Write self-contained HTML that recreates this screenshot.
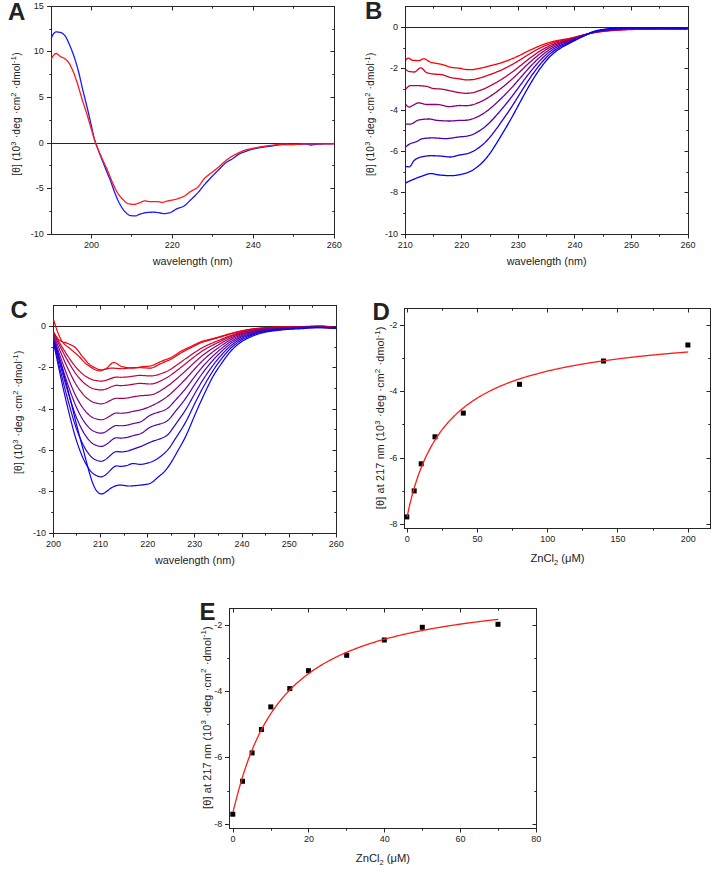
<!DOCTYPE html>
<html><head><meta charset="utf-8"><style>
html,body{margin:0;padding:0;background:#fff;}
svg{display:block;}
text{font-family:"Liberation Sans", sans-serif;fill:#222;}
</style></head><body>
<svg width="720" height="873" viewBox="0 0 720 873">
<rect x="51.5" y="6.5" width="283.0" height="228.0" fill="none" stroke="#262626" stroke-width="1"/>
<path d="M91.5,234.5 V238.5 M91.5,6.5 V10.5 M172.5,234.5 V238.5 M172.5,6.5 V10.5 M253.5,234.5 V238.5 M253.5,6.5 V10.5 M334.5,234.5 V238.5 M334.5,6.5 V10.5 M131.5,234.5 V236.7 M131.5,6.5 V8.7 M212.5,234.5 V236.7 M212.5,6.5 V8.7 M293.5,234.5 V236.7 M293.5,6.5 V8.7 M51.5,6.5 H47.0 M334.5,6.5 H330.5 M51.5,51.5 H47.0 M334.5,51.5 H330.5 M51.5,97.5 H47.0 M334.5,97.5 H330.5 M51.5,143.5 H47.0 M334.5,143.5 H330.5 M51.5,188.5 H47.0 M334.5,188.5 H330.5 M51.5,234.5 H47.0 M334.5,234.5 H330.5 M51.5,29.5 H49.3 M334.5,29.5 H332.3 M51.5,74.5 H49.3 M334.5,74.5 H332.3 M51.5,120.5 H49.3 M334.5,120.5 H332.3 M51.5,165.5 H49.3 M334.5,165.5 H332.3 M51.5,211.5 H49.3 M334.5,211.5 H332.3" stroke="#262626" stroke-width="1" fill="none"/>
<text x="91.46" y="247.90" text-anchor="middle" font-size="9">200</text>
<text x="172.37" y="247.90" text-anchor="middle" font-size="9">220</text>
<text x="253.29" y="247.90" text-anchor="middle" font-size="9">240</text>
<text x="334.20" y="247.90" text-anchor="middle" font-size="9">260</text>
<text x="43.70" y="8.90" text-anchor="end" font-size="9">15</text>
<text x="43.70" y="54.48" text-anchor="end" font-size="9">10</text>
<text x="43.70" y="100.06" text-anchor="end" font-size="9">5</text>
<text x="43.70" y="145.64" text-anchor="end" font-size="9">0</text>
<text x="43.70" y="191.22" text-anchor="end" font-size="9">-5</text>
<text x="43.70" y="236.80" text-anchor="end" font-size="9">-10</text>
<path d="M51.5,143.5 H334.5" stroke="#262626" stroke-width="1"/>
<path d="M51.20,38.50 L51.90,36.66 L52.60,35.13 L53.30,34.11 L54.00,33.25 L54.70,32.53 L55.40,32.05 L56.10,31.90 L56.80,31.92 L57.50,31.98 L58.20,32.06 L58.90,32.18 L59.60,32.31 L60.30,32.47 L61.00,32.65 L61.70,32.88 L62.40,33.27 L63.10,33.80 L63.80,34.44 L64.50,35.16 L65.20,35.96 L65.90,37.02 L66.60,38.32 L67.30,39.79 L68.00,41.37 L68.70,43.00 L69.40,44.60 L70.10,46.20 L70.80,47.86 L71.50,49.60 L72.20,51.40 L72.90,53.28 L73.60,55.23 L74.30,57.26 L75.00,59.39 L75.70,61.62 L76.40,63.94 L77.10,66.35 L77.80,68.85 L78.50,71.46 L79.20,74.26 L79.90,77.25 L80.60,80.35 L81.30,83.48 L82.00,86.59 L82.70,89.58 L83.40,92.45 L84.10,95.24 L84.80,97.99 L85.50,100.74 L86.20,103.51 L86.90,106.34 L87.60,109.26 L88.30,112.27 L89.00,115.34 L89.70,118.44 L90.40,121.56 L91.10,124.67 L91.80,127.74 L92.50,130.92 L93.20,134.13 L93.90,137.12 L94.60,139.68 L95.30,141.90 L96.00,143.91 L96.70,145.80 L97.40,147.62 L98.10,149.46 L98.80,151.35 L99.50,153.20 L100.20,155.03 L100.90,156.84 L101.60,158.64 L102.30,160.44 L103.00,162.22 L103.70,163.99 L104.40,165.75 L105.10,167.50 L105.80,169.25 L106.50,170.99 L107.20,172.70 L107.90,174.40 L108.60,176.09 L109.30,177.81 L110.00,179.56 L110.70,181.36 L111.40,183.26 L112.10,185.25 L112.80,187.26 L113.50,189.27 L114.20,191.21 L114.90,193.05 L115.60,194.80 L116.30,196.52 L117.00,198.20 L117.70,199.82 L118.40,201.34 L119.10,202.74 L119.80,204.03 L120.50,205.27 L121.20,206.48 L121.90,207.64 L122.60,208.72 L123.30,209.72 L124.00,210.62 L124.70,211.40 L125.40,212.08 L126.10,212.75 L126.80,213.39 L127.50,213.99 L128.20,214.53 L128.90,214.98 L129.60,215.33 L130.30,215.55 L131.00,215.65 L131.70,215.72 L132.40,215.79 L133.10,215.84 L133.80,215.87 L134.50,215.90 L135.20,215.89 L135.90,215.78 L136.60,215.56 L137.30,215.27 L138.00,214.96 L138.70,214.65 L139.40,214.40 L140.10,214.18 L140.80,213.95 L141.50,213.72 L142.20,213.50 L142.90,213.28 L143.60,213.08 L144.30,212.91 L145.00,212.76 L145.70,212.65 L146.40,212.57 L147.10,212.51 L147.80,212.44 L148.50,212.39 L149.20,212.33 L149.90,212.29 L150.60,212.25 L151.30,212.23 L152.00,212.21 L152.70,212.20 L153.40,212.21 L154.10,212.23 L154.80,212.27 L155.50,212.32 L156.20,212.39 L156.90,212.46 L157.60,212.53 L158.30,212.60 L159.00,212.70 L159.70,212.84 L160.40,213.00 L161.10,213.17 L161.80,213.33 L162.50,213.47 L163.20,213.56 L163.90,213.60 L164.60,213.58 L165.30,213.53 L166.00,213.45 L166.70,213.34 L167.40,213.22 L168.10,213.08 L168.80,212.93 L169.50,212.78 L170.20,212.56 L170.90,212.27 L171.60,211.92 L172.30,211.52 L173.00,211.09 L173.70,210.64 L174.40,210.18 L175.10,209.74 L175.80,209.32 L176.50,208.94 L177.20,208.62 L177.90,208.33 L178.60,208.07 L179.30,207.83 L180.00,207.59 L180.70,207.36 L181.40,207.11 L182.10,206.84 L182.80,206.55 L183.50,206.21 L184.20,205.83 L184.90,205.36 L185.60,204.81 L186.30,204.20 L187.00,203.54 L187.70,202.84 L188.40,202.12 L189.10,201.40 L189.80,200.68 L190.50,199.99 L191.20,199.32 L191.90,198.66 L192.60,198.00 L193.30,197.33 L194.00,196.66 L194.70,195.98 L195.40,195.29 L196.10,194.59 L196.80,193.87 L197.50,193.12 L198.20,192.36 L198.90,191.55 L199.60,190.71 L200.30,189.85 L201.00,188.97 L201.70,188.08 L202.40,187.19 L203.10,186.32 L203.80,185.46 L204.50,184.63 L205.20,183.83 L205.90,183.04 L206.60,182.26 L207.30,181.49 L208.00,180.72 L208.70,179.97 L209.40,179.22 L210.10,178.48 L210.80,177.74 L211.50,177.01 L212.20,176.28 L212.90,175.57 L213.60,174.86 L214.30,174.16 L215.00,173.46 L215.70,172.77 L216.40,172.08 L217.10,171.39 L217.80,170.70 L218.50,170.00 L219.20,169.29 L219.90,168.55 L220.60,167.80 L221.30,167.04 L222.00,166.29 L222.70,165.55 L223.40,164.84 L224.10,164.17 L224.80,163.54 L225.50,162.98 L226.20,162.47 L226.90,162.00 L227.60,161.57 L228.30,161.16 L229.00,160.76 L229.70,160.38 L230.40,159.99 L231.10,159.60 L231.80,159.19 L232.50,158.75 L233.20,158.28 L233.90,157.77 L234.60,157.24 L235.30,156.71 L236.00,156.17 L236.70,155.64 L237.40,155.13 L238.10,154.66 L238.80,154.23 L239.50,153.85 L240.20,153.51 L240.90,153.18 L241.60,152.88 L242.30,152.59 L243.00,152.32 L243.70,152.05 L244.40,151.80 L245.10,151.55 L245.80,151.31 L246.50,151.07 L247.20,150.83 L247.90,150.59 L248.60,150.36 L249.30,150.13 L250.00,149.91 L250.70,149.70 L251.40,149.50 L252.10,149.31 L252.80,149.12 L253.50,148.95 L254.20,148.79 L254.90,148.63 L255.60,148.48 L256.30,148.33 L257.00,148.19 L257.70,148.06 L258.40,147.93 L259.10,147.80 L259.80,147.68 L260.50,147.57 L261.20,147.45 L261.90,147.35 L262.60,147.24 L263.30,147.14 L264.00,147.04 L264.70,146.94 L265.40,146.85 L266.10,146.76 L266.80,146.66 L267.50,146.57 L268.20,146.48 L268.90,146.39 L269.60,146.30 L270.30,146.21 L271.00,146.11 L271.70,146.01 L272.40,145.91 L273.10,145.80 L273.80,145.69 L274.50,145.58 L275.20,145.47 L275.90,145.36 L276.60,145.26 L277.30,145.15 L278.00,145.06 L278.70,144.97 L279.40,144.88 L280.10,144.81 L280.80,144.74 L281.50,144.69 L282.20,144.65 L282.90,144.62 L283.60,144.60 L284.30,144.59 L285.00,144.58 L285.70,144.57 L286.40,144.56 L287.10,144.56 L287.80,144.55 L288.50,144.55 L289.20,144.54 L289.90,144.54 L290.60,144.54 L291.30,144.53 L292.00,144.52 L292.70,144.52 L293.40,144.51 L294.10,144.50 L294.80,144.49 L295.50,144.47 L296.20,144.45 L296.90,144.43 L297.60,144.40 L298.30,144.37 L299.00,144.34 L299.70,144.31 L300.40,144.27 L301.10,144.24 L301.80,144.21 L302.50,144.18 L303.20,144.16 L303.90,144.14 L304.60,144.12 L305.30,144.11 L306.00,144.10 L306.70,144.11 L307.40,144.21 L308.10,144.38 L308.80,144.58 L309.50,144.78 L310.20,144.93 L310.90,145.00 L311.60,144.98 L312.30,144.90 L313.00,144.79 L313.70,144.66 L314.40,144.53 L315.10,144.41 L315.80,144.32 L316.50,144.26 L317.20,144.21 L317.90,144.16 L318.60,144.12 L319.30,144.08 L320.00,144.05 L320.70,144.02 L321.40,144.01 L322.10,143.99 L322.80,143.98 L323.50,143.97 L324.20,143.96 L324.90,143.96 L325.60,143.95 L326.30,143.94 L327.00,143.93 L327.70,143.93 L328.40,143.92 L329.10,143.92 L329.80,143.91 L330.50,143.91 L331.20,143.91 L331.90,143.90 L332.60,143.90 L333.30,143.90 L333.90,143.90" stroke="#1a1aff" stroke-width="1.3" fill="none"/>
<path d="M51.20,59.50 L51.90,57.91 L52.60,56.57 L53.30,55.64 L54.00,54.82 L54.70,54.12 L55.40,53.64 L56.10,53.50 L56.80,53.69 L57.50,54.12 L58.20,54.69 L58.90,55.32 L59.60,55.93 L60.30,56.44 L61.00,56.82 L61.70,57.14 L62.40,57.44 L63.10,57.74 L63.80,58.06 L64.50,58.45 L65.20,58.91 L65.90,59.48 L66.60,60.14 L67.30,60.89 L68.00,61.72 L68.70,62.64 L69.40,63.70 L70.10,64.92 L70.80,66.29 L71.50,67.77 L72.20,69.33 L72.90,70.94 L73.60,72.60 L74.30,74.41 L75.00,76.33 L75.70,78.34 L76.40,80.43 L77.10,82.56 L77.80,84.72 L78.50,86.99 L79.20,89.37 L79.90,91.81 L80.60,94.26 L81.30,96.67 L82.00,99.00 L82.70,101.23 L83.40,103.40 L84.10,105.54 L84.80,107.65 L85.50,109.78 L86.20,111.92 L86.90,114.12 L87.60,116.38 L88.30,118.70 L89.00,121.06 L89.70,123.45 L90.40,125.85 L91.10,128.25 L91.80,130.64 L92.50,133.09 L93.20,135.55 L93.90,137.92 L94.60,140.10 L95.30,142.14 L96.00,144.09 L96.70,145.96 L97.40,147.76 L98.10,149.51 L98.80,151.20 L99.50,152.81 L100.20,154.36 L100.90,155.88 L101.60,157.39 L102.30,158.90 L103.00,160.44 L103.70,161.98 L104.40,163.51 L105.10,165.04 L105.80,166.57 L106.50,168.11 L107.20,169.67 L107.90,171.27 L108.60,172.91 L109.30,174.63 L110.00,176.41 L110.70,178.20 L111.40,179.97 L112.10,181.68 L112.80,183.30 L113.50,184.86 L114.20,186.39 L114.90,187.89 L115.60,189.32 L116.30,190.66 L117.00,191.88 L117.70,192.98 L118.40,194.03 L119.10,195.03 L119.80,195.97 L120.50,196.86 L121.20,197.70 L121.90,198.48 L122.60,199.20 L123.30,199.89 L124.00,200.59 L124.70,201.28 L125.40,201.94 L126.10,202.53 L126.80,203.03 L127.50,203.42 L128.20,203.68 L128.90,203.83 L129.60,203.96 L130.30,204.08 L131.00,204.19 L131.70,204.27 L132.40,204.34 L133.10,204.38 L133.80,204.40 L134.50,204.37 L135.20,204.25 L135.90,204.06 L136.60,203.83 L137.30,203.57 L138.00,203.30 L138.70,203.04 L139.40,202.80 L140.10,202.55 L140.80,202.26 L141.50,201.94 L142.20,201.63 L142.90,201.35 L143.60,201.11 L144.30,200.96 L145.00,200.90 L145.70,200.93 L146.40,201.03 L147.10,201.15 L147.80,201.30 L148.50,201.45 L149.20,201.58 L149.90,201.67 L150.60,201.70 L151.30,201.70 L152.00,201.70 L152.70,201.70 L153.40,201.70 L154.10,201.70 L154.80,201.70 L155.50,201.70 L156.20,201.70 L156.90,201.70 L157.60,201.70 L158.30,201.70 L159.00,201.78 L159.70,201.96 L160.40,202.17 L161.10,202.34 L161.80,202.40 L162.50,202.35 L163.20,202.23 L163.90,202.06 L164.60,201.86 L165.30,201.64 L166.00,201.43 L166.70,201.22 L167.40,201.05 L168.10,200.90 L168.80,200.76 L169.50,200.62 L170.20,200.48 L170.90,200.34 L171.60,200.21 L172.30,200.07 L173.00,199.93 L173.70,199.78 L174.40,199.63 L175.10,199.47 L175.80,199.29 L176.50,199.11 L177.20,198.91 L177.90,198.70 L178.60,198.47 L179.30,198.23 L180.00,197.97 L180.70,197.70 L181.40,197.41 L182.10,197.11 L182.80,196.79 L183.50,196.45 L184.20,196.09 L184.90,195.69 L185.60,195.23 L186.30,194.74 L187.00,194.22 L187.70,193.68 L188.40,193.14 L189.10,192.60 L189.80,192.09 L190.50,191.60 L191.20,191.15 L191.90,190.74 L192.60,190.35 L193.30,189.98 L194.00,189.61 L194.70,189.24 L195.40,188.85 L196.10,188.42 L196.80,187.96 L197.50,187.44 L198.20,186.84 L198.90,186.09 L199.60,185.22 L200.30,184.25 L201.00,183.22 L201.70,182.17 L202.40,181.13 L203.10,180.13 L203.80,179.21 L204.50,178.40 L205.20,177.72 L205.90,177.08 L206.60,176.49 L207.30,175.92 L208.00,175.38 L208.70,174.86 L209.40,174.34 L210.10,173.82 L210.80,173.30 L211.50,172.76 L212.20,172.20 L212.90,171.65 L213.60,171.10 L214.30,170.56 L215.00,170.01 L215.70,169.46 L216.40,168.90 L217.10,168.34 L217.80,167.77 L218.50,167.18 L219.20,166.58 L219.90,165.95 L220.60,165.31 L221.30,164.65 L222.00,163.99 L222.70,163.33 L223.40,162.69 L224.10,162.06 L224.80,161.45 L225.50,160.88 L226.20,160.33 L226.90,159.80 L227.60,159.27 L228.30,158.76 L229.00,158.26 L229.70,157.78 L230.40,157.31 L231.10,156.86 L231.80,156.42 L232.50,156.00 L233.20,155.60 L233.90,155.21 L234.60,154.83 L235.30,154.46 L236.00,154.10 L236.70,153.76 L237.40,153.42 L238.10,153.09 L238.80,152.77 L239.50,152.46 L240.20,152.14 L240.90,151.82 L241.60,151.51 L242.30,151.20 L243.00,150.90 L243.70,150.62 L244.40,150.35 L245.10,150.10 L245.80,149.87 L246.50,149.67 L247.20,149.50 L247.90,149.33 L248.60,149.19 L249.30,149.05 L250.00,148.91 L250.70,148.79 L251.40,148.66 L252.10,148.53 L252.80,148.40 L253.50,148.26 L254.20,148.12 L254.90,147.97 L255.60,147.82 L256.30,147.68 L257.00,147.53 L257.70,147.39 L258.40,147.25 L259.10,147.11 L259.80,146.99 L260.50,146.87 L261.20,146.75 L261.90,146.64 L262.60,146.52 L263.30,146.41 L264.00,146.31 L264.70,146.20 L265.40,146.10 L266.10,146.00 L266.80,145.90 L267.50,145.81 L268.20,145.72 L268.90,145.63 L269.60,145.55 L270.30,145.46 L271.00,145.38 L271.70,145.29 L272.40,145.20 L273.10,145.11 L273.80,145.02 L274.50,144.93 L275.20,144.84 L275.90,144.75 L276.60,144.67 L277.30,144.59 L278.00,144.52 L278.70,144.45 L279.40,144.39 L280.10,144.33 L280.80,144.28 L281.50,144.25 L282.20,144.22 L282.90,144.20 L283.60,144.20 L284.30,144.20 L285.00,144.21 L285.70,144.22 L286.40,144.24 L287.10,144.25 L287.80,144.27 L288.50,144.29 L289.20,144.31 L289.90,144.33 L290.60,144.35 L291.30,144.36 L292.00,144.38 L292.70,144.39 L293.40,144.40 L294.10,144.40 L294.80,144.40 L295.50,144.38 L296.20,144.36 L296.90,144.34 L297.60,144.31 L298.30,144.27 L299.00,144.23 L299.70,144.19 L300.40,144.14 L301.10,144.10 L301.80,144.06 L302.50,144.02 L303.20,143.99 L303.90,143.95 L304.60,143.93 L305.30,143.91 L306.00,143.90 L306.70,143.90 L307.40,143.90 L308.10,143.90 L308.80,143.90 L309.50,143.90 L310.20,143.90 L310.90,143.90 L311.60,143.90 L312.30,143.90 L313.00,143.90 L313.70,143.90 L314.40,143.90 L315.10,143.90 L315.80,143.90 L316.50,143.90 L317.20,143.90 L317.90,143.90 L318.60,143.90 L319.30,143.90 L320.00,143.90 L320.70,143.90 L321.40,143.90 L322.10,143.90 L322.80,143.90 L323.50,143.89 L324.20,143.89 L324.90,143.88 L325.60,143.87 L326.30,143.86 L327.00,143.85 L327.70,143.84 L328.40,143.82 L329.10,143.81 L329.80,143.80 L330.50,143.78 L331.20,143.76 L331.90,143.75 L332.60,143.73 L333.30,143.71 L333.90,143.70" stroke="#ff1a1a" stroke-width="1.3" fill="none"/>
<text transform="translate(20.2,114) rotate(-90)" text-anchor="middle" font-size="10.1" letter-spacing="0.22">[θ] (10<tspan font-size="7.47" dy="-4.24">3</tspan><tspan dy="4.24"> ·deg ·cm</tspan><tspan font-size="7.47" dy="-4.24">2</tspan><tspan dy="4.24"> ·dmol</tspan><tspan font-size="7.47" dy="-4.24">-1</tspan><tspan dy="4.24">)</tspan></text>
<text x="192.60" y="265.10" text-anchor="middle" font-size="10.8">wavelength (nm)</text>
<text x="8" y="19.5" font-size="24" font-weight="bold">A</text>
<rect x="405.5" y="6.5" width="283.0" height="228.0" fill="none" stroke="#262626" stroke-width="1"/>
<path d="M405.5,234.5 V238.5 M405.5,6.5 V10.5 M461.5,234.5 V238.5 M461.5,6.5 V10.5 M518.5,234.5 V238.5 M518.5,6.5 V10.5 M574.5,234.5 V238.5 M574.5,6.5 V10.5 M631.5,234.5 V238.5 M631.5,6.5 V10.5 M688.5,234.5 V238.5 M688.5,6.5 V10.5 M433.5,234.5 V236.7 M433.5,6.5 V8.7 M490.5,234.5 V236.7 M490.5,6.5 V8.7 M546.5,234.5 V236.7 M546.5,6.5 V8.7 M603.5,234.5 V236.7 M603.5,6.5 V8.7 M659.5,234.5 V236.7 M659.5,6.5 V8.7 M405.5,27.5 H401.0 M688.5,27.5 H684.5 M405.5,68.5 H401.0 M688.5,68.5 H684.5 M405.5,110.5 H401.0 M688.5,110.5 H684.5 M405.5,151.5 H401.0 M688.5,151.5 H684.5 M405.5,192.5 H401.0 M688.5,192.5 H684.5 M405.5,234.5 H401.0 M688.5,234.5 H684.5 M405.5,48.5 H403.3 M688.5,48.5 H686.3 M405.5,89.5 H403.3 M688.5,89.5 H686.3 M405.5,130.5 H403.3 M688.5,130.5 H686.3 M405.5,172.5 H403.3 M688.5,172.5 H686.3 M405.5,213.5 H403.3 M688.5,213.5 H686.3" stroke="#262626" stroke-width="1" fill="none"/>
<text x="405.30" y="247.60" text-anchor="middle" font-size="9">210</text>
<text x="461.84" y="247.60" text-anchor="middle" font-size="9">220</text>
<text x="518.38" y="247.60" text-anchor="middle" font-size="9">230</text>
<text x="574.92" y="247.60" text-anchor="middle" font-size="9">240</text>
<text x="631.46" y="247.60" text-anchor="middle" font-size="9">250</text>
<text x="688.00" y="247.60" text-anchor="middle" font-size="9">260</text>
<text x="398.00" y="29.86" text-anchor="end" font-size="9">0</text>
<text x="398.00" y="71.19" text-anchor="end" font-size="9">-2</text>
<text x="398.00" y="112.52" text-anchor="end" font-size="9">-4</text>
<text x="398.00" y="153.85" text-anchor="end" font-size="9">-6</text>
<text x="398.00" y="195.17" text-anchor="end" font-size="9">-8</text>
<text x="398.00" y="236.50" text-anchor="end" font-size="9">-10</text>
<path d="M405.5,27.5 H688.5" stroke="#262626" stroke-width="1"/>
<path d="M405.80,60.20 L406.50,59.29 L407.20,58.56 L407.90,58.15 L408.60,58.15 L409.30,58.43 L410.00,58.87 L410.70,59.37 L411.40,59.83 L412.10,60.14 L412.80,60.25 L413.50,60.32 L414.20,60.39 L414.90,60.45 L415.60,60.50 L416.30,60.54 L417.00,60.57 L417.70,60.59 L418.40,60.60 L419.10,60.55 L419.80,60.35 L420.50,60.04 L421.20,59.67 L421.90,59.31 L422.60,59.02 L423.30,58.83 L424.00,58.81 L424.70,58.95 L425.40,59.21 L426.10,59.56 L426.80,59.97 L427.50,60.43 L428.20,60.89 L428.90,61.34 L429.60,61.75 L430.30,62.09 L431.00,62.33 L431.70,62.51 L432.40,62.68 L433.10,62.83 L433.80,62.97 L434.50,63.10 L435.20,63.22 L435.90,63.34 L436.60,63.45 L437.30,63.56 L438.00,63.68 L438.70,63.80 L439.40,63.92 L440.10,64.06 L440.80,64.21 L441.50,64.37 L442.20,64.56 L442.90,64.77 L443.60,64.99 L444.30,65.23 L445.00,65.48 L445.70,65.72 L446.40,65.97 L447.10,66.22 L447.80,66.45 L448.50,66.68 L449.20,66.89 L449.90,67.07 L450.60,67.23 L451.30,67.37 L452.00,67.47 L452.70,67.56 L453.40,67.65 L454.10,67.72 L454.80,67.78 L455.50,67.84 L456.20,67.90 L456.90,67.96 L457.60,68.03 L458.30,68.10 L459.00,68.17 L459.70,68.26 L460.40,68.36 L461.10,68.50 L461.80,68.66 L462.50,68.84 L463.20,69.01 L463.90,69.18 L464.60,69.32 L465.30,69.42 L466.00,69.48 L466.70,69.50 L467.40,69.53 L468.10,69.55 L468.80,69.57 L469.50,69.59 L470.20,69.60 L470.90,69.61 L471.60,69.61 L472.30,69.61 L473.00,69.57 L473.70,69.49 L474.40,69.39 L475.10,69.26 L475.80,69.12 L476.50,68.97 L477.20,68.83 L477.90,68.69 L478.60,68.57 L479.30,68.43 L480.00,68.29 L480.70,68.15 L481.40,68.00 L482.10,67.84 L482.80,67.69 L483.50,67.52 L484.20,67.36 L484.90,67.18 L485.60,67.00 L486.30,66.81 L487.00,66.62 L487.70,66.42 L488.40,66.23 L489.10,66.04 L489.80,65.85 L490.50,65.67 L491.20,65.50 L491.90,65.33 L492.60,65.16 L493.30,64.99 L494.00,64.82 L494.70,64.65 L495.40,64.47 L496.10,64.28 L496.80,64.09 L497.50,63.90 L498.20,63.71 L498.90,63.51 L499.60,63.30 L500.30,63.09 L501.00,62.88 L501.70,62.66 L502.40,62.43 L503.10,62.20 L503.80,61.95 L504.50,61.70 L505.20,61.45 L505.90,61.19 L506.60,60.92 L507.30,60.65 L508.00,60.38 L508.70,60.11 L509.40,59.84 L510.10,59.56 L510.80,59.27 L511.50,58.98 L512.20,58.69 L512.90,58.40 L513.60,58.10 L514.30,57.79 L515.00,57.49 L515.70,57.17 L516.40,56.86 L517.10,56.54 L517.80,56.21 L518.50,55.88 L519.20,55.55 L519.90,55.22 L520.60,54.87 L521.30,54.53 L522.00,54.17 L522.70,53.81 L523.40,53.45 L524.10,53.09 L524.80,52.73 L525.50,52.38 L526.20,52.03 L526.90,51.69 L527.60,51.35 L528.30,51.02 L529.00,50.68 L529.70,50.35 L530.40,50.02 L531.10,49.70 L531.80,49.37 L532.50,49.05 L533.20,48.72 L533.90,48.40 L534.60,48.08 L535.30,47.76 L536.00,47.44 L536.70,47.14 L537.40,46.83 L538.10,46.54 L538.80,46.26 L539.50,45.97 L540.20,45.70 L540.90,45.43 L541.60,45.16 L542.30,44.90 L543.00,44.65 L543.70,44.39 L544.40,44.15 L545.10,43.90 L545.80,43.66 L546.50,43.43 L547.20,43.19 L547.90,42.97 L548.60,42.75 L549.30,42.53 L550.00,42.33 L550.70,42.13 L551.40,41.93 L552.10,41.74 L552.80,41.55 L553.50,41.37 L554.20,41.19 L554.90,41.02 L555.60,40.87 L556.30,40.72 L557.00,40.58 L557.70,40.44 L558.40,40.31 L559.10,40.19 L559.80,40.07 L560.50,39.95 L561.20,39.83 L561.90,39.71 L562.60,39.59 L563.30,39.48 L564.00,39.37 L564.70,39.26 L565.40,39.14 L566.10,39.03 L566.80,38.91 L567.50,38.79 L568.20,38.66 L568.90,38.52 L569.60,38.37 L570.30,38.22 L571.00,38.06 L571.70,37.90 L572.40,37.74 L573.10,37.57 L573.80,37.40 L574.50,37.23 L575.20,37.05 L575.90,36.86 L576.60,36.67 L577.30,36.47 L578.00,36.28 L578.70,36.09 L579.40,35.90 L580.10,35.72 L580.80,35.54 L581.50,35.36 L582.20,35.19 L582.90,35.01 L583.60,34.84 L584.30,34.67 L585.00,34.51 L585.70,34.35 L586.40,34.19 L587.10,34.03 L587.80,33.87 L588.50,33.71 L589.20,33.56 L589.90,33.41 L590.60,33.27 L591.30,33.13 L592.00,33.00 L592.70,32.87 L593.40,32.75 L594.10,32.63 L594.80,32.52 L595.50,32.41 L596.20,32.30 L596.90,32.20 L597.60,32.10 L598.30,32.00 L599.00,31.90 L599.70,31.81 L600.40,31.73 L601.10,31.64 L601.80,31.56 L602.50,31.48 L603.20,31.40 L603.90,31.32 L604.60,31.24 L605.30,31.17 L606.00,31.10 L606.70,31.03 L607.40,30.96 L608.10,30.89 L608.80,30.83 L609.50,30.76 L610.20,30.71 L610.90,30.65 L611.60,30.59 L612.30,30.54 L613.00,30.49 L613.70,30.44 L614.40,30.39 L615.10,30.34 L615.80,30.29 L616.50,30.25 L617.20,30.20 L617.90,30.15 L618.60,30.11 L619.30,30.06 L620.00,30.02 L620.70,29.98 L621.40,29.94 L622.10,29.90 L622.80,29.86 L623.50,29.82 L624.20,29.79 L624.90,29.75 L625.60,29.72 L626.30,29.69 L627.00,29.66 L627.70,29.63 L628.40,29.61 L629.10,29.58 L629.80,29.56 L630.50,29.55 L631.20,29.53 L631.90,29.51 L632.60,29.50 L633.30,29.48 L634.00,29.47 L634.70,29.45 L635.40,29.44 L636.10,29.43 L636.80,29.42 L637.50,29.41 L638.20,29.40 L638.90,29.39 L639.60,29.38 L640.30,29.37 L641.00,29.36 L641.70,29.35 L642.40,29.35 L643.10,29.34 L643.80,29.33 L644.50,29.32 L645.20,29.31 L645.90,29.31 L646.60,29.30 L647.30,29.29 L648.00,29.29 L648.70,29.28 L649.40,29.27 L650.10,29.27 L650.80,29.26 L651.50,29.26 L652.20,29.25 L652.90,29.25 L653.60,29.24 L654.30,29.24 L655.00,29.23 L655.70,29.23 L656.40,29.22 L657.10,29.22 L657.80,29.21 L658.50,29.21 L659.20,29.20 L659.90,29.20 L660.60,29.20 L661.30,29.19 L662.00,29.19 L662.70,29.19 L663.40,29.18 L664.10,29.18 L664.80,29.17 L665.50,29.17 L666.20,29.17 L666.90,29.16 L667.60,29.16 L668.30,29.16 L669.00,29.15 L669.70,29.15 L670.40,29.15 L671.10,29.14 L671.80,29.14 L672.50,29.14 L673.20,29.13 L673.90,29.13 L674.60,29.13 L675.30,29.13 L676.00,29.12 L676.70,29.12 L677.40,29.12 L678.10,29.12 L678.80,29.11 L679.50,29.11 L680.20,29.11 L680.90,29.11 L681.60,29.11 L682.30,29.11 L683.00,29.10 L683.70,29.10 L684.40,29.10 L685.10,29.10 L685.80,29.10 L686.50,29.10 L687.20,29.10 L687.50,29.10" stroke="rgb(255,0,0)" stroke-width="1.3" fill="none"/>
<path d="M405.80,69.50 L406.50,70.03 L407.20,70.53 L407.90,70.96 L408.60,71.30 L409.30,71.50 L410.00,71.62 L410.70,71.72 L411.40,71.81 L412.10,71.89 L412.80,71.94 L413.50,71.98 L414.20,72.00 L414.90,71.92 L415.60,71.59 L416.30,71.06 L417.00,70.40 L417.70,69.70 L418.40,69.01 L419.10,68.42 L419.80,67.99 L420.50,67.80 L421.20,67.91 L421.90,68.27 L422.60,68.82 L423.30,69.51 L424.00,70.25 L424.70,71.00 L425.40,71.68 L426.10,72.24 L426.80,72.60 L427.50,72.83 L428.20,73.05 L428.90,73.24 L429.60,73.41 L430.30,73.57 L431.00,73.71 L431.70,73.82 L432.40,73.93 L433.10,74.01 L433.80,74.08 L434.50,74.14 L435.20,74.19 L435.90,74.23 L436.60,74.27 L437.30,74.31 L438.00,74.35 L438.70,74.39 L439.40,74.43 L440.10,74.49 L440.80,74.56 L441.50,74.64 L442.20,74.76 L442.90,74.92 L443.60,75.11 L444.30,75.32 L445.00,75.56 L445.70,75.81 L446.40,76.07 L447.10,76.33 L447.80,76.59 L448.50,76.84 L449.20,77.08 L449.90,77.30 L450.60,77.50 L451.30,77.66 L452.00,77.79 L452.70,77.92 L453.40,78.03 L454.10,78.14 L454.80,78.23 L455.50,78.33 L456.20,78.42 L456.90,78.51 L457.60,78.60 L458.30,78.69 L459.00,78.79 L459.70,78.89 L460.40,78.99 L461.10,79.12 L461.80,79.26 L462.50,79.40 L463.20,79.53 L463.90,79.65 L464.60,79.75 L465.30,79.81 L466.00,79.84 L466.70,79.83 L467.40,79.83 L468.10,79.82 L468.80,79.80 L469.50,79.79 L470.20,79.77 L470.90,79.74 L471.60,79.72 L472.30,79.69 L473.00,79.61 L473.70,79.50 L474.40,79.36 L475.10,79.20 L475.80,79.02 L476.50,78.83 L477.20,78.65 L477.90,78.47 L478.60,78.30 L479.30,78.12 L480.00,77.93 L480.70,77.74 L481.40,77.53 L482.10,77.33 L482.80,77.12 L483.50,76.90 L484.20,76.67 L484.90,76.44 L485.60,76.20 L486.30,75.94 L487.00,75.68 L487.70,75.42 L488.40,75.15 L489.10,74.89 L489.80,74.62 L490.50,74.37 L491.20,74.11 L491.90,73.85 L492.60,73.59 L493.30,73.33 L494.00,73.07 L494.70,72.80 L495.40,72.53 L496.10,72.25 L496.80,71.97 L497.50,71.68 L498.20,71.39 L498.90,71.10 L499.60,70.80 L500.30,70.49 L501.00,70.18 L501.70,69.87 L502.40,69.55 L503.10,69.22 L503.80,68.88 L504.50,68.54 L505.20,68.19 L505.90,67.84 L506.60,67.49 L507.30,67.13 L508.00,66.76 L508.70,66.40 L509.40,66.03 L510.10,65.65 L510.80,65.27 L511.50,64.88 L512.20,64.49 L512.90,64.10 L513.60,63.70 L514.30,63.30 L515.00,62.90 L515.70,62.49 L516.40,62.07 L517.10,61.65 L517.80,61.23 L518.50,60.80 L519.20,60.37 L519.90,59.94 L520.60,59.51 L521.30,59.06 L522.00,58.61 L522.70,58.16 L523.40,57.71 L524.10,57.26 L524.80,56.81 L525.50,56.36 L526.20,55.93 L526.90,55.50 L527.60,55.07 L528.30,54.65 L529.00,54.23 L529.70,53.81 L530.40,53.40 L531.10,52.98 L531.80,52.58 L532.50,52.17 L533.20,51.76 L533.90,51.36 L534.60,50.96 L535.30,50.56 L536.00,50.17 L536.70,49.78 L537.40,49.40 L538.10,49.04 L538.80,48.68 L539.50,48.33 L540.20,47.98 L540.90,47.64 L541.60,47.30 L542.30,46.97 L543.00,46.65 L543.70,46.33 L544.40,46.02 L545.10,45.72 L545.80,45.42 L546.50,45.12 L547.20,44.83 L547.90,44.54 L548.60,44.27 L549.30,44.00 L550.00,43.74 L550.70,43.50 L551.40,43.25 L552.10,43.02 L552.80,42.78 L553.50,42.56 L554.20,42.35 L554.90,42.14 L555.60,41.94 L556.30,41.75 L557.00,41.58 L557.70,41.41 L558.40,41.24 L559.10,41.08 L559.80,40.93 L560.50,40.78 L561.20,40.63 L561.90,40.47 L562.60,40.33 L563.30,40.18 L564.00,40.04 L564.70,39.91 L565.40,39.77 L566.10,39.63 L566.80,39.49 L567.50,39.34 L568.20,39.18 L568.90,39.02 L569.60,38.85 L570.30,38.68 L571.00,38.50 L571.70,38.32 L572.40,38.14 L573.10,37.95 L573.80,37.76 L574.50,37.57 L575.20,37.37 L575.90,37.17 L576.60,36.96 L577.30,36.75 L578.00,36.54 L578.70,36.33 L579.40,36.13 L580.10,35.93 L580.80,35.73 L581.50,35.54 L582.20,35.35 L582.90,35.16 L583.60,34.98 L584.30,34.79 L585.00,34.61 L585.70,34.43 L586.40,34.25 L587.10,34.07 L587.80,33.90 L588.50,33.72 L589.20,33.55 L589.90,33.38 L590.60,33.21 L591.30,33.06 L592.00,32.91 L592.70,32.78 L593.40,32.64 L594.10,32.51 L594.80,32.39 L595.50,32.27 L596.20,32.15 L596.90,32.04 L597.60,31.94 L598.30,31.83 L599.00,31.73 L599.70,31.64 L600.40,31.54 L601.10,31.46 L601.80,31.37 L602.50,31.29 L603.20,31.20 L603.90,31.12 L604.60,31.05 L605.30,30.97 L606.00,30.89 L606.70,30.82 L607.40,30.75 L608.10,30.68 L608.80,30.62 L609.50,30.55 L610.20,30.49 L610.90,30.44 L611.60,30.38 L612.30,30.33 L613.00,30.28 L613.70,30.23 L614.40,30.18 L615.10,30.13 L615.80,30.08 L616.50,30.04 L617.20,29.99 L617.90,29.95 L618.60,29.90 L619.30,29.86 L620.00,29.82 L620.70,29.78 L621.40,29.74 L622.10,29.70 L622.80,29.67 L623.50,29.63 L624.20,29.59 L624.90,29.56 L625.60,29.53 L626.30,29.49 L627.00,29.47 L627.70,29.44 L628.40,29.42 L629.10,29.40 L629.80,29.38 L630.50,29.36 L631.20,29.35 L631.90,29.33 L632.60,29.32 L633.30,29.30 L634.00,29.29 L634.70,29.28 L635.40,29.27 L636.10,29.26 L636.80,29.25 L637.50,29.24 L638.20,29.23 L638.90,29.22 L639.60,29.21 L640.30,29.20 L641.00,29.20 L641.70,29.19 L642.40,29.18 L643.10,29.17 L643.80,29.17 L644.50,29.16 L645.20,29.15 L645.90,29.15 L646.60,29.14 L647.30,29.13 L648.00,29.13 L648.70,29.12 L649.40,29.12 L650.10,29.11 L650.80,29.11 L651.50,29.10 L652.20,29.10 L652.90,29.09 L653.60,29.09 L654.30,29.08 L655.00,29.08 L655.70,29.07 L656.40,29.07 L657.10,29.07 L657.80,29.06 L658.50,29.06 L659.20,29.05 L659.90,29.05 L660.60,29.05 L661.30,29.04 L662.00,29.04 L662.70,29.04 L663.40,29.03 L664.10,29.03 L664.80,29.03 L665.50,29.03 L666.20,29.02 L666.90,29.02 L667.60,29.02 L668.30,29.01 L669.00,29.01 L669.70,29.01 L670.40,29.01 L671.10,29.01 L671.80,29.00 L672.50,29.00 L673.20,29.00 L673.90,29.00 L674.60,29.00 L675.30,28.99 L676.00,28.99 L676.70,28.99 L677.40,28.99 L678.10,28.99 L678.80,28.99 L679.50,28.99 L680.20,28.99 L680.90,28.99 L681.60,28.99 L682.30,28.99 L683.00,28.99 L683.70,28.99 L684.40,28.99 L685.10,28.99 L685.80,28.99 L686.50,28.99 L687.20,28.99 L687.50,28.99" stroke="rgb(219,0,36)" stroke-width="1.3" fill="none"/>
<path d="M405.80,89.10 L406.50,88.32 L407.20,87.56 L407.90,86.86 L408.60,86.28 L409.30,85.85 L410.00,85.62 L410.70,85.60 L411.40,85.60 L412.10,85.60 L412.80,85.60 L413.50,85.60 L414.20,85.60 L414.90,85.60 L415.60,85.60 L416.30,85.60 L417.00,85.60 L417.70,85.61 L418.40,85.63 L419.10,85.66 L419.80,85.70 L420.50,85.74 L421.20,85.79 L421.90,85.85 L422.60,85.91 L423.30,85.98 L424.00,86.06 L424.70,86.14 L425.40,86.22 L426.10,86.31 L426.80,86.40 L427.50,86.54 L428.20,86.75 L428.90,87.02 L429.60,87.32 L430.30,87.63 L431.00,87.93 L431.70,88.19 L432.40,88.39 L433.10,88.51 L433.80,88.59 L434.50,88.65 L435.20,88.71 L435.90,88.75 L436.60,88.79 L437.30,88.83 L438.00,88.87 L438.70,88.91 L439.40,88.95 L440.10,89.00 L440.80,89.06 L441.50,89.13 L442.20,89.22 L442.90,89.32 L443.60,89.44 L444.30,89.57 L445.00,89.70 L445.70,89.85 L446.40,90.00 L447.10,90.15 L447.80,90.31 L448.50,90.46 L449.20,90.62 L449.90,90.77 L450.60,90.92 L451.30,91.06 L452.00,91.20 L452.70,91.34 L453.40,91.49 L454.10,91.64 L454.80,91.80 L455.50,91.95 L456.20,92.09 L456.90,92.24 L457.60,92.37 L458.30,92.50 L459.00,92.61 L459.70,92.71 L460.40,92.80 L461.10,92.89 L461.80,92.98 L462.50,93.06 L463.20,93.14 L463.90,93.21 L464.60,93.26 L465.30,93.29 L466.00,93.31 L466.70,93.30 L467.40,93.27 L468.10,93.23 L468.80,93.18 L469.50,93.11 L470.20,93.04 L470.90,92.96 L471.60,92.87 L472.30,92.78 L473.00,92.65 L473.70,92.49 L474.40,92.31 L475.10,92.10 L475.80,91.87 L476.50,91.64 L477.20,91.41 L477.90,91.18 L478.60,90.95 L479.30,90.71 L480.00,90.46 L480.70,90.20 L481.40,89.93 L482.10,89.66 L482.80,89.37 L483.50,89.08 L484.20,88.78 L484.90,88.47 L485.60,88.15 L486.30,87.81 L487.00,87.46 L487.70,87.11 L488.40,86.75 L489.10,86.39 L489.80,86.03 L490.50,85.67 L491.20,85.30 L491.90,84.93 L492.60,84.56 L493.30,84.18 L494.00,83.79 L494.70,83.40 L495.40,83.01 L496.10,82.61 L496.80,82.21 L497.50,81.80 L498.20,81.38 L498.90,80.96 L499.60,80.54 L500.30,80.11 L501.00,79.68 L501.70,79.24 L502.40,78.79 L503.10,78.34 L503.80,77.89 L504.50,77.43 L505.20,76.96 L505.90,76.49 L506.60,76.02 L507.30,75.54 L508.00,75.06 L508.70,74.57 L509.40,74.07 L510.10,73.57 L510.80,73.06 L511.50,72.55 L512.20,72.04 L512.90,71.52 L513.60,70.99 L514.30,70.47 L515.00,69.93 L515.70,69.39 L516.40,68.85 L517.10,68.30 L517.80,67.75 L518.50,67.20 L519.20,66.64 L519.90,66.09 L520.60,65.53 L521.30,64.96 L522.00,64.39 L522.70,63.82 L523.40,63.24 L524.10,62.67 L524.80,62.11 L525.50,61.55 L526.20,61.00 L526.90,60.45 L527.60,59.91 L528.30,59.37 L529.00,58.84 L529.70,58.31 L530.40,57.78 L531.10,57.26 L531.80,56.74 L532.50,56.23 L533.20,55.72 L533.90,55.21 L534.60,54.70 L535.30,54.20 L536.00,53.71 L536.70,53.22 L537.40,52.75 L538.10,52.28 L538.80,51.83 L539.50,51.38 L540.20,50.94 L540.90,50.51 L541.60,50.08 L542.30,49.67 L543.00,49.26 L543.70,48.86 L544.40,48.47 L545.10,48.08 L545.80,47.69 L546.50,47.32 L547.20,46.95 L547.90,46.59 L548.60,46.24 L549.30,45.91 L550.00,45.59 L550.70,45.28 L551.40,44.97 L552.10,44.68 L552.80,44.39 L553.50,44.12 L554.20,43.85 L554.90,43.59 L555.60,43.34 L556.30,43.10 L557.00,42.88 L557.70,42.66 L558.40,42.45 L559.10,42.24 L559.80,42.04 L560.50,41.85 L561.20,41.65 L561.90,41.46 L562.60,41.28 L563.30,41.10 L564.00,40.92 L564.70,40.75 L565.40,40.58 L566.10,40.41 L566.80,40.24 L567.50,40.06 L568.20,39.87 L568.90,39.68 L569.60,39.48 L570.30,39.28 L571.00,39.07 L571.70,38.87 L572.40,38.66 L573.10,38.45 L573.80,38.23 L574.50,38.02 L575.20,37.79 L575.90,37.57 L576.60,37.34 L577.30,37.11 L578.00,36.87 L578.70,36.65 L579.40,36.42 L580.10,36.20 L580.80,35.99 L581.50,35.77 L582.20,35.56 L582.90,35.35 L583.60,35.15 L584.30,34.94 L585.00,34.74 L585.70,34.54 L586.40,34.34 L587.10,34.13 L587.80,33.93 L588.50,33.73 L589.20,33.53 L589.90,33.33 L590.60,33.15 L591.30,32.97 L592.00,32.81 L592.70,32.65 L593.40,32.50 L594.10,32.36 L594.80,32.22 L595.50,32.09 L596.20,31.96 L596.90,31.84 L597.60,31.73 L598.30,31.62 L599.00,31.51 L599.70,31.41 L600.40,31.31 L601.10,31.22 L601.80,31.13 L602.50,31.04 L603.20,30.95 L603.90,30.87 L604.60,30.79 L605.30,30.71 L606.00,30.63 L606.70,30.55 L607.40,30.48 L608.10,30.41 L608.80,30.34 L609.50,30.28 L610.20,30.22 L610.90,30.16 L611.60,30.11 L612.30,30.05 L613.00,30.00 L613.70,29.95 L614.40,29.91 L615.10,29.86 L615.80,29.82 L616.50,29.77 L617.20,29.73 L617.90,29.68 L618.60,29.64 L619.30,29.60 L620.00,29.56 L620.70,29.52 L621.40,29.48 L622.10,29.45 L622.80,29.41 L623.50,29.37 L624.20,29.34 L624.90,29.31 L625.60,29.28 L626.30,29.25 L627.00,29.22 L627.70,29.20 L628.40,29.18 L629.10,29.16 L629.80,29.14 L630.50,29.12 L631.20,29.11 L631.90,29.10 L632.60,29.08 L633.30,29.07 L634.00,29.06 L634.70,29.05 L635.40,29.04 L636.10,29.03 L636.80,29.02 L637.50,29.02 L638.20,29.01 L638.90,29.00 L639.60,28.99 L640.30,28.99 L641.00,28.98 L641.70,28.97 L642.40,28.97 L643.10,28.96 L643.80,28.95 L644.50,28.95 L645.20,28.94 L645.90,28.94 L646.60,28.93 L647.30,28.93 L648.00,28.92 L648.70,28.92 L649.40,28.91 L650.10,28.91 L650.80,28.90 L651.50,28.90 L652.20,28.89 L652.90,28.89 L653.60,28.89 L654.30,28.88 L655.00,28.88 L655.70,28.87 L656.40,28.87 L657.10,28.87 L657.80,28.86 L658.50,28.86 L659.20,28.86 L659.90,28.86 L660.60,28.85 L661.30,28.85 L662.00,28.85 L662.70,28.84 L663.40,28.84 L664.10,28.84 L664.80,28.84 L665.50,28.84 L666.20,28.83 L666.90,28.83 L667.60,28.83 L668.30,28.83 L669.00,28.83 L669.70,28.83 L670.40,28.83 L671.10,28.83 L671.80,28.83 L672.50,28.83 L673.20,28.82 L673.90,28.82 L674.60,28.82 L675.30,28.82 L676.00,28.82 L676.70,28.82 L677.40,28.82 L678.10,28.83 L678.80,28.83 L679.50,28.83 L680.20,28.83 L680.90,28.83 L681.60,28.83 L682.30,28.83 L683.00,28.83 L683.70,28.83 L684.40,28.84 L685.10,28.84 L685.80,28.84 L686.50,28.84 L687.20,28.85 L687.50,28.85" stroke="rgb(182,0,73)" stroke-width="1.3" fill="none"/>
<path d="M405.80,104.50 L406.50,105.36 L407.20,106.05 L407.90,106.57 L408.60,106.89 L409.30,107.00 L410.00,106.87 L410.70,106.56 L411.40,106.15 L412.10,105.75 L412.80,105.41 L413.50,105.04 L414.20,104.65 L414.90,104.24 L415.60,103.85 L416.30,103.50 L417.00,103.21 L417.70,103.00 L418.40,102.91 L419.10,102.92 L419.80,102.99 L420.50,103.12 L421.20,103.28 L421.90,103.47 L422.60,103.67 L423.30,103.87 L424.00,104.07 L424.70,104.24 L425.40,104.38 L426.10,104.47 L426.80,104.50 L427.50,104.50 L428.20,104.50 L428.90,104.50 L429.60,104.50 L430.30,104.50 L431.00,104.50 L431.70,104.50 L432.40,104.50 L433.10,104.50 L433.80,104.50 L434.50,104.50 L435.20,104.50 L435.90,104.50 L436.60,104.50 L437.30,104.50 L438.00,104.53 L438.70,104.60 L439.40,104.69 L440.10,104.81 L440.80,104.95 L441.50,105.11 L442.20,105.27 L442.90,105.45 L443.60,105.63 L444.30,105.80 L445.00,105.97 L445.70,106.13 L446.40,106.27 L447.10,106.39 L447.80,106.49 L448.50,106.56 L449.20,106.60 L449.90,106.60 L450.60,106.57 L451.30,106.51 L452.00,106.44 L452.70,106.36 L453.40,106.26 L454.10,106.15 L454.80,106.04 L455.50,105.94 L456.20,105.83 L456.90,105.73 L457.60,105.65 L458.30,105.58 L459.00,105.53 L459.70,105.51 L460.40,105.51 L461.10,105.53 L461.80,105.56 L462.50,105.59 L463.20,105.63 L463.90,105.67 L464.60,105.71 L465.30,105.73 L466.00,105.74 L466.70,105.72 L467.40,105.68 L468.10,105.60 L468.80,105.51 L469.50,105.40 L470.20,105.28 L470.90,105.14 L471.60,105.01 L472.30,104.87 L473.00,104.70 L473.70,104.49 L474.40,104.26 L475.10,104.01 L475.80,103.74 L476.50,103.47 L477.20,103.19 L477.90,102.91 L478.60,102.62 L479.30,102.33 L480.00,102.02 L480.70,101.71 L481.40,101.38 L482.10,101.04 L482.80,100.69 L483.50,100.33 L484.20,99.96 L484.90,99.58 L485.60,99.18 L486.30,98.77 L487.00,98.34 L487.70,97.90 L488.40,97.46 L489.10,97.01 L489.80,96.55 L490.50,96.10 L491.20,95.63 L491.90,95.16 L492.60,94.68 L493.30,94.19 L494.00,93.69 L494.70,93.19 L495.40,92.69 L496.10,92.18 L496.80,91.66 L497.50,91.14 L498.20,90.61 L498.90,90.07 L499.60,89.53 L500.30,88.99 L501.00,88.44 L501.70,87.88 L502.40,87.33 L503.10,86.77 L503.80,86.20 L504.50,85.64 L505.20,85.06 L505.90,84.48 L506.60,83.90 L507.30,83.31 L508.00,82.71 L508.70,82.11 L509.40,81.50 L510.10,80.88 L510.80,80.26 L511.50,79.63 L512.20,79.00 L512.90,78.36 L513.60,77.72 L514.30,77.08 L515.00,76.43 L515.70,75.77 L516.40,75.11 L517.10,74.44 L517.80,73.77 L518.50,73.10 L519.20,72.43 L519.90,71.76 L520.60,71.09 L521.30,70.41 L522.00,69.72 L522.70,69.04 L523.40,68.36 L524.10,67.68 L524.80,67.00 L525.50,66.33 L526.20,65.67 L526.90,65.02 L527.60,64.37 L528.30,63.73 L529.00,63.09 L529.70,62.45 L530.40,61.83 L531.10,61.20 L531.80,60.59 L532.50,59.97 L533.20,59.36 L533.90,58.76 L534.60,58.16 L535.30,57.56 L536.00,56.97 L536.70,56.40 L537.40,55.83 L538.10,55.28 L538.80,54.74 L539.50,54.20 L540.20,53.68 L540.90,53.16 L541.60,52.65 L542.30,52.15 L543.00,51.66 L543.70,51.19 L544.40,50.72 L545.10,50.26 L545.80,49.80 L546.50,49.35 L547.20,48.91 L547.90,48.48 L548.60,48.07 L549.30,47.67 L550.00,47.29 L550.70,46.92 L551.40,46.56 L552.10,46.21 L552.80,45.88 L553.50,45.55 L554.20,45.23 L554.90,44.93 L555.60,44.63 L556.30,44.35 L557.00,44.08 L557.70,43.81 L558.40,43.56 L559.10,43.31 L559.80,43.07 L560.50,42.84 L561.20,42.60 L561.90,42.38 L562.60,42.15 L563.30,41.94 L564.00,41.73 L564.70,41.53 L565.40,41.33 L566.10,41.13 L566.80,40.93 L567.50,40.72 L568.20,40.50 L568.90,40.28 L569.60,40.06 L570.30,39.83 L571.00,39.60 L571.70,39.37 L572.40,39.14 L573.10,38.90 L573.80,38.67 L574.50,38.43 L575.20,38.18 L575.90,37.94 L576.60,37.69 L577.30,37.44 L578.00,37.19 L578.70,36.94 L579.40,36.69 L580.10,36.46 L580.80,36.22 L581.50,35.99 L582.20,35.76 L582.90,35.53 L583.60,35.31 L584.30,35.08 L585.00,34.86 L585.70,34.64 L586.40,34.42 L587.10,34.19 L587.80,33.96 L588.50,33.73 L589.20,33.51 L589.90,33.29 L590.60,33.08 L591.30,32.89 L592.00,32.71 L592.70,32.54 L593.40,32.37 L594.10,32.22 L594.80,32.07 L595.50,31.93 L596.20,31.79 L596.90,31.66 L597.60,31.53 L598.30,31.42 L599.00,31.30 L599.70,31.20 L600.40,31.09 L601.10,31.00 L601.80,30.90 L602.50,30.81 L603.20,30.72 L603.90,30.63 L604.60,30.55 L605.30,30.47 L606.00,30.39 L606.70,30.31 L607.40,30.23 L608.10,30.16 L608.80,30.09 L609.50,30.03 L610.20,29.97 L610.90,29.91 L611.60,29.85 L612.30,29.80 L613.00,29.75 L613.70,29.70 L614.40,29.66 L615.10,29.61 L615.80,29.57 L616.50,29.52 L617.20,29.48 L617.90,29.44 L618.60,29.39 L619.30,29.35 L620.00,29.32 L620.70,29.28 L621.40,29.24 L622.10,29.21 L622.80,29.17 L623.50,29.14 L624.20,29.11 L624.90,29.08 L625.60,29.05 L626.30,29.02 L627.00,28.99 L627.70,28.97 L628.40,28.95 L629.10,28.94 L629.80,28.92 L630.50,28.91 L631.20,28.89 L631.90,28.88 L632.60,28.87 L633.30,28.86 L634.00,28.85 L634.70,28.84 L635.40,28.83 L636.10,28.82 L636.80,28.82 L637.50,28.81 L638.20,28.80 L638.90,28.80 L639.60,28.79 L640.30,28.79 L641.00,28.78 L641.70,28.78 L642.40,28.77 L643.10,28.76 L643.80,28.76 L644.50,28.75 L645.20,28.75 L645.90,28.74 L646.60,28.74 L647.30,28.74 L648.00,28.73 L648.70,28.73 L649.40,28.72 L650.10,28.72 L650.80,28.71 L651.50,28.71 L652.20,28.71 L652.90,28.70 L653.60,28.70 L654.30,28.70 L655.00,28.69 L655.70,28.69 L656.40,28.69 L657.10,28.69 L657.80,28.68 L658.50,28.68 L659.20,28.68 L659.90,28.68 L660.60,28.67 L661.30,28.67 L662.00,28.67 L662.70,28.67 L663.40,28.67 L664.10,28.66 L664.80,28.66 L665.50,28.66 L666.20,28.66 L666.90,28.66 L667.60,28.66 L668.30,28.66 L669.00,28.66 L669.70,28.66 L670.40,28.66 L671.10,28.66 L671.80,28.66 L672.50,28.66 L673.20,28.66 L673.90,28.66 L674.60,28.67 L675.30,28.67 L676.00,28.67 L676.70,28.67 L677.40,28.67 L678.10,28.67 L678.80,28.68 L679.50,28.68 L680.20,28.68 L680.90,28.68 L681.60,28.69 L682.30,28.69 L683.00,28.69 L683.70,28.70 L684.40,28.70 L685.10,28.70 L685.80,28.71 L686.50,28.71 L687.20,28.71 L687.50,28.71" stroke="rgb(146,0,109)" stroke-width="1.3" fill="none"/>
<path d="M405.80,124.10 L406.50,124.10 L407.20,124.10 L407.90,124.10 L408.60,124.10 L409.30,124.10 L410.00,124.10 L410.70,124.08 L411.40,123.92 L412.10,123.66 L412.80,123.30 L413.50,122.87 L414.20,122.40 L414.90,121.91 L415.60,121.42 L416.30,120.97 L417.00,120.57 L417.70,120.25 L418.40,120.04 L419.10,119.92 L419.80,119.81 L420.50,119.70 L421.20,119.60 L421.90,119.50 L422.60,119.42 L423.30,119.33 L424.00,119.26 L424.70,119.19 L425.40,119.14 L426.10,119.09 L426.80,119.05 L427.50,119.02 L428.20,119.01 L428.90,119.00 L429.60,119.02 L430.30,119.09 L431.00,119.20 L431.70,119.33 L432.40,119.48 L433.10,119.64 L433.80,119.81 L434.50,119.97 L435.20,120.12 L435.90,120.25 L436.60,120.35 L437.30,120.42 L438.00,120.47 L438.70,120.52 L439.40,120.57 L440.10,120.62 L440.80,120.67 L441.50,120.72 L442.20,120.76 L442.90,120.80 L443.60,120.84 L444.30,120.87 L445.00,120.90 L445.70,120.93 L446.40,120.95 L447.10,120.97 L447.80,120.99 L448.50,120.99 L449.20,121.00 L449.90,121.00 L450.60,120.98 L451.30,120.96 L452.00,120.93 L452.70,120.89 L453.40,120.84 L454.10,120.79 L454.80,120.73 L455.50,120.68 L456.20,120.62 L456.90,120.57 L457.60,120.51 L458.30,120.47 L459.00,120.43 L459.70,120.40 L460.40,120.37 L461.10,120.36 L461.80,120.34 L462.50,120.33 L463.20,120.32 L463.90,120.31 L464.60,120.29 L465.30,120.27 L466.00,120.24 L466.70,120.20 L467.40,120.11 L468.10,120.00 L468.80,119.86 L469.50,119.71 L470.20,119.53 L470.90,119.35 L471.60,119.16 L472.30,118.97 L473.00,118.75 L473.70,118.50 L474.40,118.22 L475.10,117.92 L475.80,117.60 L476.50,117.27 L477.20,116.93 L477.90,116.59 L478.60,116.25 L479.30,115.89 L480.00,115.52 L480.70,115.13 L481.40,114.73 L482.10,114.32 L482.80,113.89 L483.50,113.45 L484.20,113.01 L484.90,112.54 L485.60,112.05 L486.30,111.55 L487.00,111.03 L487.70,110.49 L488.40,109.95 L489.10,109.39 L489.80,108.84 L490.50,108.27 L491.20,107.69 L491.90,107.09 L492.60,106.48 L493.30,105.87 L494.00,105.24 L494.70,104.61 L495.40,103.97 L496.10,103.33 L496.80,102.69 L497.50,102.03 L498.20,101.37 L498.90,100.70 L499.60,100.02 L500.30,99.34 L501.00,98.66 L501.70,97.97 L502.40,97.29 L503.10,96.60 L503.80,95.91 L504.50,95.21 L505.20,94.51 L505.90,93.80 L506.60,93.09 L507.30,92.37 L508.00,91.64 L508.70,90.91 L509.40,90.16 L510.10,89.41 L510.80,88.65 L511.50,87.89 L512.20,87.12 L512.90,86.35 L513.60,85.57 L514.30,84.79 L515.00,84.00 L515.70,83.21 L516.40,82.41 L517.10,81.60 L517.80,80.80 L518.50,79.99 L519.20,79.18 L519.90,78.38 L520.60,77.57 L521.30,76.76 L522.00,75.95 L522.70,75.13 L523.40,74.32 L524.10,73.51 L524.80,72.71 L525.50,71.91 L526.20,71.13 L526.90,70.35 L527.60,69.58 L528.30,68.81 L529.00,68.05 L529.70,67.30 L530.40,66.55 L531.10,65.81 L531.80,65.07 L532.50,64.34 L533.20,63.62 L533.90,62.90 L534.60,62.19 L535.30,61.48 L536.00,60.78 L536.70,60.10 L537.40,59.43 L538.10,58.77 L538.80,58.13 L539.50,57.49 L540.20,56.87 L540.90,56.25 L541.60,55.65 L542.30,55.05 L543.00,54.47 L543.70,53.90 L544.40,53.35 L545.10,52.80 L545.80,52.25 L546.50,51.72 L547.20,51.20 L547.90,50.69 L548.60,50.20 L549.30,49.72 L550.00,49.27 L550.70,48.84 L551.40,48.41 L552.10,48.00 L552.80,47.61 L553.50,47.22 L554.20,46.85 L554.90,46.49 L555.60,46.14 L556.30,45.80 L557.00,45.48 L557.70,45.16 L558.40,44.86 L559.10,44.56 L559.80,44.27 L560.50,43.99 L561.20,43.71 L561.90,43.44 L562.60,43.18 L563.30,42.93 L564.00,42.68 L564.70,42.44 L565.40,42.20 L566.10,41.97 L566.80,41.73 L567.50,41.49 L568.20,41.24 L568.90,40.99 L569.60,40.73 L570.30,40.48 L571.00,40.22 L571.70,39.96 L572.40,39.70 L573.10,39.44 L573.80,39.17 L574.50,38.91 L575.20,38.64 L575.90,38.37 L576.60,38.09 L577.30,37.82 L578.00,37.55 L578.70,37.28 L579.40,37.01 L580.10,36.75 L580.80,36.49 L581.50,36.24 L582.20,35.99 L582.90,35.74 L583.60,35.49 L584.30,35.24 L585.00,35.00 L585.70,34.75 L586.40,34.51 L587.10,34.25 L587.80,34.00 L588.50,33.74 L589.20,33.49 L589.90,33.24 L590.60,33.01 L591.30,32.79 L592.00,32.59 L592.70,32.40 L593.40,32.22 L594.10,32.05 L594.80,31.89 L595.50,31.73 L596.20,31.58 L596.90,31.44 L597.60,31.31 L598.30,31.18 L599.00,31.06 L599.70,30.95 L600.40,30.84 L601.10,30.74 L601.80,30.64 L602.50,30.54 L603.20,30.45 L603.90,30.36 L604.60,30.27 L605.30,30.19 L606.00,30.10 L606.70,30.02 L607.40,29.94 L608.10,29.87 L608.80,29.80 L609.50,29.73 L610.20,29.67 L610.90,29.61 L611.60,29.56 L612.30,29.51 L613.00,29.46 L613.70,29.41 L614.40,29.36 L615.10,29.32 L615.80,29.28 L616.50,29.23 L617.20,29.19 L617.90,29.15 L618.60,29.11 L619.30,29.07 L620.00,29.03 L620.70,29.00 L621.40,28.96 L622.10,28.93 L622.80,28.90 L623.50,28.87 L624.20,28.83 L624.90,28.80 L625.60,28.78 L626.30,28.75 L627.00,28.73 L627.70,28.71 L628.40,28.69 L629.10,28.68 L629.80,28.66 L630.50,28.65 L631.20,28.64 L631.90,28.63 L632.60,28.62 L633.30,28.61 L634.00,28.60 L634.70,28.59 L635.40,28.59 L636.10,28.58 L636.80,28.58 L637.50,28.57 L638.20,28.57 L638.90,28.56 L639.60,28.56 L640.30,28.55 L641.00,28.55 L641.70,28.54 L642.40,28.54 L643.10,28.53 L643.80,28.53 L644.50,28.53 L645.20,28.52 L645.90,28.52 L646.60,28.52 L647.30,28.51 L648.00,28.51 L648.70,28.51 L649.40,28.50 L650.10,28.50 L650.80,28.50 L651.50,28.49 L652.20,28.49 L652.90,28.49 L653.60,28.49 L654.30,28.48 L655.00,28.48 L655.70,28.48 L656.40,28.48 L657.10,28.47 L657.80,28.47 L658.50,28.47 L659.20,28.47 L659.90,28.47 L660.60,28.46 L661.30,28.46 L662.00,28.46 L662.70,28.46 L663.40,28.46 L664.10,28.46 L664.80,28.46 L665.50,28.46 L666.20,28.46 L666.90,28.46 L667.60,28.46 L668.30,28.46 L669.00,28.46 L669.70,28.46 L670.40,28.46 L671.10,28.47 L671.80,28.47 L672.50,28.47 L673.20,28.47 L673.90,28.48 L674.60,28.48 L675.30,28.48 L676.00,28.49 L676.70,28.49 L677.40,28.49 L678.10,28.50 L678.80,28.50 L679.50,28.50 L680.20,28.51 L680.90,28.51 L681.60,28.52 L682.30,28.52 L683.00,28.53 L683.70,28.53 L684.40,28.54 L685.10,28.54 L685.80,28.55 L686.50,28.55 L687.20,28.56 L687.50,28.56" stroke="rgb(109,0,146)" stroke-width="1.3" fill="none"/>
<path d="M405.80,146.80 L406.50,146.22 L407.20,145.67 L407.90,145.15 L408.60,144.66 L409.30,144.23 L410.00,143.84 L410.70,143.52 L411.40,143.24 L412.10,143.00 L412.80,142.78 L413.50,142.57 L414.20,142.37 L414.90,142.16 L415.60,141.93 L416.30,141.68 L417.00,141.38 L417.70,141.02 L418.40,140.61 L419.10,140.19 L419.80,139.77 L420.50,139.38 L421.20,139.04 L421.90,138.78 L422.60,138.61 L423.30,138.53 L424.00,138.44 L424.70,138.37 L425.40,138.29 L426.10,138.23 L426.80,138.17 L427.50,138.11 L428.20,138.06 L428.90,138.02 L429.60,137.98 L430.30,137.95 L431.00,137.93 L431.70,137.91 L432.40,137.90 L433.10,137.90 L433.80,137.91 L434.50,137.93 L435.20,137.96 L435.90,138.00 L436.60,138.04 L437.30,138.09 L438.00,138.15 L438.70,138.21 L439.40,138.27 L440.10,138.33 L440.80,138.38 L441.50,138.44 L442.20,138.48 L442.90,138.53 L443.60,138.56 L444.30,138.58 L445.00,138.60 L445.70,138.60 L446.40,138.58 L447.10,138.55 L447.80,138.51 L448.50,138.45 L449.20,138.38 L449.90,138.31 L450.60,138.22 L451.30,138.12 L452.00,138.02 L452.70,137.92 L453.40,137.81 L454.10,137.70 L454.80,137.59 L455.50,137.48 L456.20,137.37 L456.90,137.26 L457.60,137.16 L458.30,137.07 L459.00,136.98 L459.70,136.90 L460.40,136.82 L461.10,136.76 L461.80,136.70 L462.50,136.65 L463.20,136.59 L463.90,136.53 L464.60,136.47 L465.30,136.39 L466.00,136.30 L466.70,136.19 L467.40,136.06 L468.10,135.90 L468.80,135.71 L469.50,135.51 L470.20,135.30 L470.90,135.07 L471.60,134.84 L472.30,134.59 L473.00,134.31 L473.70,134.00 L474.40,133.67 L475.10,133.31 L475.80,132.93 L476.50,132.54 L477.20,132.14 L477.90,131.74 L478.60,131.33 L479.30,130.90 L480.00,130.45 L480.70,129.99 L481.40,129.51 L482.10,129.02 L482.80,128.51 L483.50,127.98 L484.20,127.45 L484.90,126.89 L485.60,126.30 L486.30,125.70 L487.00,125.07 L487.70,124.43 L488.40,123.78 L489.10,123.11 L489.80,122.43 L490.50,121.74 L491.20,121.03 L491.90,120.30 L492.60,119.56 L493.30,118.80 L494.00,118.03 L494.70,117.25 L495.40,116.47 L496.10,115.69 L496.80,114.89 L497.50,114.09 L498.20,113.28 L498.90,112.46 L499.60,111.64 L500.30,110.81 L501.00,109.98 L501.70,109.15 L502.40,108.31 L503.10,107.48 L503.80,106.65 L504.50,105.81 L505.20,104.97 L505.90,104.12 L506.60,103.26 L507.30,102.40 L508.00,101.53 L508.70,100.65 L509.40,99.75 L510.10,98.85 L510.80,97.95 L511.50,97.03 L512.20,96.11 L512.90,95.19 L513.60,94.26 L514.30,93.33 L515.00,92.39 L515.70,91.44 L516.40,90.49 L517.10,89.53 L517.80,88.57 L518.50,87.62 L519.20,86.66 L519.90,85.70 L520.60,84.75 L521.30,83.79 L522.00,82.84 L522.70,81.88 L523.40,80.92 L524.10,79.97 L524.80,79.03 L525.50,78.09 L526.20,77.17 L526.90,76.26 L527.60,75.35 L528.30,74.44 L529.00,73.54 L529.70,72.65 L530.40,71.77 L531.10,70.90 L531.80,70.04 L532.50,69.18 L533.20,68.33 L533.90,67.49 L534.60,66.65 L535.30,65.82 L536.00,65.00 L536.70,64.20 L537.40,63.41 L538.10,62.64 L538.80,61.88 L539.50,61.14 L540.20,60.40 L540.90,59.67 L541.60,58.96 L542.30,58.26 L543.00,57.58 L543.70,56.91 L544.40,56.26 L545.10,55.61 L545.80,54.97 L546.50,54.34 L547.20,53.73 L547.90,53.13 L548.60,52.55 L549.30,52.00 L550.00,51.47 L550.70,50.96 L551.40,50.47 L552.10,49.99 L552.80,49.52 L553.50,49.07 L554.20,48.64 L554.90,48.22 L555.60,47.81 L556.30,47.41 L557.00,47.03 L557.70,46.66 L558.40,46.29 L559.10,45.94 L559.80,45.60 L560.50,45.27 L561.20,44.94 L561.90,44.62 L562.60,44.31 L563.30,44.02 L564.00,43.73 L564.70,43.45 L565.40,43.17 L566.10,42.90 L566.80,42.62 L567.50,42.34 L568.20,42.06 L568.90,41.77 L569.60,41.48 L570.30,41.19 L571.00,40.90 L571.70,40.61 L572.40,40.32 L573.10,40.02 L573.80,39.73 L574.50,39.44 L575.20,39.14 L575.90,38.84 L576.60,38.54 L577.30,38.25 L578.00,37.95 L578.70,37.65 L579.40,37.36 L580.10,37.08 L580.80,36.80 L581.50,36.52 L582.20,36.24 L582.90,35.97 L583.60,35.69 L584.30,35.42 L585.00,35.15 L585.70,34.88 L586.40,34.61 L587.10,34.33 L587.80,34.04 L588.50,33.75 L589.20,33.47 L589.90,33.19 L590.60,32.93 L591.30,32.68 L592.00,32.46 L592.70,32.26 L593.40,32.06 L594.10,31.87 L594.80,31.69 L595.50,31.52 L596.20,31.36 L596.90,31.21 L597.60,31.06 L598.30,30.93 L599.00,30.80 L599.70,30.68 L600.40,30.56 L601.10,30.45 L601.80,30.35 L602.50,30.25 L603.20,30.15 L603.90,30.06 L604.60,29.96 L605.30,29.87 L606.00,29.79 L606.70,29.70 L607.40,29.62 L608.10,29.55 L608.80,29.47 L609.50,29.41 L610.20,29.34 L610.90,29.29 L611.60,29.23 L612.30,29.18 L613.00,29.13 L613.70,29.08 L614.40,29.04 L615.10,29.00 L615.80,28.95 L616.50,28.91 L617.20,28.87 L617.90,28.83 L618.60,28.79 L619.30,28.76 L620.00,28.72 L620.70,28.69 L621.40,28.65 L622.10,28.62 L622.80,28.59 L623.50,28.56 L624.20,28.53 L624.90,28.50 L625.60,28.48 L626.30,28.45 L627.00,28.43 L627.70,28.42 L628.40,28.40 L629.10,28.39 L629.80,28.38 L630.50,28.37 L631.20,28.36 L631.90,28.35 L632.60,28.34 L633.30,28.33 L634.00,28.33 L634.70,28.32 L635.40,28.32 L636.10,28.31 L636.80,28.31 L637.50,28.31 L638.20,28.30 L638.90,28.30 L639.60,28.30 L640.30,28.29 L641.00,28.29 L641.70,28.29 L642.40,28.28 L643.10,28.28 L643.80,28.28 L644.50,28.28 L645.20,28.27 L645.90,28.27 L646.60,28.27 L647.30,28.27 L648.00,28.26 L648.70,28.26 L649.40,28.26 L650.10,28.26 L650.80,28.25 L651.50,28.25 L652.20,28.25 L652.90,28.25 L653.60,28.25 L654.30,28.24 L655.00,28.24 L655.70,28.24 L656.40,28.24 L657.10,28.24 L657.80,28.24 L658.50,28.24 L659.20,28.23 L659.90,28.23 L660.60,28.23 L661.30,28.23 L662.00,28.23 L662.70,28.23 L663.40,28.23 L664.10,28.23 L664.80,28.23 L665.50,28.23 L666.20,28.23 L666.90,28.24 L667.60,28.24 L668.30,28.24 L669.00,28.24 L669.70,28.25 L670.40,28.25 L671.10,28.25 L671.80,28.26 L672.50,28.26 L673.20,28.27 L673.90,28.27 L674.60,28.27 L675.30,28.28 L676.00,28.28 L676.70,28.29 L677.40,28.29 L678.10,28.30 L678.80,28.31 L679.50,28.31 L680.20,28.32 L680.90,28.33 L681.60,28.33 L682.30,28.34 L683.00,28.34 L683.70,28.35 L684.40,28.36 L685.10,28.37 L685.80,28.37 L686.50,28.38 L687.20,28.39 L687.50,28.39" stroke="rgb(73,0,182)" stroke-width="1.3" fill="none"/>
<path d="M405.80,166.40 L406.50,166.60 L407.20,166.71 L407.90,166.77 L408.60,166.80 L409.30,166.80 L410.00,166.52 L410.70,165.79 L411.40,164.74 L412.10,163.52 L412.80,162.29 L413.50,161.19 L414.20,160.36 L414.90,159.84 L415.60,159.37 L416.30,158.93 L417.00,158.52 L417.70,158.16 L418.40,157.83 L419.10,157.55 L419.80,157.31 L420.50,157.12 L421.20,156.97 L421.90,156.82 L422.60,156.67 L423.30,156.53 L424.00,156.40 L424.70,156.28 L425.40,156.16 L426.10,156.06 L426.80,155.97 L427.50,155.89 L428.20,155.82 L428.90,155.77 L429.60,155.73 L430.30,155.71 L431.00,155.70 L431.70,155.70 L432.40,155.71 L433.10,155.73 L433.80,155.74 L434.50,155.77 L435.20,155.79 L435.90,155.82 L436.60,155.85 L437.30,155.89 L438.00,155.92 L438.70,155.96 L439.40,156.00 L440.10,156.04 L440.80,156.08 L441.50,156.12 L442.20,156.18 L442.90,156.25 L443.60,156.34 L444.30,156.43 L445.00,156.53 L445.70,156.63 L446.40,156.72 L447.10,156.81 L447.80,156.88 L448.50,156.94 L449.20,156.98 L449.90,157.00 L450.60,156.98 L451.30,156.93 L452.00,156.84 L452.70,156.73 L453.40,156.59 L454.10,156.43 L454.80,156.25 L455.50,156.06 L456.20,155.87 L456.90,155.68 L457.60,155.49 L458.30,155.31 L459.00,155.14 L459.70,154.99 L460.40,154.86 L461.10,154.75 L461.80,154.64 L462.50,154.53 L463.20,154.43 L463.90,154.32 L464.60,154.20 L465.30,154.07 L466.00,153.92 L466.70,153.75 L467.40,153.55 L468.10,153.34 L468.80,153.11 L469.50,152.86 L470.20,152.60 L470.90,152.32 L471.60,152.02 L472.30,151.72 L473.00,151.38 L473.70,151.01 L474.40,150.62 L475.10,150.19 L475.80,149.76 L476.50,149.30 L477.20,148.83 L477.90,148.36 L478.60,147.87 L479.30,147.37 L480.00,146.84 L480.70,146.29 L481.40,145.73 L482.10,145.14 L482.80,144.54 L483.50,143.92 L484.20,143.28 L484.90,142.62 L485.60,141.93 L486.30,141.21 L487.00,140.48 L487.70,139.72 L488.40,138.94 L489.10,138.15 L489.80,137.34 L490.50,136.52 L491.20,135.67 L491.90,134.79 L492.60,133.90 L493.30,132.98 L494.00,132.05 L494.70,131.12 L495.40,130.17 L496.10,129.23 L496.80,128.28 L497.50,127.32 L498.20,126.35 L498.90,125.37 L499.60,124.38 L500.30,123.38 L501.00,122.39 L501.70,121.40 L502.40,120.41 L503.10,119.42 L503.80,118.43 L504.50,117.43 L505.20,116.44 L505.90,115.43 L506.60,114.42 L507.30,113.40 L508.00,112.37 L508.70,111.33 L509.40,110.28 L510.10,109.21 L510.80,108.14 L511.50,107.06 L512.20,105.98 L512.90,104.89 L513.60,103.79 L514.30,102.70 L515.00,101.59 L515.70,100.48 L516.40,99.35 L517.10,98.23 L517.80,97.10 L518.50,95.98 L519.20,94.86 L519.90,93.74 L520.60,92.63 L521.30,91.51 L522.00,90.39 L522.70,89.27 L523.40,88.16 L524.10,87.06 L524.80,85.96 L525.50,84.87 L526.20,83.80 L526.90,82.73 L527.60,81.67 L528.30,80.62 L529.00,79.57 L529.70,78.53 L530.40,77.51 L531.10,76.49 L531.80,75.48 L532.50,74.49 L533.20,73.50 L533.90,72.52 L534.60,71.54 L535.30,70.58 L536.00,69.63 L536.70,68.70 L537.40,67.78 L538.10,66.89 L538.80,66.00 L539.50,65.13 L540.20,64.27 L540.90,63.43 L541.60,62.60 L542.30,61.78 L543.00,60.99 L543.70,60.21 L544.40,59.45 L545.10,58.69 L545.80,57.95 L546.50,57.22 L547.20,56.51 L547.90,55.81 L548.60,55.14 L549.30,54.49 L550.00,53.88 L550.70,53.29 L551.40,52.72 L552.10,52.16 L552.80,51.63 L553.50,51.11 L554.20,50.60 L554.90,50.11 L555.60,49.64 L556.30,49.18 L557.00,48.73 L557.70,48.29 L558.40,47.87 L559.10,47.46 L559.80,47.06 L560.50,46.67 L561.20,46.28 L561.90,45.91 L562.60,45.56 L563.30,45.21 L564.00,44.88 L564.70,44.55 L565.40,44.23 L566.10,43.92 L566.80,43.60 L567.50,43.28 L568.20,42.95 L568.90,42.63 L569.60,42.30 L570.30,41.97 L571.00,41.65 L571.70,41.32 L572.40,41.00 L573.10,40.67 L573.80,40.35 L574.50,40.02 L575.20,39.69 L575.90,39.37 L576.60,39.04 L577.30,38.71 L578.00,38.39 L578.70,38.07 L579.40,37.75 L580.10,37.44 L580.80,37.13 L581.50,36.82 L582.20,36.52 L582.90,36.22 L583.60,35.92 L584.30,35.62 L585.00,35.32 L585.70,35.02 L586.40,34.72 L587.10,34.40 L587.80,34.08 L588.50,33.76 L589.20,33.44 L589.90,33.13 L590.60,32.84 L591.30,32.57 L592.00,32.32 L592.70,32.09 L593.40,31.88 L594.10,31.67 L594.80,31.47 L595.50,31.29 L596.20,31.11 L596.90,30.94 L597.60,30.79 L598.30,30.64 L599.00,30.51 L599.70,30.38 L600.40,30.26 L601.10,30.14 L601.80,30.03 L602.50,29.92 L603.20,29.82 L603.90,29.72 L604.60,29.63 L605.30,29.53 L606.00,29.44 L606.70,29.35 L607.40,29.27 L608.10,29.19 L608.80,29.12 L609.50,29.05 L610.20,28.98 L610.90,28.93 L611.60,28.87 L612.30,28.82 L613.00,28.77 L613.70,28.73 L614.40,28.68 L615.10,28.64 L615.80,28.60 L616.50,28.56 L617.20,28.52 L617.90,28.48 L618.60,28.45 L619.30,28.41 L620.00,28.38 L620.70,28.35 L621.40,28.32 L622.10,28.29 L622.80,28.26 L623.50,28.23 L624.20,28.20 L624.90,28.18 L625.60,28.15 L626.30,28.13 L627.00,28.11 L627.70,28.09 L628.40,28.08 L629.10,28.07 L629.80,28.06 L630.50,28.06 L631.20,28.05 L631.90,28.04 L632.60,28.04 L633.30,28.03 L634.00,28.03 L634.70,28.02 L635.40,28.02 L636.10,28.02 L636.80,28.02 L637.50,28.02 L638.20,28.01 L638.90,28.01 L639.60,28.01 L640.30,28.01 L641.00,28.01 L641.70,28.01 L642.40,28.00 L643.10,28.00 L643.80,28.00 L644.50,28.00 L645.20,28.00 L645.90,28.00 L646.60,28.00 L647.30,27.99 L648.00,27.99 L648.70,27.99 L649.40,27.99 L650.10,27.99 L650.80,27.99 L651.50,27.99 L652.20,27.99 L652.90,27.99 L653.60,27.98 L654.30,27.98 L655.00,27.98 L655.70,27.98 L656.40,27.98 L657.10,27.98 L657.80,27.98 L658.50,27.98 L659.20,27.98 L659.90,27.98 L660.60,27.98 L661.30,27.98 L662.00,27.98 L662.70,27.98 L663.40,27.98 L664.10,27.98 L664.80,27.98 L665.50,27.98 L666.20,27.99 L666.90,27.99 L667.60,27.99 L668.30,28.00 L669.00,28.00 L669.70,28.01 L670.40,28.01 L671.10,28.02 L671.80,28.02 L672.50,28.03 L673.20,28.04 L673.90,28.04 L674.60,28.05 L675.30,28.06 L676.00,28.06 L676.70,28.07 L677.40,28.08 L678.10,28.09 L678.80,28.09 L679.50,28.10 L680.20,28.11 L680.90,28.12 L681.60,28.13 L682.30,28.14 L683.00,28.14 L683.70,28.15 L684.40,28.16 L685.10,28.17 L685.80,28.18 L686.50,28.19 L687.20,28.20 L687.50,28.20" stroke="rgb(36,0,219)" stroke-width="1.3" fill="none"/>
<path d="M405.80,182.90 L406.50,182.55 L407.20,182.20 L407.90,181.85 L408.60,181.51 L409.30,181.18 L410.00,180.86 L410.70,180.54 L411.40,180.23 L412.10,179.93 L412.80,179.63 L413.50,179.34 L414.20,179.06 L414.90,178.78 L415.60,178.51 L416.30,178.24 L417.00,177.98 L417.70,177.72 L418.40,177.46 L419.10,177.22 L419.80,176.97 L420.50,176.73 L421.20,176.49 L421.90,176.23 L422.60,175.96 L423.30,175.68 L424.00,175.40 L424.70,175.12 L425.40,174.85 L426.10,174.59 L426.80,174.35 L427.50,174.14 L428.20,173.95 L428.90,173.80 L429.60,173.69 L430.30,173.62 L431.00,173.60 L431.70,173.63 L432.40,173.70 L433.10,173.81 L433.80,173.94 L434.50,174.08 L435.20,174.24 L435.90,174.41 L436.60,174.57 L437.30,174.71 L438.00,174.84 L438.70,174.95 L439.40,175.02 L440.10,175.08 L440.80,175.14 L441.50,175.20 L442.20,175.26 L442.90,175.31 L443.60,175.36 L444.30,175.41 L445.00,175.46 L445.70,175.51 L446.40,175.55 L447.10,175.58 L447.80,175.62 L448.50,175.64 L449.20,175.67 L449.90,175.68 L450.60,175.69 L451.30,175.70 L452.00,175.69 L452.70,175.67 L453.40,175.62 L454.10,175.55 L454.80,175.47 L455.50,175.37 L456.20,175.27 L456.90,175.15 L457.60,175.03 L458.30,174.90 L459.00,174.78 L459.70,174.65 L460.40,174.53 L461.10,174.39 L461.80,174.24 L462.50,174.07 L463.20,173.90 L463.90,173.71 L464.60,173.51 L465.30,173.30 L466.00,173.08 L466.70,172.85 L467.40,172.60 L468.10,172.33 L468.80,172.05 L469.50,171.74 L470.20,171.42 L470.90,171.08 L471.60,170.73 L472.30,170.36 L473.00,169.96 L473.70,169.52 L474.40,169.06 L475.10,168.57 L475.80,168.06 L476.50,167.54 L477.20,166.99 L477.90,166.44 L478.60,165.87 L479.30,165.28 L480.00,164.67 L480.70,164.03 L481.40,163.37 L482.10,162.69 L482.80,161.98 L483.50,161.26 L484.20,160.52 L484.90,159.74 L485.60,158.94 L486.30,158.10 L487.00,157.24 L487.70,156.35 L488.40,155.45 L489.10,154.52 L489.80,153.57 L490.50,152.61 L491.20,151.60 L491.90,150.56 L492.60,149.50 L493.30,148.41 L494.00,147.31 L494.70,146.20 L495.40,145.09 L496.10,143.98 L496.80,142.85 L497.50,141.72 L498.20,140.57 L498.90,139.41 L499.60,138.24 L500.30,137.07 L501.00,135.90 L501.70,134.73 L502.40,133.57 L503.10,132.41 L503.80,131.25 L504.50,130.08 L505.20,128.92 L505.90,127.75 L506.60,126.57 L507.30,125.38 L508.00,124.17 L508.70,122.96 L509.40,121.73 L510.10,120.48 L510.80,119.23 L511.50,117.97 L512.20,116.71 L512.90,115.44 L513.60,114.16 L514.30,112.89 L515.00,111.60 L515.70,110.30 L516.40,109.00 L517.10,107.69 L517.80,106.39 L518.50,105.08 L519.20,103.78 L519.90,102.48 L520.60,101.20 L521.30,99.90 L522.00,98.61 L522.70,97.33 L523.40,96.04 L524.10,94.77 L524.80,93.50 L525.50,92.25 L526.20,91.01 L526.90,89.77 L527.60,88.55 L528.30,87.33 L529.00,86.13 L529.70,84.93 L530.40,83.74 L531.10,82.57 L531.80,81.41 L532.50,80.27 L533.20,79.12 L533.90,77.99 L534.60,76.87 L535.30,75.76 L536.00,74.67 L536.70,73.59 L537.40,72.54 L538.10,71.50 L538.80,70.49 L539.50,69.48 L540.20,68.49 L540.90,67.51 L541.60,66.56 L542.30,65.62 L543.00,64.70 L543.70,63.80 L544.40,62.92 L545.10,62.05 L545.80,61.19 L546.50,60.35 L547.20,59.53 L547.90,58.73 L548.60,57.95 L549.30,57.21 L550.00,56.50 L550.70,55.82 L551.40,55.16 L552.10,54.53 L552.80,53.91 L553.50,53.32 L554.20,52.74 L554.90,52.18 L555.60,51.63 L556.30,51.10 L557.00,50.58 L557.70,50.07 L558.40,49.58 L559.10,49.11 L559.80,48.64 L560.50,48.19 L561.20,47.75 L561.90,47.32 L562.60,46.91 L563.30,46.51 L564.00,46.13 L564.70,45.75 L565.40,45.39 L566.10,45.02 L566.80,44.66 L567.50,44.30 L568.20,43.93 L568.90,43.56 L569.60,43.19 L570.30,42.83 L571.00,42.46 L571.70,42.10 L572.40,41.74 L573.10,41.37 L573.80,41.01 L574.50,40.65 L575.20,40.30 L575.90,39.94 L576.60,39.58 L577.30,39.22 L578.00,38.87 L578.70,38.52 L579.40,38.17 L580.10,37.83 L580.80,37.49 L581.50,37.15 L582.20,36.82 L582.90,36.49 L583.60,36.16 L584.30,35.83 L585.00,35.51 L585.70,35.17 L586.40,34.84 L587.10,34.49 L587.80,34.13 L588.50,33.77 L589.20,33.42 L589.90,33.07 L590.60,32.74 L591.30,32.44 L592.00,32.17 L592.70,31.92 L593.40,31.68 L594.10,31.45 L594.80,31.24 L595.50,31.03 L596.20,30.84 L596.90,30.66 L597.60,30.49 L598.30,30.34 L599.00,30.19 L599.70,30.05 L600.40,29.92 L601.10,29.80 L601.80,29.68 L602.50,29.57 L603.20,29.46 L603.90,29.36 L604.60,29.26 L605.30,29.16 L606.00,29.07 L606.70,28.97 L607.40,28.89 L608.10,28.80 L608.80,28.73 L609.50,28.66 L610.20,28.59 L610.90,28.54 L611.60,28.48 L612.30,28.43 L613.00,28.38 L613.70,28.34 L614.40,28.30 L615.10,28.26 L615.80,28.22 L616.50,28.18 L617.20,28.14 L617.90,28.10 L618.60,28.07 L619.30,28.04 L620.00,28.01 L620.70,27.98 L621.40,27.95 L622.10,27.92 L622.80,27.90 L623.50,27.87 L624.20,27.84 L624.90,27.82 L625.60,27.80 L626.30,27.78 L627.00,27.76 L627.70,27.75 L628.40,27.74 L629.10,27.73 L629.80,27.72 L630.50,27.72 L631.20,27.71 L631.90,27.71 L632.60,27.70 L633.30,27.70 L634.00,27.70 L634.70,27.70 L635.40,27.70 L636.10,27.70 L636.80,27.70 L637.50,27.70 L638.20,27.70 L638.90,27.70 L639.60,27.70 L640.30,27.70 L641.00,27.70 L641.70,27.70 L642.40,27.70 L643.10,27.70 L643.80,27.70 L644.50,27.70 L645.20,27.70 L645.90,27.70 L646.60,27.70 L647.30,27.70 L648.00,27.70 L648.70,27.70 L649.40,27.70 L650.10,27.70 L650.80,27.70 L651.50,27.70 L652.20,27.70 L652.90,27.70 L653.60,27.70 L654.30,27.70 L655.00,27.70 L655.70,27.70 L656.40,27.70 L657.10,27.70 L657.80,27.70 L658.50,27.70 L659.20,27.70 L659.90,27.70 L660.60,27.70 L661.30,27.70 L662.00,27.70 L662.70,27.71 L663.40,27.71 L664.10,27.71 L664.80,27.71 L665.50,27.72 L666.20,27.72 L666.90,27.73 L667.60,27.73 L668.30,27.74 L669.00,27.74 L669.70,27.75 L670.40,27.76 L671.10,27.76 L671.80,27.77 L672.50,27.78 L673.20,27.79 L673.90,27.80 L674.60,27.80 L675.30,27.81 L676.00,27.82 L676.70,27.83 L677.40,27.84 L678.10,27.85 L678.80,27.86 L679.50,27.87 L680.20,27.88 L680.90,27.89 L681.60,27.91 L682.30,27.92 L683.00,27.93 L683.70,27.94 L684.40,27.95 L685.10,27.96 L685.80,27.97 L686.50,27.98 L687.20,27.99 L687.50,28.00" stroke="rgb(0,0,255)" stroke-width="1.3" fill="none"/>
<text transform="translate(374.3,114.2) rotate(-90)" text-anchor="middle" font-size="10.1" letter-spacing="0.22">[θ] (10<tspan font-size="7.47" dy="-4.24">3</tspan><tspan dy="4.24"> ·deg ·cm</tspan><tspan font-size="7.47" dy="-4.24">2</tspan><tspan dy="4.24"> ·dmol</tspan><tspan font-size="7.47" dy="-4.24">-1</tspan><tspan dy="4.24">)</tspan></text>
<text x="546.65" y="264.80" text-anchor="middle" font-size="10.8">wavelength (nm)</text>
<text x="365" y="19" font-size="24" font-weight="bold">B</text>
<rect x="53.5" y="305.5" width="283.0" height="228.0" fill="none" stroke="#262626" stroke-width="1"/>
<path d="M53.5,533.5 V537.5 M53.5,305.5 V309.5 M100.5,533.5 V537.5 M100.5,305.5 V309.5 M147.5,533.5 V537.5 M147.5,305.5 V309.5 M194.5,533.5 V537.5 M194.5,305.5 V309.5 M242.5,533.5 V537.5 M242.5,305.5 V309.5 M289.5,533.5 V537.5 M289.5,305.5 V309.5 M336.5,533.5 V537.5 M336.5,305.5 V309.5 M76.5,533.5 V535.7 M76.5,305.5 V307.7 M124.5,533.5 V535.7 M124.5,305.5 V307.7 M171.5,533.5 V535.7 M171.5,305.5 V307.7 M218.5,533.5 V535.7 M218.5,305.5 V307.7 M265.5,533.5 V535.7 M265.5,305.5 V307.7 M312.5,533.5 V535.7 M312.5,305.5 V307.7 M53.5,326.5 H49.0 M336.5,326.5 H332.5 M53.5,367.5 H49.0 M336.5,367.5 H332.5 M53.5,409.5 H49.0 M336.5,409.5 H332.5 M53.5,450.5 H49.0 M336.5,450.5 H332.5 M53.5,491.5 H49.0 M336.5,491.5 H332.5 M53.5,533.5 H49.0 M336.5,533.5 H332.5 M53.5,347.5 H51.3 M336.5,347.5 H334.3 M53.5,388.5 H51.3 M336.5,388.5 H334.3 M53.5,429.5 H51.3 M336.5,429.5 H334.3 M53.5,471.5 H51.3 M336.5,471.5 H334.3 M53.5,512.5 H51.3 M336.5,512.5 H334.3" stroke="#262626" stroke-width="1" fill="none"/>
<text x="53.40" y="546.90" text-anchor="middle" font-size="9">200</text>
<text x="100.55" y="546.90" text-anchor="middle" font-size="9">210</text>
<text x="147.70" y="546.90" text-anchor="middle" font-size="9">220</text>
<text x="194.85" y="546.90" text-anchor="middle" font-size="9">230</text>
<text x="242.00" y="546.90" text-anchor="middle" font-size="9">240</text>
<text x="289.15" y="546.90" text-anchor="middle" font-size="9">250</text>
<text x="336.30" y="546.90" text-anchor="middle" font-size="9">260</text>
<text x="46.10" y="328.80" text-anchor="end" font-size="9">0</text>
<text x="46.10" y="370.20" text-anchor="end" font-size="9">-2</text>
<text x="46.10" y="411.60" text-anchor="end" font-size="9">-4</text>
<text x="46.10" y="453.00" text-anchor="end" font-size="9">-6</text>
<text x="46.10" y="494.40" text-anchor="end" font-size="9">-8</text>
<text x="46.10" y="535.80" text-anchor="end" font-size="9">-10</text>
<path d="M53.5,326.5 H336.5" stroke="#262626" stroke-width="1"/>
<path d="M53.40,319.06 L54.11,321.46 L54.81,323.79 L55.52,326.00 L56.23,328.09 L56.94,330.03 L57.64,331.85 L58.35,333.65 L59.06,335.40 L59.77,337.06 L60.47,338.60 L61.18,339.98 L61.89,341.16 L62.59,342.12 L63.30,342.96 L64.01,343.71 L64.72,344.39 L65.42,345.01 L66.13,345.59 L66.84,346.14 L67.55,346.67 L68.25,347.20 L68.96,347.73 L69.67,348.28 L70.37,348.87 L71.08,349.48 L71.79,350.10 L72.50,350.71 L73.20,351.31 L73.91,351.92 L74.62,352.53 L75.32,353.14 L76.03,353.76 L76.74,354.38 L77.45,355.02 L78.15,355.66 L78.86,356.32 L79.57,357.00 L80.28,357.73 L80.98,358.50 L81.69,359.28 L82.40,360.07 L83.10,360.85 L83.81,361.61 L84.52,362.35 L85.23,363.04 L85.93,363.68 L86.64,364.26 L87.35,364.76 L88.06,365.24 L88.76,365.74 L89.47,366.23 L90.18,366.72 L90.88,367.20 L91.59,367.67 L92.30,368.12 L93.01,368.56 L93.71,368.96 L94.42,369.34 L95.13,369.68 L95.84,369.99 L96.54,370.25 L97.25,370.47 L97.96,370.64 L98.66,370.75 L99.37,370.80 L100.08,370.79 L100.79,370.69 L101.49,370.52 L102.20,370.30 L102.91,370.03 L103.61,369.73 L104.32,369.40 L105.03,369.07 L105.74,368.73 L106.44,368.33 L107.15,367.78 L107.86,367.13 L108.57,366.41 L109.27,365.66 L109.98,364.92 L110.69,364.22 L111.39,363.59 L112.10,363.08 L112.81,362.72 L113.52,362.54 L114.22,362.56 L114.93,362.71 L115.64,362.98 L116.35,363.33 L117.05,363.74 L117.76,364.20 L118.47,364.68 L119.17,365.16 L119.88,365.61 L120.59,366.02 L121.30,366.36 L122.00,366.61 L122.71,366.77 L123.42,366.92 L124.13,367.07 L124.83,367.21 L125.54,367.35 L126.25,367.48 L126.95,367.60 L127.66,367.71 L128.37,367.81 L129.08,367.90 L129.78,367.97 L130.49,368.03 L131.20,368.08 L131.90,368.10 L132.61,368.11 L133.32,368.10 L134.03,368.06 L134.73,367.99 L135.44,367.91 L136.15,367.81 L136.86,367.69 L137.56,367.57 L138.27,367.44 L138.98,367.31 L139.68,367.17 L140.39,367.05 L141.10,366.93 L141.81,366.82 L142.51,366.72 L143.22,366.64 L143.93,366.57 L144.64,366.52 L145.34,366.47 L146.05,366.42 L146.76,366.37 L147.46,366.31 L148.17,366.25 L148.88,366.19 L149.59,366.11 L150.29,366.01 L151.00,365.87 L151.71,365.68 L152.42,365.46 L153.12,365.19 L153.83,364.90 L154.54,364.59 L155.24,364.25 L155.95,363.90 L156.66,363.54 L157.37,363.18 L158.07,362.81 L158.78,362.46 L159.49,362.12 L160.19,361.79 L160.90,361.49 L161.61,361.21 L162.32,360.93 L163.02,360.66 L163.73,360.40 L164.44,360.13 L165.15,359.87 L165.85,359.61 L166.56,359.35 L167.27,359.08 L167.97,358.80 L168.68,358.51 L169.39,358.21 L170.10,357.90 L170.80,357.58 L171.51,357.23 L172.22,356.86 L172.93,356.45 L173.63,356.03 L174.34,355.58 L175.05,355.11 L175.75,354.63 L176.46,354.15 L177.17,353.67 L177.88,353.19 L178.58,352.72 L179.29,352.26 L180.00,351.82 L180.71,351.40 L181.41,351.01 L182.12,350.64 L182.83,350.27 L183.53,349.92 L184.24,349.57 L184.95,349.23 L185.66,348.89 L186.36,348.56 L187.07,348.23 L187.78,347.91 L188.48,347.58 L189.19,347.26 L189.90,346.94 L190.61,346.61 L191.31,346.28 L192.02,345.95 L192.73,345.61 L193.44,345.26 L194.14,344.91 L194.85,344.55 L195.56,344.20 L196.26,343.85 L196.97,343.50 L197.68,343.16 L198.39,342.83 L199.09,342.51 L199.80,342.21 L200.51,341.92 L201.22,341.66 L201.92,341.41 L202.63,341.18 L203.34,340.97 L204.04,340.77 L204.75,340.57 L205.46,340.39 L206.17,340.21 L206.87,340.04 L207.58,339.87 L208.29,339.70 L209.00,339.54 L209.70,339.37 L210.41,339.20 L211.12,339.02 L211.82,338.84 L212.53,338.66 L213.24,338.47 L213.95,338.28 L214.65,338.09 L215.36,337.89 L216.07,337.70 L216.77,337.51 L217.48,337.31 L218.19,337.11 L218.90,336.92 L219.60,336.72 L220.31,336.52 L221.02,336.31 L221.73,336.10 L222.43,335.89 L223.14,335.68 L223.85,335.47 L224.55,335.25 L225.26,335.04 L225.97,334.83 L226.68,334.62 L227.38,334.40 L228.09,334.20 L228.80,333.99 L229.51,333.79 L230.21,333.59 L230.92,333.40 L231.63,333.21 L232.33,333.03 L233.04,332.84 L233.75,332.65 L234.46,332.47 L235.16,332.29 L235.87,332.11 L236.58,331.93 L237.29,331.75 L237.99,331.58 L238.70,331.42 L239.41,331.25 L240.11,331.09 L240.82,330.94 L241.53,330.79 L242.24,330.65 L242.94,330.51 L243.65,330.37 L244.36,330.23 L245.06,330.10 L245.77,329.97 L246.48,329.84 L247.19,329.71 L247.89,329.59 L248.60,329.47 L249.31,329.35 L250.02,329.24 L250.72,329.13 L251.43,329.03 L252.14,328.93 L252.84,328.84 L253.55,328.76 L254.26,328.67 L254.97,328.59 L255.67,328.52 L256.38,328.44 L257.09,328.37 L257.80,328.30 L258.50,328.23 L259.21,328.16 L259.92,328.10 L260.62,328.04 L261.33,327.98 L262.04,327.92 L262.75,327.87 L263.45,327.82 L264.16,327.77 L264.87,327.72 L265.58,327.67 L266.28,327.62 L266.99,327.57 L267.70,327.52 L268.40,327.48 L269.11,327.43 L269.82,327.39 L270.53,327.35 L271.23,327.31 L271.94,327.27 L272.65,327.24 L273.35,327.20 L274.06,327.18 L274.77,327.15 L275.48,327.13 L276.18,327.11 L276.89,327.09 L277.60,327.07 L278.31,327.06 L279.01,327.04 L279.72,327.02 L280.43,327.01 L281.13,327.00 L281.84,326.99 L282.55,326.97 L283.26,326.96 L283.96,326.95 L284.67,326.94 L285.38,326.93 L286.09,326.92 L286.79,326.91 L287.50,326.90 L288.21,326.89 L288.91,326.88 L289.62,326.87 L290.33,326.86 L291.04,326.85 L291.74,326.84 L292.45,326.83 L293.16,326.82 L293.87,326.81 L294.57,326.80 L295.28,326.78 L295.99,326.77 L296.69,326.76 L297.40,326.74 L298.11,326.73 L298.82,326.71 L299.52,326.69 L300.23,326.67 L300.94,326.64 L301.64,326.62 L302.35,326.59 L303.06,326.56 L303.77,326.53 L304.47,326.49 L305.18,326.46 L305.89,326.42 L306.60,326.39 L307.30,326.35 L308.01,326.32 L308.72,326.28 L309.42,326.24 L310.13,326.21 L310.84,326.17 L311.55,326.14 L312.25,326.11 L312.96,326.08 L313.67,326.05 L314.38,326.02 L315.08,325.99 L315.79,325.97 L316.50,325.95 L317.20,325.93 L317.91,325.92 L318.62,325.90 L319.33,325.89 L320.03,325.89 L320.74,325.89 L321.45,325.89 L322.16,325.91 L322.86,325.94 L323.57,325.98 L324.28,326.03 L324.98,326.09 L325.69,326.16 L326.40,326.24 L327.11,326.33 L327.81,326.42 L328.52,326.53 L329.23,326.63 L329.93,326.75 L330.64,326.87 L331.35,326.99 L332.06,327.12 L332.76,327.25 L333.47,327.39 L334.18,327.53 L334.89,327.67 L335.59,327.81 L336.30,327.96" stroke="rgb(255,0,0)" stroke-width="1.2" fill="none"/>
<path d="M53.40,331.48 L54.11,332.78 L54.81,334.03 L55.52,335.23 L56.23,336.35 L56.94,337.39 L57.64,338.33 L58.35,339.16 L59.06,339.88 L59.77,340.46 L60.47,340.89 L61.18,341.24 L61.89,341.53 L62.59,341.78 L63.30,342.01 L64.01,342.21 L64.72,342.42 L65.42,342.64 L66.13,342.88 L66.84,343.16 L67.55,343.45 L68.25,343.74 L68.96,344.03 L69.67,344.33 L70.37,344.64 L71.08,344.97 L71.79,345.32 L72.50,345.69 L73.20,346.09 L73.91,346.53 L74.62,347.00 L75.32,347.56 L76.03,348.23 L76.74,349.00 L77.45,349.86 L78.15,350.77 L78.86,351.73 L79.57,352.71 L80.28,353.70 L80.98,354.68 L81.69,355.62 L82.40,356.52 L83.10,357.35 L83.81,358.16 L84.52,358.98 L85.23,359.82 L85.93,360.66 L86.64,361.49 L87.35,362.28 L88.06,363.05 L88.76,363.76 L89.47,364.41 L90.18,364.99 L90.88,365.49 L91.59,365.91 L92.30,366.32 L93.01,366.73 L93.71,367.13 L94.42,367.52 L95.13,367.89 L95.84,368.24 L96.54,368.57 L97.25,368.86 L97.96,369.12 L98.66,369.34 L99.37,369.52 L100.08,369.66 L100.79,369.74 L101.49,369.77 L102.20,369.75 L102.91,369.69 L103.61,369.59 L104.32,369.47 L105.03,369.32 L105.74,369.17 L106.44,369.00 L107.15,368.83 L107.86,368.66 L108.57,368.51 L109.27,368.37 L109.98,368.26 L110.69,368.17 L111.39,368.12 L112.10,368.11 L112.81,368.13 L113.52,368.16 L114.22,368.20 L114.93,368.24 L115.64,368.30 L116.35,368.36 L117.05,368.42 L117.76,368.49 L118.47,368.55 L119.17,368.60 L119.88,368.65 L120.59,368.69 L121.30,368.72 L122.00,368.73 L122.71,368.73 L123.42,368.70 L124.13,368.64 L124.83,368.57 L125.54,368.49 L126.25,368.39 L126.95,368.29 L127.66,368.18 L128.37,368.08 L129.08,367.98 L129.78,367.89 L130.49,367.81 L131.20,367.75 L131.90,367.71 L132.61,367.70 L133.32,367.70 L134.03,367.70 L134.73,367.70 L135.44,367.70 L136.15,367.70 L136.86,367.70 L137.56,367.70 L138.27,367.70 L138.98,367.70 L139.68,367.70 L140.39,367.70 L141.10,367.70 L141.81,367.72 L142.51,367.74 L143.22,367.78 L143.93,367.82 L144.64,367.86 L145.34,367.91 L146.05,367.95 L146.76,368.00 L147.46,368.04 L148.17,368.07 L148.88,368.10 L149.59,368.11 L150.29,368.11 L151.00,368.05 L151.71,367.92 L152.42,367.73 L153.12,367.50 L153.83,367.21 L154.54,366.89 L155.24,366.54 L155.95,366.17 L156.66,365.78 L157.37,365.39 L158.07,364.99 L158.78,364.60 L159.49,364.23 L160.19,363.88 L160.90,363.56 L161.61,363.26 L162.32,362.96 L163.02,362.67 L163.73,362.38 L164.44,362.08 L165.15,361.79 L165.85,361.50 L166.56,361.20 L167.27,360.89 L167.97,360.58 L168.68,360.26 L169.39,359.94 L170.10,359.60 L170.80,359.25 L171.51,358.88 L172.22,358.49 L172.93,358.08 L173.63,357.65 L174.34,357.21 L175.05,356.75 L175.75,356.28 L176.46,355.81 L177.17,355.33 L177.88,354.86 L178.58,354.39 L179.29,353.94 L180.00,353.50 L180.71,353.07 L181.41,352.66 L182.12,352.27 L182.83,351.88 L183.53,351.49 L184.24,351.12 L184.95,350.75 L185.66,350.38 L186.36,350.01 L187.07,349.65 L187.78,349.30 L188.48,348.94 L189.19,348.59 L189.90,348.24 L190.61,347.88 L191.31,347.53 L192.02,347.18 L192.73,346.82 L193.44,346.46 L194.14,346.09 L194.85,345.72 L195.56,345.36 L196.26,345.00 L196.97,344.64 L197.68,344.29 L198.39,343.95 L199.09,343.62 L199.80,343.31 L200.51,343.00 L201.22,342.72 L201.92,342.45 L202.63,342.19 L203.34,341.95 L204.04,341.71 L204.75,341.49 L205.46,341.27 L206.17,341.06 L206.87,340.85 L207.58,340.65 L208.29,340.45 L209.00,340.26 L209.70,340.06 L210.41,339.87 L211.12,339.67 L211.82,339.47 L212.53,339.27 L213.24,339.08 L213.95,338.88 L214.65,338.69 L215.36,338.50 L216.07,338.31 L216.77,338.12 L217.48,337.93 L218.19,337.74 L218.90,337.54 L219.60,337.34 L220.31,337.13 L221.02,336.92 L221.73,336.70 L222.43,336.48 L223.14,336.25 L223.85,336.02 L224.55,335.79 L225.26,335.56 L225.97,335.33 L226.68,335.10 L227.38,334.88 L228.09,334.66 L228.80,334.44 L229.51,334.22 L230.21,334.02 L230.92,333.82 L231.63,333.62 L232.33,333.43 L233.04,333.25 L233.75,333.06 L234.46,332.88 L235.16,332.70 L235.87,332.52 L236.58,332.35 L237.29,332.18 L237.99,332.01 L238.70,331.85 L239.41,331.68 L240.11,331.52 L240.82,331.37 L241.53,331.21 L242.24,331.06 L242.94,330.91 L243.65,330.76 L244.36,330.61 L245.06,330.46 L245.77,330.31 L246.48,330.17 L247.19,330.02 L247.89,329.88 L248.60,329.75 L249.31,329.62 L250.02,329.49 L250.72,329.37 L251.43,329.26 L252.14,329.15 L252.84,329.05 L253.55,328.96 L254.26,328.88 L254.97,328.79 L255.67,328.72 L256.38,328.64 L257.09,328.57 L257.80,328.50 L258.50,328.43 L259.21,328.37 L259.92,328.30 L260.62,328.24 L261.33,328.19 L262.04,328.13 L262.75,328.08 L263.45,328.02 L264.16,327.97 L264.87,327.92 L265.58,327.87 L266.28,327.82 L266.99,327.78 L267.70,327.73 L268.40,327.68 L269.11,327.64 L269.82,327.60 L270.53,327.55 L271.23,327.51 L271.94,327.48 L272.65,327.44 L273.35,327.41 L274.06,327.38 L274.77,327.36 L275.48,327.33 L276.18,327.32 L276.89,327.30 L277.60,327.28 L278.31,327.26 L279.01,327.25 L279.72,327.23 L280.43,327.22 L281.13,327.20 L281.84,327.19 L282.55,327.18 L283.26,327.16 L283.96,327.15 L284.67,327.14 L285.38,327.13 L286.09,327.12 L286.79,327.11 L287.50,327.10 L288.21,327.09 L288.91,327.08 L289.62,327.07 L290.33,327.06 L291.04,327.05 L291.74,327.04 L292.45,327.03 L293.16,327.02 L293.87,327.01 L294.57,327.00 L295.28,326.99 L295.99,326.97 L296.69,326.96 L297.40,326.95 L298.11,326.93 L298.82,326.92 L299.52,326.90 L300.23,326.88 L300.94,326.86 L301.64,326.84 L302.35,326.82 L303.06,326.79 L303.77,326.77 L304.47,326.74 L305.18,326.72 L305.89,326.69 L306.60,326.66 L307.30,326.64 L308.01,326.61 L308.72,326.58 L309.42,326.56 L310.13,326.53 L310.84,326.51 L311.55,326.48 L312.25,326.46 L312.96,326.44 L313.67,326.42 L314.38,326.40 L315.08,326.38 L315.79,326.36 L316.50,326.35 L317.20,326.33 L317.91,326.32 L318.62,326.31 L319.33,326.31 L320.03,326.30 L320.74,326.30 L321.45,326.30 L322.16,326.32 L322.86,326.34 L323.57,326.38 L324.28,326.42 L324.98,326.47 L325.69,326.52 L326.40,326.59 L327.11,326.66 L327.81,326.73 L328.52,326.81 L329.23,326.90 L329.93,326.99 L330.64,327.09 L331.35,327.19 L332.06,327.29 L332.76,327.40 L333.47,327.51 L334.18,327.62 L334.89,327.73 L335.59,327.84 L336.30,327.96" stroke="rgb(230,0,26)" stroke-width="1.2" fill="none"/>
<path d="M53.40,332.81 L54.11,333.59 L54.81,334.60 L55.52,335.76 L56.23,336.99 L56.94,338.25 L57.64,339.50 L58.35,340.74 L59.06,341.97 L59.77,343.18 L60.47,344.38 L61.18,345.56 L61.89,346.73 L62.59,347.89 L63.30,349.04 L64.01,350.17 L64.72,351.30 L65.42,352.41 L66.13,353.51 L66.84,354.59 L67.55,355.66 L68.25,356.71 L68.96,357.76 L69.67,358.79 L70.37,359.82 L71.08,360.83 L71.79,361.84 L72.50,362.84 L73.20,363.81 L73.91,364.76 L74.62,365.67 L75.32,366.56 L76.03,367.40 L76.74,368.21 L77.45,368.99 L78.15,369.74 L78.86,370.46 L79.57,371.17 L80.28,371.85 L80.98,372.51 L81.69,373.15 L82.40,373.77 L83.10,374.36 L83.81,374.92 L84.52,375.45 L85.23,375.95 L85.93,376.42 L86.64,376.87 L87.35,377.30 L88.06,377.71 L88.76,378.10 L89.47,378.47 L90.18,378.81 L90.88,379.13 L91.59,379.41 L92.30,379.66 L93.01,379.88 L93.71,380.07 L94.42,380.23 L95.13,380.38 L95.84,380.52 L96.54,380.64 L97.25,380.76 L97.96,380.86 L98.66,380.95 L99.37,381.01 L100.08,381.06 L100.79,381.08 L101.49,381.08 L102.20,381.03 L102.91,380.95 L103.61,380.83 L104.32,380.68 L105.03,380.50 L105.74,380.31 L106.44,380.10 L107.15,379.87 L107.86,379.63 L108.57,379.38 L109.27,379.11 L109.98,378.84 L110.69,378.58 L111.39,378.32 L112.10,378.08 L112.81,377.84 L113.52,377.63 L114.22,377.44 L114.93,377.29 L115.64,377.19 L116.35,377.14 L117.05,377.14 L117.76,377.16 L118.47,377.20 L119.17,377.23 L119.88,377.26 L120.59,377.28 L121.30,377.28 L122.00,377.27 L122.71,377.25 L123.42,377.22 L124.13,377.18 L124.83,377.14 L125.54,377.09 L126.25,377.04 L126.95,376.98 L127.66,376.90 L128.37,376.82 L129.08,376.73 L129.78,376.63 L130.49,376.53 L131.20,376.42 L131.90,376.32 L132.61,376.22 L133.32,376.12 L134.03,376.03 L134.73,375.93 L135.44,375.83 L136.15,375.74 L136.86,375.65 L137.56,375.58 L138.27,375.52 L138.98,375.47 L139.68,375.44 L140.39,375.43 L141.10,375.44 L141.81,375.46 L142.51,375.49 L143.22,375.54 L143.93,375.59 L144.64,375.64 L145.34,375.70 L146.05,375.75 L146.76,375.81 L147.46,375.85 L148.17,375.89 L148.88,375.92 L149.59,375.94 L150.29,375.94 L151.00,375.92 L151.71,375.88 L152.42,375.83 L153.12,375.74 L153.83,375.64 L154.54,375.52 L155.24,375.38 L155.95,375.22 L156.66,375.05 L157.37,374.86 L158.07,374.65 L158.78,374.44 L159.49,374.21 L160.19,373.97 L160.90,373.72 L161.61,373.47 L162.32,373.21 L163.02,372.94 L163.73,372.67 L164.44,372.39 L165.15,372.11 L165.85,371.81 L166.56,371.51 L167.27,371.18 L167.97,370.83 L168.68,370.45 L169.39,370.04 L170.10,369.60 L170.80,369.14 L171.51,368.66 L172.22,368.17 L172.93,367.67 L173.63,367.17 L174.34,366.66 L175.05,366.16 L175.75,365.67 L176.46,365.18 L177.17,364.68 L177.88,364.19 L178.58,363.69 L179.29,363.18 L180.00,362.68 L180.71,362.17 L181.41,361.66 L182.12,361.15 L182.83,360.64 L183.53,360.13 L184.24,359.63 L184.95,359.13 L185.66,358.63 L186.36,358.14 L187.07,357.64 L187.78,357.15 L188.48,356.65 L189.19,356.16 L189.90,355.67 L190.61,355.19 L191.31,354.71 L192.02,354.23 L192.73,353.75 L193.44,353.28 L194.14,352.82 L194.85,352.36 L195.56,351.90 L196.26,351.44 L196.97,350.99 L197.68,350.54 L198.39,350.09 L199.09,349.65 L199.80,349.21 L200.51,348.79 L201.22,348.37 L201.92,347.96 L202.63,347.56 L203.34,347.17 L204.04,346.80 L204.75,346.44 L205.46,346.09 L206.17,345.74 L206.87,345.41 L207.58,345.09 L208.29,344.77 L209.00,344.46 L209.70,344.15 L210.41,343.85 L211.12,343.55 L211.82,343.25 L212.53,342.96 L213.24,342.67 L213.95,342.39 L214.65,342.10 L215.36,341.81 L216.07,341.53 L216.77,341.24 L217.48,340.95 L218.19,340.66 L218.90,340.36 L219.60,340.07 L220.31,339.77 L221.02,339.47 L221.73,339.17 L222.43,338.87 L223.14,338.57 L223.85,338.27 L224.55,337.97 L225.26,337.68 L225.97,337.38 L226.68,337.10 L227.38,336.81 L228.09,336.53 L228.80,336.26 L229.51,335.99 L230.21,335.72 L230.92,335.47 L231.63,335.22 L232.33,334.98 L233.04,334.74 L233.75,334.50 L234.46,334.27 L235.16,334.05 L235.87,333.82 L236.58,333.60 L237.29,333.38 L237.99,333.16 L238.70,332.95 L239.41,332.75 L240.11,332.54 L240.82,332.35 L241.53,332.15 L242.24,331.97 L242.94,331.79 L243.65,331.62 L244.36,331.45 L245.06,331.29 L245.77,331.14 L246.48,331.00 L247.19,330.86 L247.89,330.72 L248.60,330.59 L249.31,330.46 L250.02,330.33 L250.72,330.21 L251.43,330.08 L252.14,329.96 L252.84,329.84 L253.55,329.72 L254.26,329.61 L254.97,329.50 L255.67,329.39 L256.38,329.29 L257.09,329.19 L257.80,329.09 L258.50,328.99 L259.21,328.90 L259.92,328.82 L260.62,328.73 L261.33,328.66 L262.04,328.58 L262.75,328.51 L263.45,328.45 L264.16,328.39 L264.87,328.33 L265.58,328.28 L266.28,328.23 L266.99,328.19 L267.70,328.15 L268.40,328.11 L269.11,328.07 L269.82,328.03 L270.53,327.99 L271.23,327.96 L271.94,327.92 L272.65,327.89 L273.35,327.86 L274.06,327.82 L274.77,327.79 L275.48,327.77 L276.18,327.74 L276.89,327.71 L277.60,327.68 L278.31,327.66 L279.01,327.63 L279.72,327.61 L280.43,327.58 L281.13,327.56 L281.84,327.53 L282.55,327.51 L283.26,327.49 L283.96,327.46 L284.67,327.44 L285.38,327.41 L286.09,327.39 L286.79,327.37 L287.50,327.34 L288.21,327.32 L288.91,327.29 L289.62,327.27 L290.33,327.24 L291.04,327.22 L291.74,327.19 L292.45,327.16 L293.16,327.14 L293.87,327.11 L294.57,327.08 L295.28,327.05 L295.99,327.02 L296.69,326.99 L297.40,326.97 L298.11,326.94 L298.82,326.91 L299.52,326.88 L300.23,326.86 L300.94,326.83 L301.64,326.81 L302.35,326.78 L303.06,326.76 L303.77,326.74 L304.47,326.72 L305.18,326.70 L305.89,326.68 L306.60,326.66 L307.30,326.64 L308.01,326.63 L308.72,326.62 L309.42,326.61 L310.13,326.60 L310.84,326.59 L311.55,326.59 L312.25,326.59 L312.96,326.59 L313.67,326.59 L314.38,326.59 L315.08,326.60 L315.79,326.61 L316.50,326.63 L317.20,326.65 L317.91,326.67 L318.62,326.69 L319.33,326.72 L320.03,326.74 L320.74,326.78 L321.45,326.81 L322.16,326.84 L322.86,326.88 L323.57,326.92 L324.28,326.97 L324.98,327.01 L325.69,327.06 L326.40,327.11 L327.11,327.16 L327.81,327.22 L328.52,327.27 L329.23,327.33 L329.93,327.39 L330.64,327.45 L331.35,327.51 L332.06,327.58 L332.76,327.64 L333.47,327.71 L334.18,327.78 L334.89,327.84 L335.59,327.90 L336.30,327.94" stroke="rgb(204,0,51)" stroke-width="1.2" fill="none"/>
<path d="M53.40,333.87 L54.11,334.78 L54.81,335.95 L55.52,337.30 L56.23,338.73 L56.94,340.19 L57.64,341.64 L58.35,343.09 L59.06,344.51 L59.77,345.92 L60.47,347.31 L61.18,348.68 L61.89,350.05 L62.59,351.39 L63.30,352.73 L64.01,354.05 L64.72,355.35 L65.42,356.64 L66.13,357.92 L66.84,359.18 L67.55,360.42 L68.25,361.65 L68.96,362.86 L69.67,364.06 L70.37,365.25 L71.08,366.44 L71.79,367.61 L72.50,368.76 L73.20,369.90 L73.91,371.00 L74.62,372.06 L75.32,373.09 L76.03,374.07 L76.74,375.01 L77.45,375.91 L78.15,376.78 L78.86,377.63 L79.57,378.45 L80.28,379.24 L80.98,380.01 L81.69,380.75 L82.40,381.47 L83.10,382.15 L83.81,382.80 L84.52,383.42 L85.23,384.00 L85.93,384.55 L86.64,385.08 L87.35,385.57 L88.06,386.05 L88.76,386.50 L89.47,386.93 L90.18,387.33 L90.88,387.70 L91.59,388.03 L92.30,388.32 L93.01,388.57 L93.71,388.79 L94.42,388.98 L95.13,389.16 L95.84,389.32 L96.54,389.46 L97.25,389.60 L97.96,389.71 L98.66,389.81 L99.37,389.89 L100.08,389.95 L100.79,389.97 L101.49,389.96 L102.20,389.91 L102.91,389.81 L103.61,389.67 L104.32,389.50 L105.03,389.30 L105.74,389.07 L106.44,388.83 L107.15,388.57 L107.86,388.29 L108.57,387.99 L109.27,387.68 L109.98,387.37 L110.69,387.06 L111.39,386.76 L112.10,386.48 L112.81,386.21 L113.52,385.96 L114.22,385.74 L114.93,385.57 L115.64,385.45 L116.35,385.39 L117.05,385.38 L117.76,385.41 L118.47,385.45 L119.17,385.50 L119.88,385.53 L120.59,385.55 L121.30,385.55 L122.00,385.54 L122.71,385.51 L123.42,385.48 L124.13,385.44 L124.83,385.39 L125.54,385.34 L126.25,385.27 L126.95,385.20 L127.66,385.12 L128.37,385.02 L129.08,384.91 L129.78,384.79 L130.49,384.67 L131.20,384.55 L131.90,384.44 L132.61,384.32 L133.32,384.21 L134.03,384.09 L134.73,383.98 L135.44,383.87 L136.15,383.76 L136.86,383.66 L137.56,383.57 L138.27,383.50 L138.98,383.45 L139.68,383.42 L140.39,383.40 L141.10,383.41 L141.81,383.44 L142.51,383.48 L143.22,383.53 L143.93,383.59 L144.64,383.65 L145.34,383.72 L146.05,383.78 L146.76,383.85 L147.46,383.90 L148.17,383.95 L148.88,383.99 L149.59,384.00 L150.29,384.00 L151.00,383.97 L151.71,383.91 L152.42,383.82 L153.12,383.70 L153.83,383.55 L154.54,383.37 L155.24,383.16 L155.95,382.93 L156.66,382.68 L157.37,382.40 L158.07,382.11 L158.78,381.80 L159.49,381.47 L160.19,381.14 L160.90,380.79 L161.61,380.43 L162.32,380.07 L163.02,379.70 L163.73,379.33 L164.44,378.96 L165.15,378.59 L165.85,378.21 L166.56,377.83 L167.27,377.43 L167.97,377.01 L168.68,376.57 L169.39,376.11 L170.10,375.63 L170.80,375.13 L171.51,374.61 L172.22,374.08 L172.93,373.54 L173.63,373.00 L174.34,372.46 L175.05,371.93 L175.75,371.39 L176.46,370.85 L177.17,370.31 L177.88,369.77 L178.58,369.23 L179.29,368.68 L180.00,368.13 L180.71,367.57 L181.41,367.02 L182.12,366.46 L182.83,365.90 L183.53,365.33 L184.24,364.77 L184.95,364.21 L185.66,363.65 L186.36,363.09 L187.07,362.53 L187.78,361.96 L188.48,361.39 L189.19,360.83 L189.90,360.26 L190.61,359.70 L191.31,359.13 L192.02,358.57 L192.73,358.02 L193.44,357.47 L194.14,356.93 L194.85,356.39 L195.56,355.86 L196.26,355.33 L196.97,354.80 L197.68,354.27 L198.39,353.75 L199.09,353.24 L199.80,352.73 L200.51,352.22 L201.22,351.73 L201.92,351.25 L202.63,350.78 L203.34,350.32 L204.04,349.88 L204.75,349.45 L205.46,349.02 L206.17,348.61 L206.87,348.21 L207.58,347.81 L208.29,347.43 L209.00,347.05 L209.70,346.67 L210.41,346.30 L211.12,345.94 L211.82,345.58 L212.53,345.22 L213.24,344.87 L213.95,344.52 L214.65,344.17 L215.36,343.82 L216.07,343.47 L216.77,343.13 L217.48,342.78 L218.19,342.44 L218.90,342.09 L219.60,341.74 L220.31,341.39 L221.02,341.05 L221.73,340.70 L222.43,340.35 L223.14,340.00 L223.85,339.66 L224.55,339.31 L225.26,338.98 L225.97,338.64 L226.68,338.31 L227.38,337.99 L228.09,337.67 L228.80,337.36 L229.51,337.05 L230.21,336.75 L230.92,336.46 L231.63,336.18 L232.33,335.91 L233.04,335.64 L233.75,335.38 L234.46,335.12 L235.16,334.87 L235.87,334.62 L236.58,334.37 L237.29,334.13 L237.99,333.89 L238.70,333.66 L239.41,333.43 L240.11,333.20 L240.82,332.99 L241.53,332.78 L242.24,332.57 L242.94,332.37 L243.65,332.18 L244.36,332.00 L245.06,331.83 L245.77,331.66 L246.48,331.50 L247.19,331.35 L247.89,331.20 L248.60,331.06 L249.31,330.91 L250.02,330.77 L250.72,330.63 L251.43,330.50 L252.14,330.37 L252.84,330.24 L253.55,330.11 L254.26,329.98 L254.97,329.86 L255.67,329.74 L256.38,329.63 L257.09,329.52 L257.80,329.41 L258.50,329.31 L259.21,329.21 L259.92,329.12 L260.62,329.02 L261.33,328.94 L262.04,328.86 L262.75,328.78 L263.45,328.71 L264.16,328.65 L264.87,328.58 L265.58,328.53 L266.28,328.47 L266.99,328.42 L267.70,328.38 L268.40,328.33 L269.11,328.29 L269.82,328.24 L270.53,328.20 L271.23,328.16 L271.94,328.12 L272.65,328.09 L273.35,328.05 L274.06,328.02 L274.77,327.98 L275.48,327.95 L276.18,327.92 L276.89,327.89 L277.60,327.85 L278.31,327.83 L279.01,327.80 L279.72,327.77 L280.43,327.74 L281.13,327.71 L281.84,327.69 L282.55,327.66 L283.26,327.63 L283.96,327.61 L284.67,327.58 L285.38,327.55 L286.09,327.53 L286.79,327.50 L287.50,327.48 L288.21,327.45 L288.91,327.42 L289.62,327.40 L290.33,327.37 L291.04,327.34 L291.74,327.31 L292.45,327.28 L293.16,327.25 L293.87,327.22 L294.57,327.19 L295.28,327.16 L295.99,327.13 L296.69,327.10 L297.40,327.07 L298.11,327.04 L298.82,327.01 L299.52,326.98 L300.23,326.96 L300.94,326.93 L301.64,326.90 L302.35,326.88 L303.06,326.85 L303.77,326.83 L304.47,326.81 L305.18,326.78 L305.89,326.76 L306.60,326.75 L307.30,326.73 L308.01,326.72 L308.72,326.70 L309.42,326.69 L310.13,326.68 L310.84,326.67 L311.55,326.67 L312.25,326.67 L312.96,326.67 L313.67,326.67 L314.38,326.68 L315.08,326.68 L315.79,326.69 L316.50,326.71 L317.20,326.73 L317.91,326.74 L318.62,326.77 L319.33,326.79 L320.03,326.82 L320.74,326.85 L321.45,326.88 L322.16,326.91 L322.86,326.95 L323.57,326.99 L324.28,327.03 L324.98,327.07 L325.69,327.12 L326.40,327.17 L327.11,327.21 L327.81,327.27 L328.52,327.32 L329.23,327.38 L329.93,327.43 L330.64,327.49 L331.35,327.55 L332.06,327.61 L332.76,327.68 L333.47,327.74 L334.18,327.81 L334.89,327.87 L335.59,327.92 L336.30,327.96" stroke="rgb(178,0,76)" stroke-width="1.2" fill="none"/>
<path d="M53.40,335.51 L54.11,336.62 L54.81,338.05 L55.52,339.69 L56.23,341.43 L56.94,343.21 L57.64,344.98 L58.35,346.74 L59.06,348.47 L59.77,350.19 L60.47,351.88 L61.18,353.55 L61.89,355.21 L62.59,356.85 L63.30,358.48 L64.01,360.08 L64.72,361.67 L65.42,363.25 L66.13,364.80 L66.84,366.33 L67.55,367.84 L68.25,369.34 L68.96,370.81 L69.67,372.28 L70.37,373.73 L71.08,375.17 L71.79,376.60 L72.50,378.00 L73.20,379.38 L73.91,380.72 L74.62,382.02 L75.32,383.27 L76.03,384.46 L76.74,385.61 L77.45,386.71 L78.15,387.77 L78.86,388.79 L79.57,389.79 L80.28,390.76 L80.98,391.69 L81.69,392.60 L82.40,393.47 L83.10,394.30 L83.81,395.10 L84.52,395.85 L85.23,396.56 L85.93,397.23 L86.64,397.86 L87.35,398.47 L88.06,399.04 L88.76,399.60 L89.47,400.12 L90.18,400.61 L90.88,401.05 L91.59,401.46 L92.30,401.81 L93.01,402.12 L93.71,402.38 L94.42,402.62 L95.13,402.83 L95.84,403.03 L96.54,403.20 L97.25,403.36 L97.96,403.51 L98.66,403.63 L99.37,403.73 L100.08,403.79 L100.79,403.82 L101.49,403.81 L102.20,403.75 L102.91,403.63 L103.61,403.46 L104.32,403.25 L105.03,403.00 L105.74,402.73 L106.44,402.43 L107.15,402.11 L107.86,401.77 L108.57,401.41 L109.27,401.04 L109.98,400.65 L110.69,400.28 L111.39,399.92 L112.10,399.57 L112.81,399.24 L113.52,398.93 L114.22,398.67 L114.93,398.46 L115.64,398.32 L116.35,398.25 L117.05,398.24 L117.76,398.27 L118.47,398.32 L119.17,398.38 L119.88,398.42 L120.59,398.44 L121.30,398.44 L122.00,398.43 L122.71,398.40 L123.42,398.35 L124.13,398.30 L124.83,398.24 L125.54,398.18 L126.25,398.10 L126.95,398.01 L127.66,397.91 L128.37,397.79 L129.08,397.66 L129.78,397.52 L130.49,397.37 L131.20,397.23 L131.90,397.09 L132.61,396.95 L133.32,396.82 L134.03,396.70 L134.73,396.57 L135.44,396.45 L136.15,396.34 L136.86,396.23 L137.56,396.12 L138.27,396.02 L138.98,395.93 L139.68,395.84 L140.39,395.77 L141.10,395.70 L141.81,395.64 L142.51,395.59 L143.22,395.54 L143.93,395.50 L144.64,395.46 L145.34,395.42 L146.05,395.37 L146.76,395.33 L147.46,395.28 L148.17,395.22 L148.88,395.15 L149.59,395.07 L150.29,394.98 L151.00,394.86 L151.71,394.71 L152.42,394.53 L153.12,394.32 L153.83,394.09 L154.54,393.82 L155.24,393.53 L155.95,393.21 L156.66,392.87 L157.37,392.50 L158.07,392.12 L158.78,391.73 L159.49,391.31 L160.19,390.89 L160.90,390.45 L161.61,390.01 L162.32,389.56 L163.02,389.11 L163.73,388.65 L164.44,388.19 L165.15,387.73 L165.85,387.27 L166.56,386.81 L167.27,386.33 L167.97,385.84 L168.68,385.32 L169.39,384.79 L170.10,384.25 L170.80,383.68 L171.51,383.11 L172.22,382.52 L172.93,381.93 L173.63,381.33 L174.34,380.73 L175.05,380.13 L175.75,379.53 L176.46,378.93 L177.17,378.33 L177.88,377.72 L178.58,377.11 L179.29,376.50 L180.00,375.88 L180.71,375.26 L181.41,374.63 L182.12,374.00 L182.83,373.37 L183.53,372.73 L184.24,372.09 L184.95,371.45 L185.66,370.80 L186.36,370.14 L187.07,369.48 L187.78,368.81 L188.48,368.14 L189.19,367.46 L189.90,366.79 L190.61,366.11 L191.31,365.43 L192.02,364.76 L192.73,364.09 L193.44,363.43 L194.14,362.78 L194.85,362.13 L195.56,361.49 L196.26,360.85 L196.97,360.22 L197.68,359.59 L198.39,358.96 L199.09,358.34 L199.80,357.72 L200.51,357.12 L201.22,356.52 L201.92,355.93 L202.63,355.36 L203.34,354.80 L204.04,354.26 L204.75,353.73 L205.46,353.20 L206.17,352.69 L206.87,352.19 L207.58,351.70 L208.29,351.21 L209.00,350.73 L209.70,350.26 L210.41,349.79 L211.12,349.33 L211.82,348.88 L212.53,348.43 L213.24,347.99 L213.95,347.54 L214.65,347.11 L215.36,346.68 L216.07,346.25 L216.77,345.82 L217.48,345.40 L218.19,344.97 L218.90,344.55 L219.60,344.13 L220.31,343.71 L221.02,343.29 L221.73,342.87 L222.43,342.46 L223.14,342.04 L223.85,341.63 L224.55,341.23 L225.26,340.83 L225.97,340.43 L226.68,340.04 L227.38,339.66 L228.09,339.29 L228.80,338.92 L229.51,338.56 L230.21,338.22 L230.92,337.88 L231.63,337.56 L232.33,337.24 L233.04,336.93 L233.75,336.63 L234.46,336.33 L235.16,336.04 L235.87,335.76 L236.58,335.47 L237.29,335.20 L237.99,334.92 L238.70,334.66 L239.41,334.40 L240.11,334.15 L240.82,333.90 L241.53,333.66 L242.24,333.43 L242.94,333.21 L243.65,332.99 L244.36,332.79 L245.06,332.59 L245.77,332.40 L246.48,332.22 L247.19,332.05 L247.89,331.88 L248.60,331.72 L249.31,331.56 L250.02,331.40 L250.72,331.25 L251.43,331.09 L252.14,330.94 L252.84,330.80 L253.55,330.65 L254.26,330.51 L254.97,330.38 L255.67,330.25 L256.38,330.12 L257.09,329.99 L257.80,329.87 L258.50,329.76 L259.21,329.65 L259.92,329.54 L260.62,329.44 L261.33,329.34 L262.04,329.25 L262.75,329.17 L263.45,329.09 L264.16,329.01 L264.87,328.94 L265.58,328.88 L266.28,328.82 L266.99,328.76 L267.70,328.70 L268.40,328.65 L269.11,328.60 L269.82,328.55 L270.53,328.50 L271.23,328.46 L271.94,328.41 L272.65,328.37 L273.35,328.33 L274.06,328.29 L274.77,328.25 L275.48,328.21 L276.18,328.17 L276.89,328.13 L277.60,328.10 L278.31,328.07 L279.01,328.03 L279.72,328.00 L280.43,327.97 L281.13,327.93 L281.84,327.90 L282.55,327.87 L283.26,327.84 L283.96,327.81 L284.67,327.78 L285.38,327.75 L286.09,327.72 L286.79,327.69 L287.50,327.67 L288.21,327.64 L288.91,327.61 L289.62,327.58 L290.33,327.54 L291.04,327.51 L291.74,327.48 L292.45,327.45 L293.16,327.42 L293.87,327.38 L294.57,327.35 L295.28,327.32 L295.99,327.28 L296.69,327.25 L297.40,327.22 L298.11,327.19 L298.82,327.16 L299.52,327.12 L300.23,327.09 L300.94,327.06 L301.64,327.04 L302.35,327.01 L303.06,326.98 L303.77,326.96 L304.47,326.93 L305.18,326.91 L305.89,326.89 L306.60,326.87 L307.30,326.85 L308.01,326.84 L308.72,326.82 L309.42,326.81 L310.13,326.80 L310.84,326.79 L311.55,326.79 L312.25,326.78 L312.96,326.78 L313.67,326.79 L314.38,326.79 L315.08,326.80 L315.79,326.81 L316.50,326.82 L317.20,326.84 L317.91,326.85 L318.62,326.87 L319.33,326.90 L320.03,326.92 L320.74,326.95 L321.45,326.98 L322.16,327.01 L322.86,327.04 L323.57,327.08 L324.28,327.12 L324.98,327.16 L325.69,327.20 L326.40,327.24 L327.11,327.29 L327.81,327.34 L328.52,327.39 L329.23,327.44 L329.93,327.49 L330.64,327.55 L331.35,327.61 L332.06,327.67 L332.76,327.73 L333.47,327.79 L334.18,327.85 L334.89,327.91 L335.59,327.96 L336.30,328.00" stroke="rgb(153,0,102)" stroke-width="1.2" fill="none"/>
<path d="M53.40,337.41 L54.11,338.74 L54.81,340.46 L55.52,342.44 L56.23,344.54 L56.94,346.68 L57.64,348.82 L58.35,350.93 L59.06,353.02 L59.77,355.09 L60.47,357.13 L61.18,359.15 L61.89,361.15 L62.59,363.13 L63.30,365.08 L64.01,367.02 L64.72,368.94 L65.42,370.83 L66.13,372.70 L66.84,374.55 L67.55,376.37 L68.25,378.17 L68.96,379.95 L69.67,381.72 L70.37,383.47 L71.08,385.20 L71.79,386.92 L72.50,388.62 L73.20,390.28 L73.91,391.89 L74.62,393.46 L75.32,394.96 L76.03,396.41 L76.74,397.79 L77.45,399.11 L78.15,400.39 L78.86,401.62 L79.57,402.83 L80.28,403.99 L80.98,405.12 L81.69,406.21 L82.40,407.26 L83.10,408.27 L83.81,409.22 L84.52,410.13 L85.23,410.98 L85.93,411.79 L86.64,412.56 L87.35,413.28 L88.06,413.98 L88.76,414.65 L89.47,415.28 L90.18,415.86 L90.88,416.40 L91.59,416.89 L92.30,417.31 L93.01,417.69 L93.71,418.01 L94.42,418.29 L95.13,418.55 L95.84,418.78 L96.54,418.99 L97.25,419.19 L97.96,419.36 L98.66,419.51 L99.37,419.62 L100.08,419.71 L100.79,419.74 L101.49,419.73 L102.20,419.65 L102.91,419.51 L103.61,419.30 L104.32,419.05 L105.03,418.75 L105.74,418.42 L106.44,418.06 L107.15,417.68 L107.86,417.27 L108.57,416.83 L109.27,416.38 L109.98,415.92 L110.69,415.47 L111.39,415.03 L112.10,414.61 L112.81,414.21 L113.52,413.85 L114.22,413.53 L114.93,413.28 L115.64,413.11 L116.35,413.02 L117.05,413.01 L117.76,413.05 L118.47,413.11 L119.17,413.18 L119.88,413.23 L120.59,413.25 L121.30,413.26 L122.00,413.24 L122.71,413.20 L123.42,413.15 L124.13,413.09 L124.83,413.02 L125.54,412.94 L126.25,412.85 L126.95,412.74 L127.66,412.61 L128.37,412.47 L129.08,412.31 L129.78,412.14 L130.49,411.97 L131.20,411.79 L131.90,411.63 L132.61,411.47 L133.32,411.32 L134.03,411.19 L134.73,411.06 L135.44,410.93 L136.15,410.81 L136.86,410.69 L137.56,410.56 L138.27,410.42 L138.98,410.28 L139.68,410.12 L140.39,409.95 L141.10,409.77 L141.81,409.57 L142.51,409.36 L143.22,409.14 L143.93,408.91 L144.64,408.66 L145.34,408.40 L146.05,408.14 L146.76,407.87 L147.46,407.58 L148.17,407.30 L148.88,407.00 L149.59,406.70 L150.29,406.40 L151.00,406.08 L151.71,405.77 L152.42,405.44 L153.12,405.11 L153.83,404.76 L154.54,404.41 L155.24,404.05 L155.95,403.69 L156.66,403.31 L157.37,402.93 L158.07,402.53 L158.78,402.13 L159.49,401.72 L160.19,401.30 L160.90,400.88 L161.61,400.44 L162.32,400.00 L163.02,399.54 L163.73,399.08 L164.44,398.61 L165.15,398.12 L165.85,397.63 L166.56,397.12 L167.27,396.59 L167.97,396.04 L168.68,395.46 L169.39,394.86 L170.10,394.24 L170.80,393.61 L171.51,392.95 L172.22,392.29 L172.93,391.62 L173.63,390.95 L174.34,390.27 L175.05,389.59 L175.75,388.91 L176.46,388.24 L177.17,387.56 L177.88,386.88 L178.58,386.20 L179.29,385.51 L180.00,384.81 L180.71,384.11 L181.41,383.41 L182.12,382.69 L182.83,381.98 L183.53,381.25 L184.24,380.52 L184.95,379.78 L185.66,379.03 L186.36,378.26 L187.07,377.49 L187.78,376.71 L188.48,375.91 L189.19,375.11 L189.90,374.31 L190.61,373.50 L191.31,372.69 L192.02,371.89 L192.73,371.09 L193.44,370.30 L194.14,369.52 L194.85,368.75 L195.56,367.98 L196.26,367.22 L196.97,366.46 L197.68,365.71 L198.39,364.96 L199.09,364.21 L199.80,363.48 L200.51,362.75 L201.22,362.03 L201.92,361.33 L202.63,360.64 L203.34,359.96 L204.04,359.30 L204.75,358.65 L205.46,358.02 L206.17,357.39 L206.87,356.78 L207.58,356.17 L208.29,355.57 L209.00,354.98 L209.70,354.39 L210.41,353.82 L211.12,353.25 L211.82,352.68 L212.53,352.13 L213.24,351.58 L213.95,351.03 L214.65,350.49 L215.36,349.96 L216.07,349.44 L216.77,348.92 L217.48,348.40 L218.19,347.89 L218.90,347.38 L219.60,346.88 L220.31,346.38 L221.02,345.87 L221.73,345.38 L222.43,344.88 L223.14,344.39 L223.85,343.91 L224.55,343.43 L225.26,342.96 L225.97,342.49 L226.68,342.03 L227.38,341.59 L228.09,341.15 L228.80,340.72 L229.51,340.31 L230.21,339.90 L230.92,339.51 L231.63,339.14 L232.33,338.77 L233.04,338.42 L233.75,338.07 L234.46,337.73 L235.16,337.39 L235.87,337.06 L236.58,336.74 L237.29,336.43 L237.99,336.12 L238.70,335.81 L239.41,335.52 L240.11,335.23 L240.82,334.95 L241.53,334.68 L242.24,334.42 L242.94,334.17 L243.65,333.92 L244.36,333.69 L245.06,333.47 L245.77,333.26 L246.48,333.05 L247.19,332.86 L247.89,332.67 L248.60,332.48 L249.31,332.30 L250.02,332.12 L250.72,331.95 L251.43,331.78 L252.14,331.61 L252.84,331.44 L253.55,331.28 L254.26,331.13 L254.97,330.97 L255.67,330.82 L256.38,330.68 L257.09,330.54 L257.80,330.40 L258.50,330.27 L259.21,330.15 L259.92,330.03 L260.62,329.92 L261.33,329.81 L262.04,329.70 L262.75,329.61 L263.45,329.52 L264.16,329.43 L264.87,329.35 L265.58,329.28 L266.28,329.21 L266.99,329.14 L267.70,329.08 L268.40,329.02 L269.11,328.96 L269.82,328.90 L270.53,328.85 L271.23,328.79 L271.94,328.74 L272.65,328.69 L273.35,328.64 L274.06,328.60 L274.77,328.55 L275.48,328.51 L276.18,328.46 L276.89,328.42 L277.60,328.38 L278.31,328.34 L279.01,328.30 L279.72,328.26 L280.43,328.23 L281.13,328.19 L281.84,328.15 L282.55,328.12 L283.26,328.08 L283.96,328.05 L284.67,328.02 L285.38,327.98 L286.09,327.95 L286.79,327.92 L287.50,327.88 L288.21,327.85 L288.91,327.82 L289.62,327.78 L290.33,327.75 L291.04,327.71 L291.74,327.68 L292.45,327.64 L293.16,327.61 L293.87,327.57 L294.57,327.53 L295.28,327.50 L295.99,327.46 L296.69,327.43 L297.40,327.39 L298.11,327.36 L298.82,327.32 L299.52,327.29 L300.23,327.25 L300.94,327.22 L301.64,327.19 L302.35,327.16 L303.06,327.13 L303.77,327.11 L304.47,327.08 L305.18,327.06 L305.89,327.03 L306.60,327.01 L307.30,326.99 L308.01,326.98 L308.72,326.96 L309.42,326.95 L310.13,326.94 L310.84,326.93 L311.55,326.92 L312.25,326.92 L312.96,326.92 L313.67,326.92 L314.38,326.92 L315.08,326.93 L315.79,326.94 L316.50,326.95 L317.20,326.96 L317.91,326.98 L318.62,327.00 L319.33,327.02 L320.03,327.04 L320.74,327.07 L321.45,327.09 L322.16,327.12 L322.86,327.15 L323.57,327.18 L324.28,327.22 L324.98,327.26 L325.69,327.29 L326.40,327.33 L327.11,327.38 L327.81,327.42 L328.52,327.47 L329.23,327.52 L329.93,327.57 L330.64,327.62 L331.35,327.67 L332.06,327.73 L332.76,327.79 L333.47,327.84 L334.18,327.90 L334.89,327.96 L335.59,328.01 L336.30,328.04" stroke="rgb(128,0,128)" stroke-width="1.2" fill="none"/>
<path d="M53.40,339.00 L54.11,340.53 L54.81,342.50 L55.52,344.76 L56.23,347.16 L56.94,349.61 L57.64,352.06 L58.35,354.48 L59.06,356.87 L59.77,359.23 L60.47,361.56 L61.18,363.87 L61.89,366.16 L62.59,368.42 L63.30,370.66 L64.01,372.88 L64.72,375.07 L65.42,377.24 L66.13,379.38 L66.84,381.49 L67.55,383.57 L68.25,385.63 L68.96,387.67 L69.67,389.69 L70.37,391.69 L71.08,393.67 L71.79,395.64 L72.50,397.58 L73.20,399.48 L73.91,401.33 L74.62,403.12 L75.32,404.84 L76.03,406.49 L76.74,408.07 L77.45,409.58 L78.15,411.04 L78.86,412.46 L79.57,413.83 L80.28,415.16 L80.98,416.46 L81.69,417.71 L82.40,418.91 L83.10,420.05 L83.81,421.15 L84.52,422.18 L85.23,423.16 L85.93,424.08 L86.64,424.96 L87.35,425.79 L88.06,426.59 L88.76,427.35 L89.47,428.07 L90.18,428.74 L90.88,429.36 L91.59,429.91 L92.30,430.40 L93.01,430.83 L93.71,431.20 L94.42,431.52 L95.13,431.81 L95.84,432.08 L96.54,432.32 L97.25,432.55 L97.96,432.74 L98.66,432.91 L99.37,433.05 L100.08,433.14 L100.79,433.18 L101.49,433.16 L102.20,433.07 L102.91,432.91 L103.61,432.68 L104.32,432.38 L105.03,432.04 L105.74,431.66 L106.44,431.26 L107.15,430.82 L107.86,430.35 L108.57,429.85 L109.27,429.34 L109.98,428.81 L110.69,428.29 L111.39,427.79 L112.10,427.31 L112.81,426.86 L113.52,426.44 L114.22,426.07 L114.93,425.79 L115.64,425.59 L116.35,425.49 L117.05,425.48 L117.76,425.52 L118.47,425.59 L119.17,425.67 L119.88,425.73 L120.59,425.76 L121.30,425.76 L122.00,425.74 L122.71,425.70 L123.42,425.64 L124.13,425.57 L124.83,425.49 L125.54,425.40 L126.25,425.29 L126.95,425.17 L127.66,425.03 L128.37,424.86 L129.08,424.68 L129.78,424.49 L130.49,424.29 L131.20,424.09 L131.90,423.90 L132.61,423.72 L133.32,423.56 L134.03,423.41 L134.73,423.27 L135.44,423.13 L136.15,423.00 L136.86,422.86 L137.56,422.71 L138.27,422.55 L138.98,422.36 L139.68,422.14 L140.39,421.88 L141.10,421.57 L141.81,421.21 L142.51,420.79 L143.22,420.32 L143.93,419.80 L144.64,419.26 L145.34,418.70 L146.05,418.14 L146.76,417.57 L147.46,417.03 L148.17,416.51 L148.88,416.03 L149.59,415.59 L150.29,415.19 L151.00,414.83 L151.71,414.51 L152.42,414.21 L153.12,413.94 L153.83,413.68 L154.54,413.44 L155.24,413.21 L155.95,412.99 L156.66,412.78 L157.37,412.57 L158.07,412.36 L158.78,412.15 L159.49,411.94 L160.19,411.72 L160.90,411.49 L161.61,411.25 L162.32,411.00 L163.02,410.73 L163.73,410.45 L164.44,410.14 L165.15,409.80 L165.85,409.43 L166.56,409.01 L167.27,408.54 L167.97,408.02 L168.68,407.44 L169.39,406.80 L170.10,406.10 L170.80,405.37 L171.51,404.60 L172.22,403.81 L172.93,403.01 L173.63,402.20 L174.34,401.39 L175.05,400.59 L175.75,399.80 L176.46,399.02 L177.17,398.25 L177.88,397.48 L178.58,396.71 L179.29,395.93 L180.00,395.15 L180.71,394.36 L181.41,393.56 L182.12,392.76 L182.83,391.94 L183.53,391.11 L184.24,390.27 L184.95,389.42 L185.66,388.55 L186.36,387.67 L187.07,386.77 L187.78,385.85 L188.48,384.91 L189.19,383.97 L189.90,383.01 L190.61,382.05 L191.31,381.10 L192.02,380.14 L192.73,379.19 L193.44,378.25 L194.14,377.32 L194.85,376.40 L195.56,375.49 L196.26,374.59 L196.97,373.69 L197.68,372.79 L198.39,371.90 L199.09,371.01 L199.80,370.14 L200.51,369.27 L201.22,368.41 L201.92,367.57 L202.63,366.75 L203.34,365.94 L204.04,365.14 L204.75,364.36 L205.46,363.59 L206.17,362.84 L206.87,362.09 L207.58,361.35 L208.29,360.62 L209.00,359.89 L209.70,359.18 L210.41,358.47 L211.12,357.77 L211.82,357.08 L212.53,356.40 L213.24,355.73 L213.95,355.07 L214.65,354.41 L215.36,353.77 L216.07,353.13 L216.77,352.50 L217.48,351.88 L218.19,351.27 L218.90,350.66 L219.60,350.06 L220.31,349.46 L221.02,348.87 L221.73,348.28 L222.43,347.69 L223.14,347.12 L223.85,346.54 L224.55,345.98 L225.26,345.42 L225.97,344.88 L226.68,344.34 L227.38,343.82 L228.09,343.31 L228.80,342.81 L229.51,342.33 L230.21,341.86 L230.92,341.40 L231.63,340.97 L232.33,340.54 L233.04,340.13 L233.75,339.73 L234.46,339.34 L235.16,338.96 L235.87,338.58 L236.58,338.21 L237.29,337.85 L237.99,337.50 L238.70,337.15 L239.41,336.81 L240.11,336.49 L240.82,336.17 L241.53,335.86 L242.24,335.56 L242.94,335.28 L243.65,335.00 L244.36,334.74 L245.06,334.49 L245.77,334.24 L246.48,334.01 L247.19,333.79 L247.89,333.58 L248.60,333.37 L249.31,333.16 L250.02,332.96 L250.72,332.76 L251.43,332.57 L252.14,332.38 L252.84,332.19 L253.55,332.01 L254.26,331.83 L254.97,331.66 L255.67,331.49 L256.38,331.33 L257.09,331.17 L257.80,331.02 L258.50,330.87 L259.21,330.73 L259.92,330.60 L260.62,330.47 L261.33,330.34 L262.04,330.23 L262.75,330.12 L263.45,330.02 L264.16,329.92 L264.87,329.83 L265.58,329.74 L266.28,329.66 L266.99,329.59 L267.70,329.52 L268.40,329.45 L269.11,329.38 L269.82,329.31 L270.53,329.25 L271.23,329.19 L271.94,329.13 L272.65,329.07 L273.35,329.01 L274.06,328.96 L274.77,328.91 L275.48,328.85 L276.18,328.80 L276.89,328.75 L277.60,328.71 L278.31,328.66 L279.01,328.62 L279.72,328.57 L280.43,328.53 L281.13,328.49 L281.84,328.44 L282.55,328.40 L283.26,328.36 L283.96,328.32 L284.67,328.29 L285.38,328.25 L286.09,328.21 L286.79,328.17 L287.50,328.13 L288.21,328.10 L288.91,328.06 L289.62,328.02 L290.33,327.98 L291.04,327.94 L291.74,327.91 L292.45,327.87 L293.16,327.83 L293.87,327.79 L294.57,327.75 L295.28,327.71 L295.99,327.67 L296.69,327.63 L297.40,327.59 L298.11,327.55 L298.82,327.51 L299.52,327.48 L300.23,327.44 L300.94,327.41 L301.64,327.37 L302.35,327.34 L303.06,327.31 L303.77,327.28 L304.47,327.25 L305.18,327.22 L305.89,327.20 L306.60,327.18 L307.30,327.15 L308.01,327.14 L308.72,327.12 L309.42,327.11 L310.13,327.09 L310.84,327.09 L311.55,327.08 L312.25,327.08 L312.96,327.07 L313.67,327.08 L314.38,327.08 L315.08,327.08 L315.79,327.09 L316.50,327.10 L317.20,327.11 L317.91,327.13 L318.62,327.14 L319.33,327.16 L320.03,327.18 L320.74,327.20 L321.45,327.22 L322.16,327.25 L322.86,327.28 L323.57,327.31 L324.28,327.34 L324.98,327.37 L325.69,327.40 L326.40,327.44 L327.11,327.48 L327.81,327.52 L328.52,327.56 L329.23,327.60 L329.93,327.65 L330.64,327.70 L331.35,327.75 L332.06,327.80 L332.76,327.85 L333.47,327.91 L334.18,327.96 L334.89,328.01 L335.59,328.06 L336.30,328.09" stroke="rgb(102,0,153)" stroke-width="1.2" fill="none"/>
<path d="M53.40,340.58 L54.11,342.29 L54.81,344.51 L55.52,347.05 L56.23,349.75 L56.94,352.50 L57.64,355.24 L58.35,357.96 L59.06,360.65 L59.77,363.31 L60.47,365.93 L61.18,368.53 L61.89,371.09 L62.59,373.64 L63.30,376.15 L64.01,378.64 L64.72,381.11 L65.42,383.54 L66.13,385.95 L66.84,388.32 L67.55,390.66 L68.25,392.98 L68.96,395.26 L69.67,397.53 L70.37,399.78 L71.08,402.02 L71.79,404.22 L72.50,406.40 L73.20,408.54 L73.91,410.62 L74.62,412.63 L75.32,414.56 L76.03,416.42 L76.74,418.19 L77.45,419.89 L78.15,421.53 L78.86,423.12 L79.57,424.67 L80.28,426.16 L80.98,427.62 L81.69,429.02 L82.40,430.37 L83.10,431.66 L83.81,432.89 L84.52,434.05 L85.23,435.15 L85.93,436.19 L86.64,437.17 L87.35,438.11 L88.06,439.01 L88.76,439.86 L89.47,440.67 L90.18,441.42 L90.88,442.12 L91.59,442.74 L92.30,443.29 L93.01,443.77 L93.71,444.18 L94.42,444.55 L95.13,444.87 L95.84,445.17 L96.54,445.45 L97.25,445.70 L97.96,445.92 L98.66,446.11 L99.37,446.26 L100.08,446.36 L100.79,446.41 L101.49,446.39 L102.20,446.29 L102.91,446.11 L103.61,445.85 L104.32,445.52 L105.03,445.13 L105.74,444.71 L106.44,444.25 L107.15,443.76 L107.86,443.23 L108.57,442.67 L109.27,442.09 L109.98,441.50 L110.69,440.92 L111.39,440.35 L112.10,439.82 L112.81,439.31 L113.52,438.84 L114.22,438.43 L114.93,438.10 L115.64,437.88 L116.35,437.77 L117.05,437.75 L117.76,437.80 L118.47,437.88 L119.17,437.97 L119.88,438.04 L120.59,438.07 L121.30,438.07 L122.00,438.05 L122.71,438.00 L123.42,437.94 L124.13,437.86 L124.83,437.77 L125.54,437.66 L126.25,437.55 L126.95,437.41 L127.66,437.25 L128.37,437.06 L129.08,436.86 L129.78,436.64 L130.49,436.42 L131.20,436.20 L131.90,435.98 L132.61,435.78 L133.32,435.60 L134.03,435.43 L134.73,435.27 L135.44,435.11 L136.15,434.96 L136.86,434.80 L137.56,434.63 L138.27,434.45 L138.98,434.25 L139.68,434.02 L140.39,433.74 L141.10,433.42 L141.81,433.05 L142.51,432.63 L143.22,432.16 L143.93,431.66 L144.64,431.13 L145.34,430.58 L146.05,430.03 L146.76,429.49 L147.46,428.96 L148.17,428.46 L148.88,428.00 L149.59,427.58 L150.29,427.19 L151.00,426.85 L151.71,426.54 L152.42,426.26 L153.12,426.01 L153.83,425.77 L154.54,425.54 L155.24,425.33 L155.95,425.12 L156.66,424.93 L157.37,424.73 L158.07,424.54 L158.78,424.35 L159.49,424.15 L160.19,423.95 L160.90,423.73 L161.61,423.51 L162.32,423.27 L163.02,423.01 L163.73,422.73 L164.44,422.43 L165.15,422.09 L165.85,421.72 L166.56,421.29 L167.27,420.81 L167.97,420.25 L168.68,419.61 L169.39,418.90 L170.10,418.13 L170.80,417.31 L171.51,416.44 L172.22,415.54 L172.93,414.62 L173.63,413.70 L174.34,412.78 L175.05,411.88 L175.75,410.99 L176.46,410.11 L177.17,409.25 L177.88,408.39 L178.58,407.52 L179.29,406.66 L180.00,405.78 L180.71,404.90 L181.41,404.01 L182.12,403.11 L182.83,402.19 L183.53,401.26 L184.24,400.31 L184.95,399.35 L185.66,398.36 L186.36,397.35 L187.07,396.31 L187.78,395.25 L188.48,394.17 L189.19,393.08 L189.90,391.97 L190.61,390.86 L191.31,389.74 L192.02,388.63 L192.73,387.53 L193.44,386.43 L194.14,385.35 L194.85,384.28 L195.56,383.22 L196.26,382.17 L196.97,381.12 L197.68,380.08 L198.39,379.04 L199.09,378.01 L199.80,376.99 L200.51,375.98 L201.22,374.98 L201.92,374.00 L202.63,373.03 L203.34,372.08 L204.04,371.15 L204.75,370.23 L205.46,369.33 L206.17,368.43 L206.87,367.55 L207.58,366.67 L208.29,365.81 L209.00,364.95 L209.70,364.10 L210.41,363.26 L211.12,362.43 L211.82,361.61 L212.53,360.80 L213.24,360.01 L213.95,359.22 L214.65,358.45 L215.36,357.68 L216.07,356.93 L216.77,356.19 L217.48,355.46 L218.19,354.75 L218.90,354.04 L219.60,353.34 L220.31,352.64 L221.02,351.95 L221.73,351.27 L222.43,350.59 L223.14,349.92 L223.85,349.26 L224.55,348.60 L225.26,347.96 L225.97,347.33 L226.68,346.72 L227.38,346.12 L228.09,345.53 L228.80,344.96 L229.51,344.40 L230.21,343.87 L230.92,343.35 L231.63,342.85 L232.33,342.37 L233.04,341.90 L233.75,341.45 L234.46,341.00 L235.16,340.57 L235.87,340.14 L236.58,339.72 L237.29,339.31 L237.99,338.92 L238.70,338.53 L239.41,338.15 L240.11,337.78 L240.82,337.42 L241.53,337.07 L242.24,336.74 L242.94,336.42 L243.65,336.11 L244.36,335.81 L245.06,335.53 L245.77,335.26 L246.48,335.00 L247.19,334.75 L247.89,334.51 L248.60,334.28 L249.31,334.05 L250.02,333.82 L250.72,333.60 L251.43,333.38 L252.14,333.17 L252.84,332.96 L253.55,332.76 L254.26,332.56 L254.97,332.37 L255.67,332.18 L256.38,332.00 L257.09,331.82 L257.80,331.65 L258.50,331.49 L259.21,331.33 L259.92,331.18 L260.62,331.04 L261.33,330.90 L262.04,330.77 L262.75,330.64 L263.45,330.53 L264.16,330.42 L264.87,330.32 L265.58,330.22 L266.28,330.13 L266.99,330.05 L267.70,329.96 L268.40,329.89 L269.11,329.81 L269.82,329.73 L270.53,329.66 L271.23,329.59 L271.94,329.52 L272.65,329.46 L273.35,329.39 L274.06,329.33 L274.77,329.27 L275.48,329.21 L276.18,329.15 L276.89,329.10 L277.60,329.04 L278.31,328.99 L279.01,328.94 L279.72,328.89 L280.43,328.84 L281.13,328.79 L281.84,328.74 L282.55,328.70 L283.26,328.65 L283.96,328.61 L284.67,328.56 L285.38,328.52 L286.09,328.48 L286.79,328.43 L287.50,328.39 L288.21,328.35 L288.91,328.31 L289.62,328.27 L290.33,328.23 L291.04,328.18 L291.74,328.14 L292.45,328.10 L293.16,328.05 L293.87,328.01 L294.57,327.97 L295.28,327.92 L295.99,327.88 L296.69,327.84 L297.40,327.79 L298.11,327.75 L298.82,327.71 L299.52,327.67 L300.23,327.63 L300.94,327.59 L301.64,327.56 L302.35,327.52 L303.06,327.49 L303.77,327.46 L304.47,327.43 L305.18,327.40 L305.89,327.37 L306.60,327.34 L307.30,327.32 L308.01,327.30 L308.72,327.28 L309.42,327.27 L310.13,327.26 L310.84,327.25 L311.55,327.24 L312.25,327.24 L312.96,327.23 L313.67,327.24 L314.38,327.24 L315.08,327.24 L315.79,327.25 L316.50,327.26 L317.20,327.27 L317.91,327.28 L318.62,327.29 L319.33,327.31 L320.03,327.32 L320.74,327.34 L321.45,327.36 L322.16,327.38 L322.86,327.40 L323.57,327.43 L324.28,327.46 L324.98,327.49 L325.69,327.52 L326.40,327.55 L327.11,327.58 L327.81,327.62 L328.52,327.66 L329.23,327.69 L329.93,327.74 L330.64,327.78 L331.35,327.82 L332.06,327.87 L332.76,327.92 L333.47,327.97 L334.18,328.02 L334.89,328.07 L335.59,328.11 L336.30,328.14" stroke="rgb(77,0,178)" stroke-width="1.2" fill="none"/>
<path d="M53.40,342.34 L54.11,344.28 L54.81,346.76 L55.52,349.62 L56.23,352.65 L56.94,355.75 L57.64,358.83 L58.35,361.89 L59.06,364.91 L59.77,367.89 L60.47,370.84 L61.18,373.76 L61.89,376.64 L62.59,379.50 L63.30,382.33 L64.01,385.13 L64.72,387.90 L65.42,390.64 L66.13,393.34 L66.84,396.01 L67.55,398.64 L68.25,401.24 L68.96,403.81 L69.67,406.36 L70.37,408.89 L71.08,411.40 L71.79,413.88 L72.50,416.33 L73.20,418.73 L73.91,421.06 L74.62,423.32 L75.32,425.50 L76.03,427.58 L76.74,429.58 L77.45,431.49 L78.15,433.33 L78.86,435.12 L79.57,436.86 L80.28,438.54 L80.98,440.17 L81.69,441.75 L82.40,443.27 L83.10,444.72 L83.81,446.10 L84.52,447.41 L85.23,448.64 L85.93,449.81 L86.64,450.91 L87.35,451.97 L88.06,452.97 L88.76,453.93 L89.47,454.84 L90.18,455.69 L90.88,456.47 L91.59,457.17 L92.30,457.79 L93.01,458.32 L93.71,458.79 L94.42,459.20 L95.13,459.57 L95.84,459.90 L96.54,460.21 L97.25,460.49 L97.96,460.74 L98.66,460.96 L99.37,461.12 L100.08,461.24 L100.79,461.30 L101.49,461.27 L102.20,461.16 L102.91,460.96 L103.61,460.66 L104.32,460.29 L105.03,459.86 L105.74,459.38 L106.44,458.87 L107.15,458.32 L107.86,457.72 L108.57,457.09 L109.27,456.44 L109.98,455.78 L110.69,455.12 L111.39,454.49 L112.10,453.88 L112.81,453.31 L113.52,452.78 L114.22,452.32 L114.93,451.96 L115.64,451.71 L116.35,451.59 L117.05,451.57 L117.76,451.62 L118.47,451.71 L119.17,451.81 L119.88,451.88 L120.59,451.92 L121.30,451.93 L122.00,451.90 L122.71,451.84 L123.42,451.77 L124.13,451.68 L124.83,451.58 L125.54,451.46 L126.25,451.33 L126.95,451.18 L127.66,451.01 L128.37,450.81 L129.08,450.58 L129.78,450.34 L130.49,450.08 L131.20,449.83 L131.90,449.57 L132.61,449.33 L133.32,449.08 L134.03,448.85 L134.73,448.62 L135.44,448.39 L136.15,448.16 L136.86,447.92 L137.56,447.69 L138.27,447.44 L138.98,447.19 L139.68,446.93 L140.39,446.66 L141.10,446.38 L141.81,446.08 L142.51,445.78 L143.22,445.47 L143.93,445.15 L144.64,444.82 L145.34,444.49 L146.05,444.16 L146.76,443.83 L147.46,443.50 L148.17,443.17 L148.88,442.86 L149.59,442.55 L150.29,442.25 L151.00,441.96 L151.71,441.68 L152.42,441.42 L153.12,441.17 L153.83,440.92 L154.54,440.69 L155.24,440.46 L155.95,440.23 L156.66,440.00 L157.37,439.77 L158.07,439.54 L158.78,439.30 L159.49,439.06 L160.19,438.81 L160.90,438.54 L161.61,438.26 L162.32,437.96 L163.02,437.65 L163.73,437.31 L164.44,436.95 L165.15,436.56 L165.85,436.13 L166.56,435.65 L167.27,435.09 L167.97,434.46 L168.68,433.75 L169.39,432.95 L170.10,432.08 L170.80,431.15 L171.51,430.17 L172.22,429.16 L172.93,428.13 L173.63,427.09 L174.34,426.06 L175.05,425.04 L175.75,424.04 L176.46,423.06 L177.17,422.08 L177.88,421.12 L178.58,420.15 L179.29,419.18 L180.00,418.20 L180.71,417.21 L181.41,416.20 L182.12,415.19 L182.83,414.15 L183.53,413.10 L184.24,412.03 L184.95,410.93 L185.66,409.80 L186.36,408.64 L187.07,407.45 L187.78,406.23 L188.48,404.98 L189.19,403.71 L189.90,402.43 L190.61,401.13 L191.31,399.84 L192.02,398.54 L192.73,397.26 L193.44,395.98 L194.14,394.72 L194.85,393.48 L195.56,392.25 L196.26,391.02 L196.97,389.80 L197.68,388.59 L198.39,387.38 L199.09,386.18 L199.80,384.99 L200.51,383.81 L201.22,382.65 L201.92,381.50 L202.63,380.37 L203.34,379.26 L204.04,378.16 L204.75,377.09 L205.46,376.02 L206.17,374.97 L206.87,373.93 L207.58,372.89 L208.29,371.87 L209.00,370.85 L209.70,369.85 L210.41,368.85 L211.12,367.87 L211.82,366.90 L212.53,365.94 L213.24,365.00 L213.95,364.07 L214.65,363.15 L215.36,362.25 L216.07,361.37 L216.77,360.50 L217.48,359.64 L218.19,358.81 L218.90,357.98 L219.60,357.16 L220.31,356.35 L221.02,355.55 L221.73,354.75 L222.43,353.97 L223.14,353.19 L223.85,352.42 L224.55,351.67 L225.26,350.93 L225.97,350.20 L226.68,349.49 L227.38,348.80 L228.09,348.12 L228.80,347.46 L229.51,346.83 L230.21,346.21 L230.92,345.62 L231.63,345.05 L232.33,344.50 L233.04,343.96 L233.75,343.45 L234.46,342.94 L235.16,342.45 L235.87,341.96 L236.58,341.49 L237.29,341.03 L237.99,340.57 L238.70,340.13 L239.41,339.70 L240.11,339.29 L240.82,338.88 L241.53,338.49 L242.24,338.11 L242.94,337.75 L243.65,337.40 L244.36,337.07 L245.06,336.75 L245.77,336.45 L246.48,336.16 L247.19,335.88 L247.89,335.60 L248.60,335.34 L249.31,335.08 L250.02,334.83 L250.72,334.58 L251.43,334.33 L252.14,334.10 L252.84,333.86 L253.55,333.63 L254.26,333.41 L254.97,333.19 L255.67,332.98 L256.38,332.78 L257.09,332.58 L257.80,332.39 L258.50,332.21 L259.21,332.03 L259.92,331.86 L260.62,331.70 L261.33,331.54 L262.04,331.40 L262.75,331.26 L263.45,331.13 L264.16,331.01 L264.87,330.89 L265.58,330.78 L266.28,330.68 L266.99,330.58 L267.70,330.49 L268.40,330.40 L269.11,330.31 L269.82,330.22 L270.53,330.14 L271.23,330.06 L271.94,329.98 L272.65,329.91 L273.35,329.83 L274.06,329.76 L274.77,329.69 L275.48,329.63 L276.18,329.56 L276.89,329.50 L277.60,329.43 L278.31,329.37 L279.01,329.31 L279.72,329.26 L280.43,329.20 L281.13,329.15 L281.84,329.09 L282.55,329.04 L283.26,328.99 L283.96,328.94 L284.67,328.89 L285.38,328.84 L286.09,328.79 L286.79,328.74 L287.50,328.69 L288.21,328.65 L288.91,328.60 L289.62,328.56 L290.33,328.51 L291.04,328.46 L291.74,328.41 L292.45,328.37 L293.16,328.32 L293.87,328.27 L294.57,328.22 L295.28,328.17 L295.99,328.13 L296.69,328.08 L297.40,328.03 L298.11,327.99 L298.82,327.94 L299.52,327.90 L300.23,327.86 L300.94,327.81 L301.64,327.77 L302.35,327.74 L303.06,327.70 L303.77,327.66 L304.47,327.63 L305.18,327.60 L305.89,327.57 L306.60,327.54 L307.30,327.52 L308.01,327.50 L308.72,327.48 L309.42,327.46 L310.13,327.45 L310.84,327.44 L311.55,327.43 L312.25,327.42 L312.96,327.42 L313.67,327.42 L314.38,327.42 L315.08,327.43 L315.79,327.43 L316.50,327.44 L317.20,327.45 L317.91,327.45 L318.62,327.46 L319.33,327.48 L320.03,327.49 L320.74,327.50 L321.45,327.52 L322.16,327.54 L322.86,327.56 L323.57,327.58 L324.28,327.60 L324.98,327.62 L325.69,327.65 L326.40,327.67 L327.11,327.70 L327.81,327.73 L328.52,327.77 L329.23,327.80 L329.93,327.84 L330.64,327.87 L331.35,327.91 L332.06,327.95 L332.76,328.00 L333.47,328.04 L334.18,328.09 L334.89,328.13 L335.59,328.17 L336.30,328.20" stroke="rgb(51,0,204)" stroke-width="1.2" fill="none"/>
<path d="M53.40,344.19 L54.11,346.34 L54.81,349.11 L55.52,352.29 L56.23,355.68 L56.94,359.13 L57.64,362.57 L58.35,365.97 L59.06,369.34 L59.77,372.67 L60.47,375.96 L61.18,379.21 L61.89,382.43 L62.59,385.61 L63.30,388.77 L64.01,391.89 L64.72,394.97 L65.42,398.02 L66.13,401.04 L66.84,404.01 L67.55,406.95 L68.25,409.85 L68.96,412.71 L69.67,415.56 L70.37,418.37 L71.08,421.17 L71.79,423.94 L72.50,426.67 L73.20,429.34 L73.91,431.95 L74.62,434.47 L75.32,436.89 L76.03,439.22 L76.74,441.44 L77.45,443.57 L78.15,445.63 L78.86,447.62 L79.57,449.55 L80.28,451.43 L80.98,453.25 L81.69,455.01 L82.40,456.70 L83.10,458.32 L83.81,459.86 L84.52,461.31 L85.23,462.69 L85.93,463.99 L86.64,465.23 L87.35,466.40 L88.06,467.52 L88.76,468.59 L89.47,469.61 L90.18,470.55 L90.88,471.42 L91.59,472.20 L92.30,472.89 L93.01,473.49 L93.71,474.01 L94.42,474.46 L95.13,474.87 L95.84,475.25 L96.54,475.59 L97.25,475.91 L97.96,476.19 L98.66,476.42 L99.37,476.61 L100.08,476.74 L100.79,476.80 L101.49,476.78 L102.20,476.65 L102.91,476.42 L103.61,476.09 L104.32,475.68 L105.03,475.20 L105.74,474.67 L106.44,474.09 L107.15,473.48 L107.86,472.82 L108.57,472.12 L109.27,471.39 L109.98,470.65 L110.69,469.92 L111.39,469.21 L112.10,468.54 L112.81,467.90 L113.52,467.31 L114.22,466.80 L114.93,466.39 L115.64,466.11 L116.35,465.98 L117.05,465.95 L117.76,466.02 L118.47,466.12 L119.17,466.22 L119.88,466.31 L120.59,466.35 L121.30,466.35 L122.00,466.32 L122.71,466.26 L123.42,466.18 L124.13,466.08 L124.83,465.96 L125.54,465.83 L126.25,465.66 L126.95,465.47 L127.66,465.23 L128.37,464.95 L129.08,464.65 L129.78,464.35 L130.49,464.08 L131.20,463.85 L131.90,463.68 L132.61,463.59 L133.32,463.56 L134.03,463.59 L134.73,463.66 L135.44,463.75 L136.15,463.86 L136.86,463.98 L137.56,464.08 L138.27,464.18 L138.98,464.25 L139.68,464.29 L140.39,464.30 L141.10,464.28 L141.81,464.24 L142.51,464.17 L143.22,464.07 L143.93,463.95 L144.64,463.81 L145.34,463.66 L146.05,463.49 L146.76,463.31 L147.46,463.12 L148.17,462.92 L148.88,462.71 L149.59,462.50 L150.29,462.27 L151.00,462.03 L151.71,461.76 L152.42,461.48 L153.12,461.17 L153.83,460.83 L154.54,460.47 L155.24,460.08 L155.95,459.67 L156.66,459.24 L157.37,458.79 L158.07,458.31 L158.78,457.82 L159.49,457.30 L160.19,456.76 L160.90,456.21 L161.61,455.64 L162.32,455.06 L163.02,454.45 L163.73,453.84 L164.44,453.20 L165.15,452.55 L165.85,451.88 L166.56,451.17 L167.27,450.41 L167.97,449.60 L168.68,448.73 L169.39,447.80 L170.10,446.81 L170.80,445.78 L171.51,444.72 L172.22,443.62 L172.93,442.51 L173.63,441.39 L174.34,440.28 L175.05,439.17 L175.75,438.07 L176.46,436.98 L177.17,435.90 L177.88,434.82 L178.58,433.74 L179.29,432.66 L180.00,431.56 L180.71,430.46 L181.41,429.34 L182.12,428.20 L182.83,427.04 L183.53,425.85 L184.24,424.64 L184.95,423.40 L185.66,422.12 L186.36,420.80 L187.07,419.45 L187.78,418.05 L188.48,416.62 L189.19,415.17 L189.90,413.69 L190.61,412.20 L191.31,410.71 L192.02,409.22 L192.73,407.73 L193.44,406.27 L194.14,404.82 L194.85,403.38 L195.56,401.96 L196.26,400.55 L196.97,399.15 L197.68,397.75 L198.39,396.36 L199.09,394.98 L199.80,393.61 L200.51,392.25 L201.22,390.90 L201.92,389.58 L202.63,388.27 L203.34,386.98 L204.04,385.72 L204.75,384.47 L205.46,383.23 L206.17,382.01 L206.87,380.79 L207.58,379.59 L208.29,378.39 L209.00,377.21 L209.70,376.03 L210.41,374.87 L211.12,373.73 L211.82,372.59 L212.53,371.47 L213.24,370.37 L213.95,369.29 L214.65,368.22 L215.36,367.17 L216.07,366.14 L216.77,365.14 L217.48,364.15 L218.19,363.18 L218.90,362.22 L219.60,361.28 L220.31,360.35 L221.02,359.42 L221.73,358.51 L222.43,357.60 L223.14,356.71 L223.85,355.83 L224.55,354.97 L225.26,354.12 L225.97,353.29 L226.68,352.48 L227.38,351.68 L228.09,350.91 L228.80,350.16 L229.51,349.44 L230.21,348.74 L230.92,348.06 L231.63,347.42 L232.33,346.79 L233.04,346.19 L233.75,345.60 L234.46,345.03 L235.16,344.47 L235.87,343.92 L236.58,343.39 L237.29,342.87 L237.99,342.36 L238.70,341.86 L239.41,341.38 L240.11,340.91 L240.82,340.46 L241.53,340.02 L242.24,339.59 L242.94,339.19 L243.65,338.80 L244.36,338.42 L245.06,338.07 L245.77,337.73 L246.48,337.40 L247.19,337.08 L247.89,336.78 L248.60,336.48 L249.31,336.19 L250.02,335.91 L250.72,335.63 L251.43,335.36 L252.14,335.09 L252.84,334.83 L253.55,334.58 L254.26,334.33 L254.97,334.08 L255.67,333.85 L256.38,333.62 L257.09,333.40 L257.80,333.19 L258.50,332.98 L259.21,332.78 L259.92,332.59 L260.62,332.41 L261.33,332.24 L262.04,332.07 L262.75,331.92 L263.45,331.77 L264.16,331.64 L264.87,331.51 L265.58,331.38 L266.28,331.27 L266.99,331.16 L267.70,331.05 L268.40,330.95 L269.11,330.85 L269.82,330.75 L270.53,330.66 L271.23,330.57 L271.94,330.48 L272.65,330.39 L273.35,330.31 L274.06,330.23 L274.77,330.15 L275.48,330.07 L276.18,330.00 L276.89,329.93 L277.60,329.85 L278.31,329.79 L279.01,329.72 L279.72,329.65 L280.43,329.59 L281.13,329.53 L281.84,329.47 L282.55,329.41 L283.26,329.35 L283.96,329.29 L284.67,329.23 L285.38,329.18 L286.09,329.13 L286.79,329.07 L287.50,329.02 L288.21,328.97 L288.91,328.92 L289.62,328.86 L290.33,328.81 L291.04,328.76 L291.74,328.71 L292.45,328.66 L293.16,328.60 L293.87,328.55 L294.57,328.50 L295.28,328.45 L295.99,328.39 L296.69,328.34 L297.40,328.29 L298.11,328.24 L298.82,328.19 L299.52,328.14 L300.23,328.10 L300.94,328.05 L301.64,328.01 L302.35,327.97 L303.06,327.93 L303.77,327.89 L304.47,327.85 L305.18,327.82 L305.89,327.78 L306.60,327.76 L307.30,327.73 L308.01,327.70 L308.72,327.68 L309.42,327.67 L310.13,327.65 L310.84,327.64 L311.55,327.63 L312.25,327.63 L312.96,327.62 L313.67,327.62 L314.38,327.62 L315.08,327.63 L315.79,327.63 L316.50,327.63 L317.20,327.64 L317.91,327.64 L318.62,327.65 L319.33,327.66 L320.03,327.67 L320.74,327.68 L321.45,327.69 L322.16,327.70 L322.86,327.72 L323.57,327.73 L324.28,327.75 L324.98,327.77 L325.69,327.79 L326.40,327.81 L327.11,327.83 L327.81,327.86 L328.52,327.88 L329.23,327.91 L329.93,327.94 L330.64,327.98 L331.35,328.01 L332.06,328.05 L332.76,328.08 L333.47,328.12 L334.18,328.16 L334.89,328.20 L335.59,328.24 L336.30,328.26" stroke="rgb(25,0,230)" stroke-width="1.2" fill="none"/>
<path d="M53.40,341.40 L54.11,342.69 L54.81,344.28 L55.52,346.12 L56.23,348.17 L56.94,350.35 L57.64,352.64 L58.35,354.99 L59.06,357.38 L59.77,359.81 L60.47,362.27 L61.18,364.76 L61.89,367.27 L62.59,369.81 L63.30,372.38 L64.01,374.99 L64.72,377.62 L65.42,380.28 L66.13,382.97 L66.84,385.70 L67.55,388.46 L68.25,391.25 L68.96,394.06 L69.67,396.89 L70.37,399.74 L71.08,402.60 L71.79,405.46 L72.50,408.32 L73.20,411.18 L73.91,414.03 L74.62,416.88 L75.32,419.71 L76.03,422.53 L76.74,425.34 L77.45,428.11 L78.15,430.86 L78.86,433.58 L79.57,436.26 L80.28,438.92 L80.98,441.55 L81.69,444.16 L82.40,446.76 L83.10,449.35 L83.81,451.96 L84.52,454.59 L85.23,457.23 L85.93,459.90 L86.64,462.58 L87.35,465.24 L88.06,467.88 L88.76,470.47 L89.47,472.98 L90.18,475.39 L90.88,477.70 L91.59,479.88 L92.30,481.93 L93.01,483.83 L93.71,485.58 L94.42,487.17 L95.13,488.57 L95.84,489.79 L96.54,490.82 L97.25,491.69 L97.96,492.40 L98.66,492.96 L99.37,493.40 L100.08,493.71 L100.79,493.89 L101.49,493.94 L102.20,493.87 L102.91,493.69 L103.61,493.41 L104.32,493.04 L105.03,492.60 L105.74,492.11 L106.44,491.59 L107.15,491.04 L107.86,490.48 L108.57,489.92 L109.27,489.37 L109.98,488.83 L110.69,488.33 L111.39,487.87 L112.10,487.45 L112.81,487.07 L113.52,486.72 L114.22,486.41 L114.93,486.13 L115.64,485.88 L116.35,485.66 L117.05,485.47 L117.76,485.31 L118.47,485.19 L119.17,485.11 L119.88,485.06 L120.59,485.06 L121.30,485.09 L122.00,485.15 L122.71,485.24 L123.42,485.35 L124.13,485.46 L124.83,485.58 L125.54,485.70 L126.25,485.80 L126.95,485.88 L127.66,485.95 L128.37,485.99 L129.08,486.01 L129.78,486.01 L130.49,486.00 L131.20,485.97 L131.90,485.93 L132.61,485.88 L133.32,485.82 L134.03,485.76 L134.73,485.69 L135.44,485.62 L136.15,485.55 L136.86,485.48 L137.56,485.40 L138.27,485.33 L138.98,485.26 L139.68,485.19 L140.39,485.11 L141.10,485.04 L141.81,484.97 L142.51,484.89 L143.22,484.81 L143.93,484.72 L144.64,484.63 L145.34,484.53 L146.05,484.42 L146.76,484.30 L147.46,484.16 L148.17,484.00 L148.88,483.81 L149.59,483.58 L150.29,483.30 L151.00,482.95 L151.71,482.54 L152.42,482.06 L153.12,481.52 L153.83,480.93 L154.54,480.31 L155.24,479.67 L155.95,479.02 L156.66,478.38 L157.37,477.75 L158.07,477.14 L158.78,476.55 L159.49,475.96 L160.19,475.38 L160.90,474.80 L161.61,474.21 L162.32,473.59 L163.02,472.95 L163.73,472.27 L164.44,471.55 L165.15,470.78 L165.85,469.97 L166.56,469.10 L167.27,468.18 L167.97,467.22 L168.68,466.21 L169.39,465.16 L170.10,464.08 L170.80,462.97 L171.51,461.82 L172.22,460.65 L172.93,459.45 L173.63,458.23 L174.34,456.99 L175.05,455.75 L175.75,454.50 L176.46,453.25 L177.17,452.00 L177.88,450.76 L178.58,449.52 L179.29,448.28 L180.00,447.05 L180.71,445.80 L181.41,444.55 L182.12,443.27 L182.83,441.97 L183.53,440.64 L184.24,439.27 L184.95,437.86 L185.66,436.40 L186.36,434.91 L187.07,433.36 L187.78,431.78 L188.48,430.17 L189.19,428.52 L189.90,426.85 L190.61,425.16 L191.31,423.46 L192.02,421.76 L192.73,420.06 L193.44,418.37 L194.14,416.69 L194.85,415.03 L195.56,413.38 L196.26,411.75 L196.97,410.13 L197.68,408.53 L198.39,406.94 L199.09,405.36 L199.80,403.79 L200.51,402.23 L201.22,400.68 L201.92,399.13 L202.63,397.60 L203.34,396.08 L204.04,394.57 L204.75,393.06 L205.46,391.56 L206.17,390.07 L206.87,388.58 L207.58,387.10 L208.29,385.63 L209.00,384.18 L209.70,382.74 L210.41,381.34 L211.12,379.96 L211.82,378.61 L212.53,377.31 L213.24,376.05 L213.95,374.83 L214.65,373.65 L215.36,372.51 L216.07,371.41 L216.77,370.33 L217.48,369.29 L218.19,368.26 L218.90,367.25 L219.60,366.24 L220.31,365.23 L221.02,364.22 L221.73,363.21 L222.43,362.20 L223.14,361.19 L223.85,360.17 L224.55,359.17 L225.26,358.17 L225.97,357.18 L226.68,356.22 L227.38,355.28 L228.09,354.36 L228.80,353.48 L229.51,352.63 L230.21,351.81 L230.92,351.02 L231.63,350.26 L232.33,349.52 L233.04,348.80 L233.75,348.11 L234.46,347.43 L235.16,346.78 L235.87,346.14 L236.58,345.52 L237.29,344.92 L237.99,344.34 L238.70,343.78 L239.41,343.24 L240.11,342.72 L240.82,342.22 L241.53,341.75 L242.24,341.29 L242.94,340.85 L243.65,340.42 L244.36,340.02 L245.06,339.62 L245.77,339.24 L246.48,338.88 L247.19,338.52 L247.89,338.18 L248.60,337.84 L249.31,337.52 L250.02,337.21 L250.72,336.90 L251.43,336.60 L252.14,336.31 L252.84,336.03 L253.55,335.75 L254.26,335.48 L254.97,335.21 L255.67,334.95 L256.38,334.70 L257.09,334.45 L257.80,334.20 L258.50,333.96 L259.21,333.74 L259.92,333.51 L260.62,333.30 L261.33,333.10 L262.04,332.91 L262.75,332.73 L263.45,332.56 L264.16,332.40 L264.87,332.25 L265.58,332.11 L266.28,331.98 L266.99,331.85 L267.70,331.73 L268.40,331.62 L269.11,331.51 L269.82,331.40 L270.53,331.30 L271.23,331.20 L271.94,331.11 L272.65,331.01 L273.35,330.92 L274.06,330.83 L274.77,330.74 L275.48,330.65 L276.18,330.56 L276.89,330.47 L277.60,330.38 L278.31,330.29 L279.01,330.20 L279.72,330.12 L280.43,330.03 L281.13,329.95 L281.84,329.87 L282.55,329.80 L283.26,329.73 L283.96,329.66 L284.67,329.59 L285.38,329.53 L286.09,329.48 L286.79,329.42 L287.50,329.38 L288.21,329.33 L288.91,329.29 L289.62,329.25 L290.33,329.21 L291.04,329.18 L291.74,329.15 L292.45,329.11 L293.16,329.08 L293.87,329.05 L294.57,329.02 L295.28,328.99 L295.99,328.96 L296.69,328.93 L297.40,328.90 L298.11,328.87 L298.82,328.83 L299.52,328.80 L300.23,328.76 L300.94,328.72 L301.64,328.68 L302.35,328.63 L303.06,328.58 L303.77,328.54 L304.47,328.48 L305.18,328.43 L305.89,328.38 L306.60,328.32 L307.30,328.27 L308.01,328.21 L308.72,328.16 L309.42,328.10 L310.13,328.05 L310.84,328.00 L311.55,327.95 L312.25,327.90 L312.96,327.85 L313.67,327.81 L314.38,327.76 L315.08,327.73 L315.79,327.69 L316.50,327.66 L317.20,327.63 L317.91,327.61 L318.62,327.59 L319.33,327.58 L320.03,327.57 L320.74,327.56 L321.45,327.56 L322.16,327.57 L322.86,327.58 L323.57,327.59 L324.28,327.60 L324.98,327.62 L325.69,327.65 L326.40,327.67 L327.11,327.70 L327.81,327.74 L328.52,327.77 L329.23,327.81 L329.93,327.86 L330.64,327.90 L331.35,327.95 L332.06,328.00 L332.76,328.06 L333.47,328.11 L334.18,328.16 L334.89,328.21 L335.59,328.25 L336.30,328.29" stroke="rgb(0,0,255)" stroke-width="1.2" fill="none"/>
<text transform="translate(22.2,412.2) rotate(-90)" text-anchor="middle" font-size="10.1" letter-spacing="0.22">[θ] (10<tspan font-size="7.47" dy="-4.24">3</tspan><tspan dy="4.24"> ·deg ·cm</tspan><tspan font-size="7.47" dy="-4.24">2</tspan><tspan dy="4.24"> ·dmol</tspan><tspan font-size="7.47" dy="-4.24">-1</tspan><tspan dy="4.24">)</tspan></text>
<text x="194.85" y="564.10" text-anchor="middle" font-size="10.8">wavelength (nm)</text>
<text x="10.5" y="318.3" font-size="24" font-weight="bold">C</text>
<rect x="404.5" y="308.5" width="306.0" height="220.0" fill="none" stroke="#262626" stroke-width="1"/>
<path d="M407.5,528.5 V532.5 M407.5,308.5 V312.5 M477.5,528.5 V532.5 M477.5,308.5 V312.5 M547.5,528.5 V532.5 M547.5,308.5 V312.5 M617.5,528.5 V532.5 M617.5,308.5 V312.5 M688.5,528.5 V532.5 M688.5,308.5 V312.5 M442.5,528.5 V530.7 M442.5,308.5 V310.7 M512.5,528.5 V530.7 M512.5,308.5 V310.7 M582.5,528.5 V530.7 M582.5,308.5 V310.7 M653.5,528.5 V530.7 M653.5,308.5 V310.7 M404.5,325.5 H400.0 M710.5,325.5 H706.5 M404.5,391.5 H400.0 M710.5,391.5 H706.5 M404.5,458.5 H400.0 M710.5,458.5 H706.5 M404.5,524.5 H400.0 M710.5,524.5 H706.5 M404.5,358.5 H402.3 M710.5,358.5 H708.3 M404.5,424.5 H402.3 M710.5,424.5 H708.3 M404.5,491.5 H402.3 M710.5,491.5 H708.3" stroke="#262626" stroke-width="1" fill="none"/>
<text x="407.20" y="541.90" text-anchor="middle" font-size="9">0</text>
<text x="477.45" y="541.90" text-anchor="middle" font-size="9">50</text>
<text x="547.70" y="541.90" text-anchor="middle" font-size="9">100</text>
<text x="617.95" y="541.90" text-anchor="middle" font-size="9">150</text>
<text x="688.20" y="541.90" text-anchor="middle" font-size="9">200</text>
<text x="397.40" y="328.10" text-anchor="end" font-size="9">-2</text>
<text x="397.40" y="394.30" text-anchor="end" font-size="9">-4</text>
<text x="397.40" y="460.50" text-anchor="end" font-size="9">-6</text>
<text x="397.40" y="526.70" text-anchor="end" font-size="9">-8</text>
<rect x="404.30" y="514.40" width="5" height="5" fill="#000"/>
<rect x="411.70" y="488.40" width="5" height="5" fill="#000"/>
<rect x="418.70" y="461.30" width="5" height="5" fill="#000"/>
<rect x="432.50" y="434.30" width="5" height="5" fill="#000"/>
<rect x="460.80" y="410.60" width="5" height="5" fill="#000"/>
<rect x="517.00" y="381.80" width="5" height="5" fill="#000"/>
<rect x="601.00" y="358.50" width="5" height="5" fill="#000"/>
<rect x="685.40" y="342.50" width="5" height="5" fill="#000"/>
<path d="M407.20,516.62 L408.14,511.92 L409.08,507.64 L410.02,503.62 L410.96,499.81 L411.90,496.19 L412.84,492.74 L413.78,489.44 L414.72,486.29 L415.66,483.27 L416.60,480.36 L417.54,477.58 L418.48,474.89 L419.42,472.31 L420.36,469.82 L421.30,467.43 L422.24,465.11 L423.18,462.87 L424.12,460.71 L425.06,458.62 L426.00,456.59 L426.94,454.63 L427.88,452.73 L428.82,450.89 L429.76,449.10 L430.69,447.37 L431.63,445.69 L432.57,444.05 L433.51,442.46 L434.45,440.91 L435.39,439.41 L436.33,437.95 L437.27,436.52 L438.21,435.13 L439.15,433.78 L440.09,432.46 L441.03,431.18 L441.97,429.92 L442.91,428.70 L443.85,427.51 L444.79,426.34 L445.73,425.20 L446.67,424.09 L447.61,423.01 L448.55,421.94 L449.49,420.91 L450.43,419.89 L451.37,418.90 L452.31,417.93 L453.25,416.98 L454.19,416.04 L455.13,415.13 L456.07,414.24 L457.01,413.37 L457.95,412.51 L458.89,411.67 L459.83,410.85 L460.77,410.04 L461.71,409.25 L462.65,408.47 L463.59,407.71 L464.53,406.96 L465.47,406.23 L466.41,405.51 L467.35,404.80 L468.29,404.11 L469.23,403.43 L470.17,402.76 L471.11,402.10 L472.05,401.45 L472.99,400.82 L473.93,400.19 L474.87,399.58 L475.81,398.98 L476.75,398.38 L477.68,397.80 L478.62,397.23 L479.56,396.66 L480.50,396.10 L481.44,395.56 L482.38,395.02 L483.32,394.49 L484.26,393.97 L485.20,393.46 L486.14,392.95 L487.08,392.45 L488.02,391.96 L488.96,391.48 L489.90,391.00 L490.84,390.53 L491.78,390.07 L492.72,389.62 L493.66,389.17 L494.60,388.73 L495.54,388.29 L496.48,387.86 L497.42,387.44 L498.36,387.02 L499.30,386.61 L500.24,386.20 L501.18,385.80 L502.12,385.40 L503.06,385.01 L504.00,384.63 L504.94,384.25 L505.88,383.87 L506.82,383.50 L507.76,383.14 L508.70,382.78 L509.64,382.42 L510.58,382.07 L511.52,381.72 L512.46,381.38 L513.40,381.04 L514.34,380.71 L515.28,380.38 L516.22,380.05 L517.16,379.73 L518.10,379.41 L519.04,379.10 L519.98,378.79 L520.92,378.48 L521.86,378.18 L522.80,377.88 L523.74,377.58 L524.67,377.29 L525.61,377.00 L526.55,376.71 L527.49,376.43 L528.43,376.15 L529.37,375.87 L530.31,375.60 L531.25,375.33 L532.19,375.06 L533.13,374.80 L534.07,374.53 L535.01,374.28 L535.95,374.02 L536.89,373.77 L537.83,373.52 L538.77,373.27 L539.71,373.02 L540.65,372.78 L541.59,372.54 L542.53,372.30 L543.47,372.07 L544.41,371.83 L545.35,371.60 L546.29,371.38 L547.23,371.15 L548.17,370.93 L549.11,370.70 L550.05,370.49 L550.99,370.27 L551.93,370.05 L552.87,369.84 L553.81,369.63 L554.75,369.42 L555.69,369.22 L556.63,369.01 L557.57,368.81 L558.51,368.61 L559.45,368.41 L560.39,368.21 L561.33,368.02 L562.27,367.82 L563.21,367.63 L564.15,367.44 L565.09,367.26 L566.03,367.07 L566.97,366.88 L567.91,366.70 L568.85,366.52 L569.79,366.34 L570.73,366.16 L571.66,365.99 L572.60,365.81 L573.54,365.64 L574.48,365.47 L575.42,365.30 L576.36,365.13 L577.30,364.96 L578.24,364.80 L579.18,364.63 L580.12,364.47 L581.06,364.31 L582.00,364.15 L582.94,363.99 L583.88,363.83 L584.82,363.67 L585.76,363.52 L586.70,363.37 L587.64,363.21 L588.58,363.06 L589.52,362.91 L590.46,362.76 L591.40,362.62 L592.34,362.47 L593.28,362.33 L594.22,362.18 L595.16,362.04 L596.10,361.90 L597.04,361.76 L597.98,361.62 L598.92,361.48 L599.86,361.34 L600.80,361.21 L601.74,361.07 L602.68,360.94 L603.62,360.81 L604.56,360.67 L605.50,360.54 L606.44,360.41 L607.38,360.28 L608.32,360.16 L609.26,360.03 L610.20,359.90 L611.14,359.78 L612.08,359.65 L613.02,359.53 L613.96,359.41 L614.90,359.29 L615.84,359.17 L616.78,359.05 L617.72,358.93 L618.65,358.81 L619.59,358.69 L620.53,358.58 L621.47,358.46 L622.41,358.35 L623.35,358.23 L624.29,358.12 L625.23,358.01 L626.17,357.90 L627.11,357.79 L628.05,357.68 L628.99,357.57 L629.93,357.46 L630.87,357.35 L631.81,357.25 L632.75,357.14 L633.69,357.03 L634.63,356.93 L635.57,356.83 L636.51,356.72 L637.45,356.62 L638.39,356.52 L639.33,356.42 L640.27,356.32 L641.21,356.22 L642.15,356.12 L643.09,356.02 L644.03,355.92 L644.97,355.82 L645.91,355.73 L646.85,355.63 L647.79,355.54 L648.73,355.44 L649.67,355.35 L650.61,355.25 L651.55,355.16 L652.49,355.07 L653.43,354.98 L654.37,354.89 L655.31,354.80 L656.25,354.71 L657.19,354.62 L658.13,354.53 L659.07,354.44 L660.01,354.35 L660.95,354.27 L661.89,354.18 L662.83,354.09 L663.77,354.01 L664.71,353.92 L665.64,353.84 L666.58,353.75 L667.52,353.67 L668.46,353.59 L669.40,353.51 L670.34,353.42 L671.28,353.34 L672.22,353.26 L673.16,353.18 L674.10,353.10 L675.04,353.02 L675.98,352.94 L676.92,352.86 L677.86,352.79 L678.80,352.71 L679.74,352.63 L680.68,352.55 L681.62,352.48 L682.56,352.40 L683.50,352.33 L684.44,352.25 L685.38,352.18 L686.32,352.10 L687.26,352.03 L688.20,351.96" stroke="#ff1a1a" stroke-width="1.3" fill="none"/>
<text transform="translate(384.2,417.8) rotate(-90)" text-anchor="middle" font-size="10.7" letter-spacing="0.21">[θ] at 217 nm (10<tspan font-size="7.92" dy="-4.49">3</tspan><tspan dy="4.49"> ·deg ·cm</tspan><tspan font-size="7.92" dy="-4.49">2</tspan><tspan dy="4.49"> ·dmol</tspan><tspan font-size="7.92" dy="-4.49">-1</tspan><tspan dy="4.49">)</tspan></text>
<text x="557.45" y="561.8" text-anchor="middle" font-size="11.2">ZnCl<tspan font-size="7.5" dy="3">2</tspan><tspan dy="-3"> (μM)</tspan></text>
<text x="372.5" y="319.8" font-size="24" font-weight="bold">D</text>
<rect x="229.5" y="608.5" width="307.0" height="220.0" fill="none" stroke="#262626" stroke-width="1"/>
<path d="M233.5,828.5 V832.5 M233.5,608.5 V612.5 M308.5,828.5 V832.5 M308.5,608.5 V612.5 M384.5,828.5 V832.5 M384.5,608.5 V612.5 M460.5,828.5 V832.5 M460.5,608.5 V612.5 M536.5,828.5 V832.5 M536.5,608.5 V612.5 M271.5,828.5 V830.7 M271.5,608.5 V610.7 M346.5,828.5 V830.7 M346.5,608.5 V610.7 M422.5,828.5 V830.7 M422.5,608.5 V610.7 M498.5,828.5 V830.7 M498.5,608.5 V610.7 M229.5,625.5 H225.0 M536.5,625.5 H532.5 M229.5,691.5 H225.0 M536.5,691.5 H532.5 M229.5,757.5 H225.0 M536.5,757.5 H532.5 M229.5,824.5 H225.0 M536.5,824.5 H532.5 M229.5,658.5 H227.3 M536.5,658.5 H534.3 M229.5,724.5 H227.3 M536.5,724.5 H534.3 M229.5,791.5 H227.3 M536.5,791.5 H534.3" stroke="#262626" stroke-width="1" fill="none"/>
<text x="233.10" y="841.60" text-anchor="middle" font-size="9">0</text>
<text x="308.90" y="841.60" text-anchor="middle" font-size="9">20</text>
<text x="384.70" y="841.60" text-anchor="middle" font-size="9">40</text>
<text x="460.50" y="841.60" text-anchor="middle" font-size="9">60</text>
<text x="536.30" y="841.60" text-anchor="middle" font-size="9">80</text>
<text x="222.30" y="627.80" text-anchor="end" font-size="9">-2</text>
<text x="222.30" y="694.10" text-anchor="end" font-size="9">-4</text>
<text x="222.30" y="760.40" text-anchor="end" font-size="9">-6</text>
<text x="222.30" y="826.70" text-anchor="end" font-size="9">-8</text>
<rect x="230.30" y="811.70" width="5" height="5" fill="#000"/>
<rect x="240.00" y="778.80" width="5" height="5" fill="#000"/>
<rect x="249.60" y="750.40" width="5" height="5" fill="#000"/>
<rect x="258.90" y="727.00" width="5" height="5" fill="#000"/>
<rect x="268.30" y="704.40" width="5" height="5" fill="#000"/>
<rect x="287.30" y="686.10" width="5" height="5" fill="#000"/>
<rect x="306.00" y="668.20" width="5" height="5" fill="#000"/>
<rect x="344.20" y="652.80" width="5" height="5" fill="#000"/>
<rect x="381.80" y="637.50" width="5" height="5" fill="#000"/>
<rect x="419.80" y="624.80" width="5" height="5" fill="#000"/>
<rect x="495.50" y="621.80" width="5" height="5" fill="#000"/>
<path d="M233.10,811.68 L233.99,808.20 L234.87,804.65 L235.76,801.15 L236.65,797.70 L237.54,794.34 L238.42,791.06 L239.31,787.85 L240.20,784.73 L241.09,781.69 L241.97,778.73 L242.86,775.85 L243.75,773.04 L244.63,770.31 L245.52,767.65 L246.41,765.05 L247.30,762.52 L248.18,760.06 L249.07,757.66 L249.96,755.32 L250.85,753.04 L251.73,750.82 L252.62,748.65 L253.51,746.53 L254.39,744.46 L255.28,742.45 L256.17,740.48 L257.06,738.55 L257.94,736.68 L258.83,734.84 L259.72,733.05 L260.61,731.30 L261.49,729.59 L262.38,727.91 L263.27,726.27 L264.16,724.67 L265.04,723.10 L265.93,721.57 L266.82,720.07 L267.70,718.60 L268.59,717.16 L269.48,715.75 L270.37,714.37 L271.25,713.01 L272.14,711.69 L273.03,710.39 L273.92,709.11 L274.80,707.86 L275.69,706.64 L276.58,705.44 L277.46,704.26 L278.35,703.10 L279.24,701.97 L280.13,700.85 L281.01,699.76 L281.90,698.69 L282.79,697.63 L283.68,696.60 L284.56,695.58 L285.45,694.58 L286.34,693.60 L287.22,692.64 L288.11,691.69 L289.00,690.76 L289.89,689.84 L290.77,688.94 L291.66,688.06 L292.55,687.19 L293.44,686.33 L294.32,685.49 L295.21,684.66 L296.10,683.84 L296.98,683.04 L297.87,682.25 L298.76,681.47 L299.65,680.71 L300.53,679.96 L301.42,679.21 L302.31,678.48 L303.20,677.76 L304.08,677.05 L304.97,676.36 L305.86,675.67 L306.75,674.99 L307.63,674.32 L308.52,673.67 L309.41,673.02 L310.29,672.38 L311.18,671.75 L312.07,671.13 L312.96,670.51 L313.84,669.91 L314.73,669.31 L315.62,668.73 L316.51,668.15 L317.39,667.58 L318.28,667.01 L319.17,666.45 L320.05,665.91 L320.94,665.36 L321.83,664.83 L322.72,664.30 L323.60,663.78 L324.49,663.27 L325.38,662.76 L326.27,662.26 L327.15,661.76 L328.04,661.28 L328.93,660.79 L329.81,660.32 L330.70,659.85 L331.59,659.38 L332.48,658.92 L333.36,658.47 L334.25,658.02 L335.14,657.58 L336.03,657.14 L336.91,656.71 L337.80,656.28 L338.69,655.86 L339.57,655.45 L340.46,655.03 L341.35,654.63 L342.24,654.22 L343.12,653.83 L344.01,653.43 L344.90,653.04 L345.79,652.66 L346.67,652.28 L347.56,651.90 L348.45,651.53 L349.34,651.16 L350.22,650.80 L351.11,650.44 L352.00,650.08 L352.88,649.73 L353.77,649.38 L354.66,649.04 L355.55,648.70 L356.43,648.36 L357.32,648.02 L358.21,647.69 L359.10,647.37 L359.98,647.04 L360.87,646.72 L361.76,646.41 L362.64,646.09 L363.53,645.78 L364.42,645.47 L365.31,645.17 L366.19,644.87 L367.08,644.57 L367.97,644.28 L368.86,643.98 L369.74,643.69 L370.63,643.41 L371.52,643.12 L372.40,642.84 L373.29,642.56 L374.18,642.29 L375.07,642.01 L375.95,641.74 L376.84,641.47 L377.73,641.21 L378.62,640.95 L379.50,640.69 L380.39,640.43 L381.28,640.17 L382.16,639.92 L383.05,639.67 L383.94,639.42 L384.83,639.17 L385.71,638.93 L386.60,638.69 L387.49,638.45 L388.38,638.21 L389.26,637.97 L390.15,637.74 L391.04,637.51 L391.93,637.28 L392.81,637.05 L393.70,636.82 L394.59,636.60 L395.47,636.38 L396.36,636.16 L397.25,635.94 L398.14,635.72 L399.02,635.51 L399.91,635.30 L400.80,635.09 L401.69,634.88 L402.57,634.67 L403.46,634.47 L404.35,634.26 L405.23,634.06 L406.12,633.86 L407.01,633.66 L407.90,633.46 L408.78,633.27 L409.67,633.07 L410.56,632.88 L411.45,632.69 L412.33,632.50 L413.22,632.31 L414.11,632.13 L414.99,631.94 L415.88,631.76 L416.77,631.58 L417.66,631.40 L418.54,631.22 L419.43,631.04 L420.32,630.86 L421.21,630.69 L422.09,630.51 L422.98,630.34 L423.87,630.17 L424.75,630.00 L425.64,629.83 L426.53,629.67 L427.42,629.50 L428.30,629.34 L429.19,629.17 L430.08,629.01 L430.97,628.85 L431.85,628.69 L432.74,628.53 L433.63,628.37 L434.52,628.22 L435.40,628.06 L436.29,627.91 L437.18,627.75 L438.06,627.60 L438.95,627.45 L439.84,627.30 L440.73,627.15 L441.61,627.00 L442.50,626.86 L443.39,626.71 L444.28,626.57 L445.16,626.42 L446.05,626.28 L446.94,626.14 L447.82,626.00 L448.71,625.86 L449.60,625.72 L450.49,625.58 L451.37,625.45 L452.26,625.31 L453.15,625.18 L454.04,625.04 L454.92,624.91 L455.81,624.78 L456.70,624.65 L457.58,624.51 L458.47,624.39 L459.36,624.26 L460.25,624.13 L461.13,624.00 L462.02,623.88 L462.91,623.75 L463.80,623.63 L464.68,623.50 L465.57,623.38 L466.46,623.26 L467.34,623.14 L468.23,623.01 L469.12,622.89 L470.01,622.78 L470.89,622.66 L471.78,622.54 L472.67,622.42 L473.56,622.31 L474.44,622.19 L475.33,622.08 L476.22,621.96 L477.11,621.85 L477.99,621.74 L478.88,621.63 L479.77,621.51 L480.65,621.40 L481.54,621.29 L482.43,621.19 L483.32,621.08 L484.20,620.97 L485.09,620.86 L485.98,620.76 L486.87,620.65 L487.75,620.54 L488.64,620.44 L489.53,620.34 L490.41,620.23 L491.30,620.13 L492.19,620.03 L493.08,619.93 L493.96,619.83 L494.85,619.73 L495.74,619.63 L496.63,619.53 L497.51,619.43 L498.40,619.33" stroke="#ff1a1a" stroke-width="1.3" fill="none"/>
<text transform="translate(210.8,717.5) rotate(-90)" text-anchor="middle" font-size="10.7" letter-spacing="0.21">[θ] at 217 nm (10<tspan font-size="7.92" dy="-4.49">3</tspan><tspan dy="4.49"> ·deg ·cm</tspan><tspan font-size="7.92" dy="-4.49">2</tspan><tspan dy="4.49"> ·dmol</tspan><tspan font-size="7.92" dy="-4.49">-1</tspan><tspan dy="4.49">)</tspan></text>
<text x="382.90" y="861.7" text-anchor="middle" font-size="11.2">ZnCl<tspan font-size="7.5" dy="3">2</tspan><tspan dy="-3"> (μM)</tspan></text>
<text x="199.5" y="619.8" font-size="24" font-weight="bold">E</text>
</svg>
</body></html>
